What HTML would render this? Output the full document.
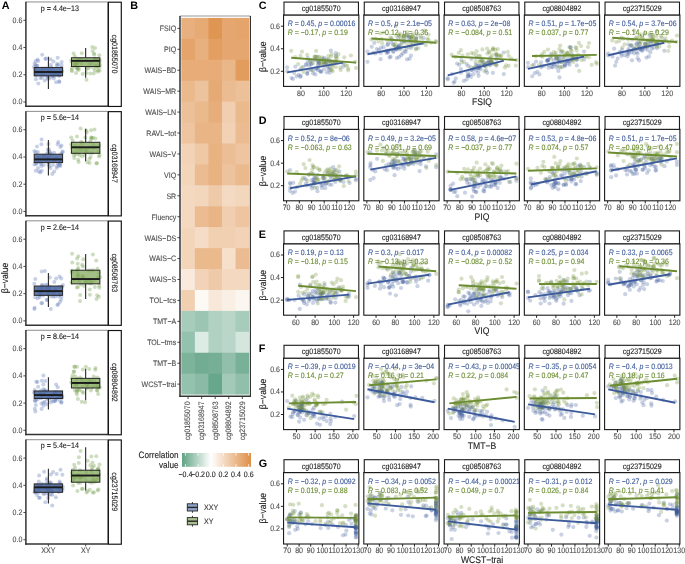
<!DOCTYPE html>
<html><head><meta charset="utf-8"><style>
html,body{margin:0;padding:0;background:#fff;}
svg{display:block;will-change:transform;filter:blur(0.3px);text-rendering:geometricPrecision;}
text{stroke-width:0.1px;}
svg{font-family:"Liberation Sans", sans-serif;}
</style></head><body>
<svg width="685" height="564" viewBox="0 0 685 564">
<rect x="0" y="0" width="685" height="564" fill="#fff"/>
<text x="1.70" y="9.13" font-size="10.8" font-weight="bold" fill="#000">A</text>
<text x="130.20" y="9.13" font-size="10.8" font-weight="bold" fill="#000">B</text>
<text x="258.80" y="9.23" font-size="10.8" font-weight="bold" fill="#000">C</text>
<text x="258.80" y="123.63" font-size="10.8" font-weight="bold" fill="#000">D</text>
<text x="258.80" y="238.03" font-size="10.8" font-weight="bold" fill="#000">E</text>
<text x="258.80" y="352.43" font-size="10.8" font-weight="bold" fill="#000">F</text>
<text x="258.80" y="466.83" font-size="10.8" font-weight="bold" fill="#000">G</text>
<line x1="25.90" y1="1.95" x2="107.70" y2="1.95" stroke="#7f7f7f" stroke-width="0.9" />
<line x1="107.70" y1="1.75" x2="107.70" y2="106.25" stroke="#7f7f7f" stroke-width="0.9" />
<line x1="23.40" y1="102.00" x2="25.90" y2="102.00" stroke="#333" stroke-width="0.9" />
<text transform="translate(22.40,104.43) scale(1,1.12)" font-size="7.05" fill="#4d4d4d" stroke="#4d4d4d" text-anchor="end" >0.0</text>
<line x1="23.40" y1="74.77" x2="25.90" y2="74.77" stroke="#333" stroke-width="0.9" />
<text transform="translate(22.40,77.20) scale(1,1.12)" font-size="7.05" fill="#4d4d4d" stroke="#4d4d4d" text-anchor="end" >0.2</text>
<line x1="23.40" y1="47.54" x2="25.90" y2="47.54" stroke="#333" stroke-width="0.9" />
<text transform="translate(22.40,49.97) scale(1,1.12)" font-size="7.05" fill="#4d4d4d" stroke="#4d4d4d" text-anchor="end" >0.4</text>
<line x1="23.40" y1="20.31" x2="25.90" y2="20.31" stroke="#333" stroke-width="0.9" />
<text transform="translate(22.40,22.74) scale(1,1.12)" font-size="7.05" fill="#4d4d4d" stroke="#4d4d4d" text-anchor="end" >0.6</text>
<g fill="#647dba" fill-opacity="0.36">
<circle cx="52.8" cy="69.8" r="2.0"/>
<circle cx="36.0" cy="75.4" r="2.0"/>
<circle cx="35.6" cy="64.9" r="2.0"/>
<circle cx="48.6" cy="70.1" r="2.0"/>
<circle cx="35.9" cy="79.2" r="2.0"/>
<circle cx="36.5" cy="73.5" r="2.0"/>
<circle cx="37.5" cy="59.5" r="2.0"/>
<circle cx="40.4" cy="77.9" r="2.0"/>
<circle cx="50.6" cy="59.3" r="2.0"/>
<circle cx="45.4" cy="58.9" r="2.0"/>
<circle cx="58.8" cy="73.9" r="2.0"/>
<circle cx="42.3" cy="71.3" r="2.0"/>
<circle cx="42.8" cy="73.9" r="2.0"/>
<circle cx="57.6" cy="74.5" r="2.0"/>
<circle cx="52.4" cy="75.7" r="2.0"/>
<circle cx="44.7" cy="80.4" r="2.0"/>
<circle cx="35.6" cy="69.1" r="2.0"/>
<circle cx="39.9" cy="70.9" r="2.0"/>
<circle cx="43.0" cy="68.4" r="2.0"/>
<circle cx="50.9" cy="64.7" r="2.0"/>
<circle cx="56.9" cy="65.7" r="2.0"/>
<circle cx="54.2" cy="73.4" r="2.0"/>
<circle cx="49.1" cy="72.0" r="2.0"/>
<circle cx="59.3" cy="81.2" r="2.0"/>
<circle cx="62.3" cy="70.9" r="2.0"/>
<circle cx="37.3" cy="65.7" r="2.0"/>
<circle cx="38.3" cy="61.0" r="2.0"/>
<circle cx="48.1" cy="77.7" r="2.0"/>
<circle cx="56.1" cy="82.2" r="2.0"/>
<circle cx="50.5" cy="74.3" r="2.0"/>
<circle cx="54.1" cy="76.1" r="2.0"/>
<circle cx="51.1" cy="67.2" r="2.0"/>
<circle cx="58.3" cy="64.6" r="2.0"/>
<circle cx="61.3" cy="67.8" r="2.0"/>
<circle cx="35.7" cy="61.0" r="2.0"/>
<circle cx="54.2" cy="73.4" r="2.0"/>
<circle cx="57.7" cy="57.8" r="2.0"/>
<circle cx="42.2" cy="54.8" r="2.0"/>
<circle cx="34.6" cy="63.5" r="2.0"/>
<circle cx="47.3" cy="78.8" r="2.0"/>
<circle cx="35.6" cy="73.4" r="2.0"/>
<circle cx="56.2" cy="74.8" r="2.0"/>
<circle cx="45.2" cy="75.4" r="2.0"/>
<circle cx="59.2" cy="75.7" r="2.0"/>
<circle cx="49.8" cy="78.6" r="2.0"/>
<circle cx="59.5" cy="75.5" r="2.0"/>
<circle cx="42.0" cy="77.8" r="2.0"/>
<circle cx="45.9" cy="58.4" r="2.0"/>
<circle cx="61.7" cy="62.1" r="2.0"/>
<circle cx="38.3" cy="83.4" r="2.0"/>
<circle cx="40.7" cy="74.0" r="2.0"/>
<circle cx="48.0" cy="76.4" r="2.0"/>
<circle cx="34.0" cy="66.8" r="2.0"/>
<circle cx="46.0" cy="68.6" r="2.0"/>
<circle cx="61.5" cy="65.2" r="2.0"/>
<circle cx="53.9" cy="78.6" r="2.0"/>
<circle cx="53.5" cy="61.6" r="2.0"/>
<circle cx="35.5" cy="70.7" r="2.0"/>
<circle cx="59.3" cy="81.9" r="2.0"/>
<circle cx="57.0" cy="64.1" r="2.0"/>
<circle cx="36.9" cy="65.9" r="2.0"/>
<circle cx="52.3" cy="76.3" r="2.0"/>
</g>
<g fill="#78a050" fill-opacity="0.36">
<circle cx="77.2" cy="64.8" r="2.0"/>
<circle cx="75.9" cy="63.2" r="2.0"/>
<circle cx="71.2" cy="60.8" r="2.0"/>
<circle cx="75.5" cy="64.3" r="2.0"/>
<circle cx="71.9" cy="68.0" r="2.0"/>
<circle cx="96.5" cy="66.5" r="2.0"/>
<circle cx="78.5" cy="58.9" r="2.0"/>
<circle cx="81.2" cy="59.3" r="2.0"/>
<circle cx="95.8" cy="59.6" r="2.0"/>
<circle cx="99.9" cy="65.1" r="2.0"/>
<circle cx="73.6" cy="53.5" r="2.0"/>
<circle cx="74.1" cy="64.0" r="2.0"/>
<circle cx="95.2" cy="58.9" r="2.0"/>
<circle cx="75.8" cy="67.2" r="2.0"/>
<circle cx="86.5" cy="79.8" r="2.0"/>
<circle cx="75.4" cy="64.9" r="2.0"/>
<circle cx="86.5" cy="60.4" r="2.0"/>
<circle cx="99.5" cy="61.7" r="2.0"/>
<circle cx="78.7" cy="69.9" r="2.0"/>
<circle cx="81.8" cy="53.2" r="2.0"/>
<circle cx="86.6" cy="68.7" r="2.0"/>
<circle cx="93.7" cy="73.6" r="2.0"/>
<circle cx="94.7" cy="59.5" r="2.0"/>
<circle cx="99.7" cy="66.9" r="2.0"/>
<circle cx="94.9" cy="70.5" r="2.0"/>
<circle cx="92.6" cy="51.1" r="2.0"/>
<circle cx="81.5" cy="63.5" r="2.0"/>
<circle cx="72.0" cy="71.3" r="2.0"/>
<circle cx="78.7" cy="68.2" r="2.0"/>
<circle cx="91.2" cy="63.2" r="2.0"/>
<circle cx="98.3" cy="70.2" r="2.0"/>
<circle cx="99.8" cy="59.9" r="2.0"/>
<circle cx="77.5" cy="69.1" r="2.0"/>
<circle cx="77.7" cy="60.1" r="2.0"/>
<circle cx="89.2" cy="63.9" r="2.0"/>
<circle cx="97.3" cy="67.0" r="2.0"/>
<circle cx="90.1" cy="66.9" r="2.0"/>
<circle cx="94.3" cy="54.8" r="2.0"/>
<circle cx="97.5" cy="71.8" r="2.0"/>
<circle cx="93.8" cy="67.9" r="2.0"/>
<circle cx="76.3" cy="62.2" r="2.0"/>
<circle cx="94.0" cy="53.4" r="2.0"/>
<circle cx="99.3" cy="55.3" r="2.0"/>
<circle cx="82.6" cy="74.1" r="2.0"/>
<circle cx="92.2" cy="47.1" r="2.0"/>
<circle cx="76.1" cy="72.9" r="2.0"/>
<circle cx="97.4" cy="65.2" r="2.0"/>
<circle cx="94.5" cy="65.3" r="2.0"/>
<circle cx="99.6" cy="70.8" r="2.0"/>
<circle cx="90.2" cy="73.5" r="2.0"/>
<circle cx="74.9" cy="56.5" r="2.0"/>
<circle cx="71.6" cy="69.9" r="2.0"/>
<circle cx="86.4" cy="73.0" r="2.0"/>
<circle cx="98.2" cy="60.1" r="2.0"/>
<circle cx="95.1" cy="48.0" r="2.0"/>
<circle cx="77.3" cy="68.4" r="2.0"/>
<circle cx="78.1" cy="62.1" r="2.0"/>
<circle cx="88.2" cy="68.5" r="2.0"/>
</g>
<line x1="48.40" y1="56.75" x2="48.40" y2="67.45" stroke="#262626" stroke-width="1.1" />
<line x1="48.40" y1="75.85" x2="48.40" y2="88.95" stroke="#262626" stroke-width="1.1" />
<rect x="34.20" y="67.45" width="28.40" height="8.40" fill="#46649e" stroke="#262626" stroke-width="1.0" fill-opacity="0.85"/>
<line x1="34.20" y1="72.00" x2="62.60" y2="72.00" stroke="#1a1a1a" stroke-width="1.9" />
<line x1="85.65" y1="47.95" x2="85.65" y2="57.75" stroke="#262626" stroke-width="1.1" />
<line x1="85.65" y1="66.55" x2="85.65" y2="77.85" stroke="#262626" stroke-width="1.1" />
<rect x="71.45" y="57.75" width="28.40" height="8.80" fill="#83a85b" stroke="#262626" stroke-width="1.0" fill-opacity="0.74"/>
<line x1="71.45" y1="60.85" x2="99.85" y2="60.85" stroke="#1a1a1a" stroke-width="1.9" />
<text transform="translate(59.90,10.62) scale(1,1.12)" font-size="7.15" fill="#1a1a1a" stroke="#1a1a1a" text-anchor="middle" >p = 4.4e−13</text>
<line x1="25.90" y1="1.75" x2="25.90" y2="106.95" stroke="#333" stroke-width="1.5" />
<line x1="25.20" y1="106.25" x2="108.10" y2="106.25" stroke="#333" stroke-width="1.5" />
<rect x="108.40" y="2.20" width="12.90" height="104.25" fill="#fff" stroke="#111" stroke-width="1.15" />
<text x="0" y="0" font-size="7.05" fill="#1a1a1a" stroke="#1a1a1a" text-anchor="middle" transform="translate(112.02,54.00) rotate(90) scale(1,1.12)">cg01855070</text>
<line x1="25.90" y1="111.39" x2="107.70" y2="111.39" stroke="#7f7f7f" stroke-width="0.9" />
<line x1="107.70" y1="111.19" x2="107.70" y2="215.69" stroke="#7f7f7f" stroke-width="0.9" />
<line x1="23.40" y1="211.44" x2="25.90" y2="211.44" stroke="#333" stroke-width="0.9" />
<text transform="translate(22.40,213.87) scale(1,1.12)" font-size="7.05" fill="#4d4d4d" stroke="#4d4d4d" text-anchor="end" >0.0</text>
<line x1="23.40" y1="184.21" x2="25.90" y2="184.21" stroke="#333" stroke-width="0.9" />
<text transform="translate(22.40,186.64) scale(1,1.12)" font-size="7.05" fill="#4d4d4d" stroke="#4d4d4d" text-anchor="end" >0.2</text>
<line x1="23.40" y1="156.98" x2="25.90" y2="156.98" stroke="#333" stroke-width="0.9" />
<text transform="translate(22.40,159.41) scale(1,1.12)" font-size="7.05" fill="#4d4d4d" stroke="#4d4d4d" text-anchor="end" >0.4</text>
<line x1="23.40" y1="129.75" x2="25.90" y2="129.75" stroke="#333" stroke-width="0.9" />
<text transform="translate(22.40,132.18) scale(1,1.12)" font-size="7.05" fill="#4d4d4d" stroke="#4d4d4d" text-anchor="end" >0.6</text>
<g fill="#647dba" fill-opacity="0.36">
<circle cx="37.7" cy="157.9" r="2.0"/>
<circle cx="60.3" cy="166.0" r="2.0"/>
<circle cx="50.8" cy="153.5" r="2.0"/>
<circle cx="60.1" cy="164.8" r="2.0"/>
<circle cx="48.4" cy="144.1" r="2.0"/>
<circle cx="49.3" cy="166.2" r="2.0"/>
<circle cx="46.7" cy="157.0" r="2.0"/>
<circle cx="39.2" cy="158.2" r="2.0"/>
<circle cx="38.9" cy="171.5" r="2.0"/>
<circle cx="47.6" cy="158.7" r="2.0"/>
<circle cx="43.4" cy="156.9" r="2.0"/>
<circle cx="48.9" cy="149.2" r="2.0"/>
<circle cx="37.0" cy="146.4" r="2.0"/>
<circle cx="50.1" cy="154.0" r="2.0"/>
<circle cx="56.3" cy="158.4" r="2.0"/>
<circle cx="48.6" cy="164.3" r="2.0"/>
<circle cx="60.4" cy="147.0" r="2.0"/>
<circle cx="46.8" cy="153.7" r="2.0"/>
<circle cx="48.8" cy="151.8" r="2.0"/>
<circle cx="54.0" cy="152.8" r="2.0"/>
<circle cx="47.8" cy="149.8" r="2.0"/>
<circle cx="61.2" cy="161.0" r="2.0"/>
<circle cx="61.2" cy="153.7" r="2.0"/>
<circle cx="41.4" cy="144.2" r="2.0"/>
<circle cx="58.3" cy="142.1" r="2.0"/>
<circle cx="37.9" cy="152.0" r="2.0"/>
<circle cx="36.0" cy="164.1" r="2.0"/>
<circle cx="40.9" cy="163.9" r="2.0"/>
<circle cx="56.6" cy="168.1" r="2.0"/>
<circle cx="59.9" cy="163.2" r="2.0"/>
<circle cx="53.0" cy="164.9" r="2.0"/>
<circle cx="38.0" cy="168.0" r="2.0"/>
<circle cx="40.3" cy="172.6" r="2.0"/>
<circle cx="61.5" cy="145.5" r="2.0"/>
<circle cx="62.6" cy="151.6" r="2.0"/>
<circle cx="58.0" cy="163.4" r="2.0"/>
<circle cx="48.9" cy="162.5" r="2.0"/>
<circle cx="43.7" cy="165.0" r="2.0"/>
<circle cx="54.8" cy="160.5" r="2.0"/>
<circle cx="34.5" cy="164.4" r="2.0"/>
<circle cx="34.4" cy="151.0" r="2.0"/>
<circle cx="43.5" cy="155.8" r="2.0"/>
<circle cx="35.8" cy="152.2" r="2.0"/>
<circle cx="62.5" cy="152.2" r="2.0"/>
<circle cx="36.9" cy="163.0" r="2.0"/>
<circle cx="41.6" cy="139.5" r="2.0"/>
<circle cx="41.7" cy="170.7" r="2.0"/>
<circle cx="37.7" cy="161.5" r="2.0"/>
<circle cx="57.7" cy="144.2" r="2.0"/>
<circle cx="41.4" cy="165.9" r="2.0"/>
<circle cx="50.4" cy="168.1" r="2.0"/>
<circle cx="54.2" cy="171.6" r="2.0"/>
<circle cx="53.9" cy="160.5" r="2.0"/>
<circle cx="46.2" cy="159.7" r="2.0"/>
<circle cx="52.3" cy="173.9" r="2.0"/>
<circle cx="57.1" cy="166.0" r="2.0"/>
<circle cx="35.8" cy="170.8" r="2.0"/>
<circle cx="58.9" cy="165.6" r="2.0"/>
<circle cx="49.9" cy="152.0" r="2.0"/>
<circle cx="60.8" cy="160.3" r="2.0"/>
<circle cx="49.2" cy="158.0" r="2.0"/>
<circle cx="40.8" cy="162.2" r="2.0"/>
</g>
<g fill="#78a050" fill-opacity="0.36">
<circle cx="72.6" cy="152.2" r="2.0"/>
<circle cx="77.0" cy="151.4" r="2.0"/>
<circle cx="93.2" cy="144.7" r="2.0"/>
<circle cx="79.6" cy="155.3" r="2.0"/>
<circle cx="81.2" cy="141.8" r="2.0"/>
<circle cx="71.7" cy="147.8" r="2.0"/>
<circle cx="92.4" cy="147.8" r="2.0"/>
<circle cx="87.1" cy="149.5" r="2.0"/>
<circle cx="98.3" cy="151.8" r="2.0"/>
<circle cx="74.2" cy="157.9" r="2.0"/>
<circle cx="85.5" cy="152.1" r="2.0"/>
<circle cx="95.4" cy="138.6" r="2.0"/>
<circle cx="91.1" cy="138.9" r="2.0"/>
<circle cx="99.6" cy="154.9" r="2.0"/>
<circle cx="91.6" cy="137.8" r="2.0"/>
<circle cx="89.6" cy="162.9" r="2.0"/>
<circle cx="72.7" cy="140.5" r="2.0"/>
<circle cx="74.9" cy="152.8" r="2.0"/>
<circle cx="78.6" cy="162.0" r="2.0"/>
<circle cx="75.9" cy="154.5" r="2.0"/>
<circle cx="96.4" cy="163.3" r="2.0"/>
<circle cx="90.6" cy="157.1" r="2.0"/>
<circle cx="79.6" cy="146.4" r="2.0"/>
<circle cx="84.5" cy="154.8" r="2.0"/>
<circle cx="78.8" cy="153.5" r="2.0"/>
<circle cx="99.0" cy="156.5" r="2.0"/>
<circle cx="78.2" cy="159.7" r="2.0"/>
<circle cx="99.2" cy="145.7" r="2.0"/>
<circle cx="71.2" cy="144.5" r="2.0"/>
<circle cx="82.2" cy="156.2" r="2.0"/>
<circle cx="77.0" cy="136.6" r="2.0"/>
<circle cx="85.8" cy="149.6" r="2.0"/>
<circle cx="73.8" cy="155.3" r="2.0"/>
<circle cx="82.7" cy="148.0" r="2.0"/>
<circle cx="80.0" cy="149.8" r="2.0"/>
<circle cx="77.9" cy="148.3" r="2.0"/>
<circle cx="92.9" cy="137.7" r="2.0"/>
<circle cx="90.2" cy="141.8" r="2.0"/>
<circle cx="82.4" cy="143.6" r="2.0"/>
<circle cx="80.6" cy="128.6" r="2.0"/>
<circle cx="92.2" cy="153.2" r="2.0"/>
<circle cx="89.8" cy="147.3" r="2.0"/>
<circle cx="97.0" cy="163.3" r="2.0"/>
<circle cx="89.3" cy="152.7" r="2.0"/>
<circle cx="75.2" cy="146.0" r="2.0"/>
<circle cx="86.3" cy="130.4" r="2.0"/>
<circle cx="94.5" cy="129.6" r="2.0"/>
<circle cx="95.1" cy="147.3" r="2.0"/>
<circle cx="91.0" cy="130.3" r="2.0"/>
<circle cx="91.3" cy="137.6" r="2.0"/>
<circle cx="75.0" cy="148.1" r="2.0"/>
<circle cx="81.6" cy="150.2" r="2.0"/>
<circle cx="87.3" cy="162.2" r="2.0"/>
<circle cx="89.4" cy="158.9" r="2.0"/>
<circle cx="85.3" cy="137.6" r="2.0"/>
<circle cx="71.2" cy="137.5" r="2.0"/>
<circle cx="85.7" cy="152.5" r="2.0"/>
<circle cx="86.7" cy="132.6" r="2.0"/>
</g>
<line x1="48.40" y1="139.89" x2="48.40" y2="154.19" stroke="#262626" stroke-width="1.1" />
<line x1="48.40" y1="162.59" x2="48.40" y2="175.59" stroke="#262626" stroke-width="1.1" />
<rect x="34.20" y="154.19" width="28.40" height="8.40" fill="#46649e" stroke="#262626" stroke-width="1.0" fill-opacity="0.85"/>
<line x1="34.20" y1="159.39" x2="62.60" y2="159.39" stroke="#1a1a1a" stroke-width="1.9" />
<line x1="85.65" y1="128.69" x2="85.65" y2="142.29" stroke="#262626" stroke-width="1.1" />
<line x1="85.65" y1="153.29" x2="85.65" y2="161.29" stroke="#262626" stroke-width="1.1" />
<rect x="71.45" y="142.29" width="28.40" height="11.00" fill="#83a85b" stroke="#262626" stroke-width="1.0" fill-opacity="0.74"/>
<line x1="71.45" y1="147.29" x2="99.85" y2="147.29" stroke="#1a1a1a" stroke-width="1.9" />
<text transform="translate(59.90,120.06) scale(1,1.12)" font-size="7.15" fill="#1a1a1a" stroke="#1a1a1a" text-anchor="middle" >p = 5.6e−14</text>
<line x1="25.90" y1="111.19" x2="25.90" y2="216.39" stroke="#333" stroke-width="1.5" />
<line x1="25.20" y1="215.69" x2="108.10" y2="215.69" stroke="#333" stroke-width="1.5" />
<rect x="108.40" y="111.64" width="12.90" height="104.25" fill="#fff" stroke="#111" stroke-width="1.15" />
<text x="0" y="0" font-size="7.05" fill="#1a1a1a" stroke="#1a1a1a" text-anchor="middle" transform="translate(112.02,163.44) rotate(90) scale(1,1.12)">cg03168947</text>
<line x1="25.90" y1="220.83" x2="107.70" y2="220.83" stroke="#7f7f7f" stroke-width="0.9" />
<line x1="107.70" y1="220.63" x2="107.70" y2="325.13" stroke="#7f7f7f" stroke-width="0.9" />
<line x1="23.40" y1="320.88" x2="25.90" y2="320.88" stroke="#333" stroke-width="0.9" />
<text transform="translate(22.40,323.31) scale(1,1.12)" font-size="7.05" fill="#4d4d4d" stroke="#4d4d4d" text-anchor="end" >0.0</text>
<line x1="23.40" y1="293.65" x2="25.90" y2="293.65" stroke="#333" stroke-width="0.9" />
<text transform="translate(22.40,296.08) scale(1,1.12)" font-size="7.05" fill="#4d4d4d" stroke="#4d4d4d" text-anchor="end" >0.2</text>
<line x1="23.40" y1="266.42" x2="25.90" y2="266.42" stroke="#333" stroke-width="0.9" />
<text transform="translate(22.40,268.85) scale(1,1.12)" font-size="7.05" fill="#4d4d4d" stroke="#4d4d4d" text-anchor="end" >0.4</text>
<line x1="23.40" y1="239.19" x2="25.90" y2="239.19" stroke="#333" stroke-width="0.9" />
<text transform="translate(22.40,241.62) scale(1,1.12)" font-size="7.05" fill="#4d4d4d" stroke="#4d4d4d" text-anchor="end" >0.6</text>
<g fill="#647dba" fill-opacity="0.36">
<circle cx="55.3" cy="289.1" r="2.0"/>
<circle cx="41.2" cy="288.2" r="2.0"/>
<circle cx="55.1" cy="296.4" r="2.0"/>
<circle cx="39.9" cy="293.5" r="2.0"/>
<circle cx="48.2" cy="289.3" r="2.0"/>
<circle cx="45.0" cy="271.0" r="2.0"/>
<circle cx="56.1" cy="278.5" r="2.0"/>
<circle cx="51.8" cy="292.3" r="2.0"/>
<circle cx="38.2" cy="288.7" r="2.0"/>
<circle cx="41.3" cy="288.1" r="2.0"/>
<circle cx="50.4" cy="290.4" r="2.0"/>
<circle cx="34.3" cy="283.8" r="2.0"/>
<circle cx="53.4" cy="296.6" r="2.0"/>
<circle cx="54.0" cy="293.1" r="2.0"/>
<circle cx="48.9" cy="287.7" r="2.0"/>
<circle cx="47.4" cy="284.7" r="2.0"/>
<circle cx="59.8" cy="286.7" r="2.0"/>
<circle cx="39.7" cy="291.5" r="2.0"/>
<circle cx="34.4" cy="308.9" r="2.0"/>
<circle cx="47.2" cy="288.1" r="2.0"/>
<circle cx="46.9" cy="299.7" r="2.0"/>
<circle cx="41.7" cy="271.5" r="2.0"/>
<circle cx="40.0" cy="295.6" r="2.0"/>
<circle cx="50.8" cy="308.9" r="2.0"/>
<circle cx="61.5" cy="296.9" r="2.0"/>
<circle cx="37.7" cy="298.3" r="2.0"/>
<circle cx="59.6" cy="294.8" r="2.0"/>
<circle cx="54.3" cy="282.0" r="2.0"/>
<circle cx="48.0" cy="292.7" r="2.0"/>
<circle cx="34.6" cy="307.8" r="2.0"/>
<circle cx="47.0" cy="300.1" r="2.0"/>
<circle cx="42.7" cy="290.9" r="2.0"/>
<circle cx="43.1" cy="295.4" r="2.0"/>
<circle cx="58.3" cy="296.4" r="2.0"/>
<circle cx="58.2" cy="304.2" r="2.0"/>
<circle cx="37.4" cy="290.8" r="2.0"/>
<circle cx="60.0" cy="302.1" r="2.0"/>
<circle cx="42.3" cy="285.0" r="2.0"/>
<circle cx="62.9" cy="285.1" r="2.0"/>
<circle cx="51.0" cy="296.5" r="2.0"/>
<circle cx="41.9" cy="285.2" r="2.0"/>
<circle cx="35.3" cy="297.2" r="2.0"/>
<circle cx="42.2" cy="303.0" r="2.0"/>
<circle cx="61.0" cy="299.8" r="2.0"/>
<circle cx="48.7" cy="290.7" r="2.0"/>
<circle cx="39.4" cy="297.0" r="2.0"/>
<circle cx="59.5" cy="276.5" r="2.0"/>
<circle cx="57.4" cy="305.1" r="2.0"/>
<circle cx="61.2" cy="278.5" r="2.0"/>
<circle cx="49.8" cy="277.6" r="2.0"/>
<circle cx="55.1" cy="290.2" r="2.0"/>
<circle cx="47.0" cy="288.2" r="2.0"/>
<circle cx="42.2" cy="290.9" r="2.0"/>
<circle cx="35.3" cy="279.1" r="2.0"/>
<circle cx="47.6" cy="294.5" r="2.0"/>
<circle cx="43.9" cy="288.8" r="2.0"/>
<circle cx="62.2" cy="286.8" r="2.0"/>
<circle cx="41.4" cy="303.3" r="2.0"/>
<circle cx="50.1" cy="286.9" r="2.0"/>
<circle cx="45.3" cy="285.0" r="2.0"/>
<circle cx="39.9" cy="293.1" r="2.0"/>
<circle cx="60.2" cy="294.8" r="2.0"/>
</g>
<g fill="#78a050" fill-opacity="0.36">
<circle cx="97.4" cy="268.7" r="2.0"/>
<circle cx="100.0" cy="277.2" r="2.0"/>
<circle cx="76.7" cy="270.9" r="2.0"/>
<circle cx="73.8" cy="279.0" r="2.0"/>
<circle cx="78.1" cy="274.2" r="2.0"/>
<circle cx="78.6" cy="281.4" r="2.0"/>
<circle cx="92.9" cy="254.6" r="2.0"/>
<circle cx="83.1" cy="266.6" r="2.0"/>
<circle cx="82.1" cy="264.7" r="2.0"/>
<circle cx="81.0" cy="284.5" r="2.0"/>
<circle cx="99.2" cy="285.8" r="2.0"/>
<circle cx="74.8" cy="280.7" r="2.0"/>
<circle cx="96.2" cy="260.4" r="2.0"/>
<circle cx="77.4" cy="276.7" r="2.0"/>
<circle cx="82.7" cy="275.9" r="2.0"/>
<circle cx="84.1" cy="285.9" r="2.0"/>
<circle cx="96.5" cy="299.1" r="2.0"/>
<circle cx="71.8" cy="270.5" r="2.0"/>
<circle cx="97.1" cy="295.2" r="2.0"/>
<circle cx="84.9" cy="280.8" r="2.0"/>
<circle cx="82.5" cy="276.8" r="2.0"/>
<circle cx="98.0" cy="276.9" r="2.0"/>
<circle cx="99.3" cy="287.7" r="2.0"/>
<circle cx="78.4" cy="256.3" r="2.0"/>
<circle cx="86.3" cy="282.3" r="2.0"/>
<circle cx="90.9" cy="281.4" r="2.0"/>
<circle cx="89.9" cy="294.7" r="2.0"/>
<circle cx="93.3" cy="270.2" r="2.0"/>
<circle cx="72.3" cy="262.6" r="2.0"/>
<circle cx="93.8" cy="281.0" r="2.0"/>
<circle cx="89.9" cy="279.9" r="2.0"/>
<circle cx="80.0" cy="301.0" r="2.0"/>
<circle cx="89.6" cy="283.3" r="2.0"/>
<circle cx="91.4" cy="283.5" r="2.0"/>
<circle cx="86.4" cy="280.5" r="2.0"/>
<circle cx="88.1" cy="280.0" r="2.0"/>
<circle cx="88.6" cy="270.6" r="2.0"/>
<circle cx="71.5" cy="282.5" r="2.0"/>
<circle cx="99.0" cy="272.8" r="2.0"/>
<circle cx="89.8" cy="289.5" r="2.0"/>
<circle cx="78.0" cy="287.0" r="2.0"/>
<circle cx="78.3" cy="268.1" r="2.0"/>
<circle cx="80.1" cy="294.9" r="2.0"/>
<circle cx="71.8" cy="272.5" r="2.0"/>
<circle cx="83.3" cy="259.3" r="2.0"/>
<circle cx="78.6" cy="277.2" r="2.0"/>
<circle cx="77.7" cy="263.7" r="2.0"/>
<circle cx="72.1" cy="253.7" r="2.0"/>
<circle cx="90.9" cy="270.5" r="2.0"/>
<circle cx="76.9" cy="287.5" r="2.0"/>
<circle cx="85.8" cy="282.7" r="2.0"/>
<circle cx="77.1" cy="258.5" r="2.0"/>
<circle cx="94.9" cy="287.1" r="2.0"/>
<circle cx="77.8" cy="275.1" r="2.0"/>
<circle cx="79.7" cy="280.6" r="2.0"/>
<circle cx="98.8" cy="296.7" r="2.0"/>
<circle cx="77.6" cy="269.4" r="2.0"/>
<circle cx="83.2" cy="277.2" r="2.0"/>
</g>
<line x1="48.40" y1="273.03" x2="48.40" y2="286.03" stroke="#262626" stroke-width="1.1" />
<line x1="48.40" y1="295.33" x2="48.40" y2="306.93" stroke="#262626" stroke-width="1.1" />
<rect x="34.20" y="286.03" width="28.40" height="9.30" fill="#46649e" stroke="#262626" stroke-width="1.0" fill-opacity="0.85"/>
<line x1="34.20" y1="291.13" x2="62.60" y2="291.13" stroke="#1a1a1a" stroke-width="1.9" />
<line x1="85.65" y1="254.03" x2="85.65" y2="270.23" stroke="#262626" stroke-width="1.1" />
<line x1="85.65" y1="283.83" x2="85.65" y2="299.03" stroke="#262626" stroke-width="1.1" />
<rect x="71.45" y="270.23" width="28.40" height="13.60" fill="#83a85b" stroke="#262626" stroke-width="1.0" fill-opacity="0.74"/>
<line x1="71.45" y1="279.03" x2="99.85" y2="279.03" stroke="#1a1a1a" stroke-width="1.9" />
<text transform="translate(59.90,229.50) scale(1,1.12)" font-size="7.15" fill="#1a1a1a" stroke="#1a1a1a" text-anchor="middle" >p = 2.6e−14</text>
<line x1="25.90" y1="220.63" x2="25.90" y2="325.83" stroke="#333" stroke-width="1.5" />
<line x1="25.20" y1="325.13" x2="108.10" y2="325.13" stroke="#333" stroke-width="1.5" />
<rect x="108.40" y="221.08" width="12.90" height="104.25" fill="#fff" stroke="#111" stroke-width="1.15" />
<text x="0" y="0" font-size="7.05" fill="#1a1a1a" stroke="#1a1a1a" text-anchor="middle" transform="translate(112.02,272.88) rotate(90) scale(1,1.12)">cg08508763</text>
<line x1="25.90" y1="330.27" x2="107.70" y2="330.27" stroke="#7f7f7f" stroke-width="0.9" />
<line x1="107.70" y1="330.07" x2="107.70" y2="434.57" stroke="#7f7f7f" stroke-width="0.9" />
<line x1="23.40" y1="430.32" x2="25.90" y2="430.32" stroke="#333" stroke-width="0.9" />
<text transform="translate(22.40,432.75) scale(1,1.12)" font-size="7.05" fill="#4d4d4d" stroke="#4d4d4d" text-anchor="end" >0.0</text>
<line x1="23.40" y1="403.09" x2="25.90" y2="403.09" stroke="#333" stroke-width="0.9" />
<text transform="translate(22.40,405.52) scale(1,1.12)" font-size="7.05" fill="#4d4d4d" stroke="#4d4d4d" text-anchor="end" >0.2</text>
<line x1="23.40" y1="375.86" x2="25.90" y2="375.86" stroke="#333" stroke-width="0.9" />
<text transform="translate(22.40,378.29) scale(1,1.12)" font-size="7.05" fill="#4d4d4d" stroke="#4d4d4d" text-anchor="end" >0.4</text>
<line x1="23.40" y1="348.63" x2="25.90" y2="348.63" stroke="#333" stroke-width="0.9" />
<text transform="translate(22.40,351.06) scale(1,1.12)" font-size="7.05" fill="#4d4d4d" stroke="#4d4d4d" text-anchor="end" >0.6</text>
<g fill="#647dba" fill-opacity="0.36">
<circle cx="38.1" cy="386.7" r="2.0"/>
<circle cx="45.3" cy="381.0" r="2.0"/>
<circle cx="38.0" cy="398.8" r="2.0"/>
<circle cx="35.4" cy="411.6" r="2.0"/>
<circle cx="59.9" cy="400.8" r="2.0"/>
<circle cx="59.5" cy="397.1" r="2.0"/>
<circle cx="60.9" cy="392.3" r="2.0"/>
<circle cx="43.4" cy="375.4" r="2.0"/>
<circle cx="55.5" cy="400.7" r="2.0"/>
<circle cx="34.8" cy="408.8" r="2.0"/>
<circle cx="44.7" cy="391.5" r="2.0"/>
<circle cx="43.5" cy="389.3" r="2.0"/>
<circle cx="42.0" cy="395.0" r="2.0"/>
<circle cx="44.1" cy="395.2" r="2.0"/>
<circle cx="61.9" cy="397.9" r="2.0"/>
<circle cx="39.9" cy="393.8" r="2.0"/>
<circle cx="57.7" cy="387.2" r="2.0"/>
<circle cx="46.4" cy="404.2" r="2.0"/>
<circle cx="44.7" cy="401.8" r="2.0"/>
<circle cx="60.6" cy="397.0" r="2.0"/>
<circle cx="59.9" cy="396.9" r="2.0"/>
<circle cx="34.8" cy="400.5" r="2.0"/>
<circle cx="56.1" cy="384.6" r="2.0"/>
<circle cx="35.1" cy="401.1" r="2.0"/>
<circle cx="60.6" cy="397.0" r="2.0"/>
<circle cx="41.4" cy="395.2" r="2.0"/>
<circle cx="43.7" cy="394.5" r="2.0"/>
<circle cx="41.8" cy="380.8" r="2.0"/>
<circle cx="41.5" cy="403.4" r="2.0"/>
<circle cx="54.7" cy="392.3" r="2.0"/>
<circle cx="34.0" cy="392.6" r="2.0"/>
<circle cx="55.8" cy="399.5" r="2.0"/>
<circle cx="61.3" cy="402.7" r="2.0"/>
<circle cx="34.6" cy="390.1" r="2.0"/>
<circle cx="61.6" cy="395.5" r="2.0"/>
<circle cx="61.6" cy="402.1" r="2.0"/>
<circle cx="46.4" cy="391.0" r="2.0"/>
<circle cx="48.2" cy="398.0" r="2.0"/>
<circle cx="57.2" cy="398.4" r="2.0"/>
<circle cx="55.3" cy="392.9" r="2.0"/>
<circle cx="51.5" cy="399.7" r="2.0"/>
<circle cx="43.4" cy="384.6" r="2.0"/>
<circle cx="56.6" cy="392.1" r="2.0"/>
<circle cx="36.2" cy="400.3" r="2.0"/>
<circle cx="41.1" cy="398.3" r="2.0"/>
<circle cx="35.8" cy="405.0" r="2.0"/>
<circle cx="43.3" cy="402.8" r="2.0"/>
<circle cx="62.3" cy="396.5" r="2.0"/>
<circle cx="41.6" cy="409.1" r="2.0"/>
<circle cx="36.3" cy="381.8" r="2.0"/>
<circle cx="54.5" cy="401.0" r="2.0"/>
<circle cx="46.9" cy="399.1" r="2.0"/>
<circle cx="51.9" cy="395.4" r="2.0"/>
<circle cx="53.4" cy="401.5" r="2.0"/>
<circle cx="53.2" cy="394.6" r="2.0"/>
<circle cx="37.4" cy="382.1" r="2.0"/>
<circle cx="50.3" cy="397.7" r="2.0"/>
<circle cx="44.7" cy="390.1" r="2.0"/>
<circle cx="41.1" cy="394.4" r="2.0"/>
<circle cx="41.0" cy="390.4" r="2.0"/>
<circle cx="50.7" cy="402.4" r="2.0"/>
<circle cx="43.4" cy="405.8" r="2.0"/>
</g>
<g fill="#78a050" fill-opacity="0.36">
<circle cx="85.9" cy="366.7" r="2.0"/>
<circle cx="77.9" cy="399.0" r="2.0"/>
<circle cx="99.9" cy="387.5" r="2.0"/>
<circle cx="74.1" cy="371.8" r="2.0"/>
<circle cx="95.5" cy="367.9" r="2.0"/>
<circle cx="97.7" cy="385.6" r="2.0"/>
<circle cx="74.6" cy="389.9" r="2.0"/>
<circle cx="76.6" cy="384.9" r="2.0"/>
<circle cx="98.1" cy="394.1" r="2.0"/>
<circle cx="81.9" cy="381.3" r="2.0"/>
<circle cx="78.7" cy="389.2" r="2.0"/>
<circle cx="93.7" cy="376.4" r="2.0"/>
<circle cx="88.4" cy="386.9" r="2.0"/>
<circle cx="89.1" cy="381.8" r="2.0"/>
<circle cx="75.2" cy="384.8" r="2.0"/>
<circle cx="77.1" cy="391.0" r="2.0"/>
<circle cx="90.0" cy="382.8" r="2.0"/>
<circle cx="77.0" cy="394.5" r="2.0"/>
<circle cx="90.8" cy="390.6" r="2.0"/>
<circle cx="76.5" cy="383.7" r="2.0"/>
<circle cx="94.2" cy="381.0" r="2.0"/>
<circle cx="87.0" cy="388.4" r="2.0"/>
<circle cx="82.6" cy="386.7" r="2.0"/>
<circle cx="87.1" cy="384.7" r="2.0"/>
<circle cx="75.9" cy="380.8" r="2.0"/>
<circle cx="91.3" cy="380.4" r="2.0"/>
<circle cx="80.1" cy="377.4" r="2.0"/>
<circle cx="98.8" cy="386.8" r="2.0"/>
<circle cx="81.5" cy="379.0" r="2.0"/>
<circle cx="83.2" cy="393.1" r="2.0"/>
<circle cx="81.7" cy="401.7" r="2.0"/>
<circle cx="76.9" cy="366.7" r="2.0"/>
<circle cx="71.3" cy="382.4" r="2.0"/>
<circle cx="97.3" cy="377.6" r="2.0"/>
<circle cx="82.9" cy="369.4" r="2.0"/>
<circle cx="96.8" cy="390.3" r="2.0"/>
<circle cx="71.6" cy="378.3" r="2.0"/>
<circle cx="87.1" cy="384.4" r="2.0"/>
<circle cx="73.7" cy="371.6" r="2.0"/>
<circle cx="89.2" cy="369.0" r="2.0"/>
<circle cx="75.4" cy="376.4" r="2.0"/>
<circle cx="79.4" cy="390.3" r="2.0"/>
<circle cx="74.3" cy="366.7" r="2.0"/>
<circle cx="85.4" cy="380.6" r="2.0"/>
<circle cx="76.9" cy="390.5" r="2.0"/>
<circle cx="74.8" cy="366.7" r="2.0"/>
<circle cx="85.1" cy="402.3" r="2.0"/>
<circle cx="72.7" cy="375.2" r="2.0"/>
<circle cx="97.4" cy="390.6" r="2.0"/>
<circle cx="89.1" cy="379.5" r="2.0"/>
<circle cx="93.9" cy="385.4" r="2.0"/>
<circle cx="77.6" cy="378.8" r="2.0"/>
<circle cx="95.2" cy="369.8" r="2.0"/>
<circle cx="76.5" cy="392.3" r="2.0"/>
<circle cx="86.2" cy="384.8" r="2.0"/>
<circle cx="82.3" cy="391.4" r="2.0"/>
<circle cx="92.2" cy="387.7" r="2.0"/>
<circle cx="97.2" cy="387.6" r="2.0"/>
</g>
<line x1="48.40" y1="377.37" x2="48.40" y2="390.97" stroke="#262626" stroke-width="1.1" />
<line x1="48.40" y1="398.47" x2="48.40" y2="409.57" stroke="#262626" stroke-width="1.1" />
<rect x="34.20" y="390.97" width="28.40" height="7.50" fill="#46649e" stroke="#262626" stroke-width="1.0" fill-opacity="0.85"/>
<line x1="34.20" y1="395.07" x2="62.60" y2="395.07" stroke="#1a1a1a" stroke-width="1.9" />
<line x1="85.65" y1="368.67" x2="85.65" y2="378.37" stroke="#262626" stroke-width="1.1" />
<line x1="85.65" y1="387.97" x2="85.65" y2="400.27" stroke="#262626" stroke-width="1.1" />
<rect x="71.45" y="378.37" width="28.40" height="9.60" fill="#83a85b" stroke="#262626" stroke-width="1.0" fill-opacity="0.74"/>
<line x1="71.45" y1="382.97" x2="99.85" y2="382.97" stroke="#1a1a1a" stroke-width="1.9" />
<text transform="translate(59.90,338.94) scale(1,1.12)" font-size="7.15" fill="#1a1a1a" stroke="#1a1a1a" text-anchor="middle" >p = 8.6e−14</text>
<line x1="25.90" y1="330.07" x2="25.90" y2="435.27" stroke="#333" stroke-width="1.5" />
<line x1="25.20" y1="434.57" x2="108.10" y2="434.57" stroke="#333" stroke-width="1.5" />
<rect x="108.40" y="330.52" width="12.90" height="104.25" fill="#fff" stroke="#111" stroke-width="1.15" />
<text x="0" y="0" font-size="7.05" fill="#1a1a1a" stroke="#1a1a1a" text-anchor="middle" transform="translate(112.02,382.32) rotate(90) scale(1,1.12)">cg08804892</text>
<line x1="25.90" y1="439.71" x2="107.70" y2="439.71" stroke="#7f7f7f" stroke-width="0.9" />
<line x1="107.70" y1="439.51" x2="107.70" y2="544.01" stroke="#7f7f7f" stroke-width="0.9" />
<line x1="23.40" y1="539.76" x2="25.90" y2="539.76" stroke="#333" stroke-width="0.9" />
<text transform="translate(22.40,542.19) scale(1,1.12)" font-size="7.05" fill="#4d4d4d" stroke="#4d4d4d" text-anchor="end" >0.0</text>
<line x1="23.40" y1="512.53" x2="25.90" y2="512.53" stroke="#333" stroke-width="0.9" />
<text transform="translate(22.40,514.96) scale(1,1.12)" font-size="7.05" fill="#4d4d4d" stroke="#4d4d4d" text-anchor="end" >0.2</text>
<line x1="23.40" y1="485.30" x2="25.90" y2="485.30" stroke="#333" stroke-width="0.9" />
<text transform="translate(22.40,487.73) scale(1,1.12)" font-size="7.05" fill="#4d4d4d" stroke="#4d4d4d" text-anchor="end" >0.4</text>
<line x1="23.40" y1="458.07" x2="25.90" y2="458.07" stroke="#333" stroke-width="0.9" />
<text transform="translate(22.40,460.50) scale(1,1.12)" font-size="7.05" fill="#4d4d4d" stroke="#4d4d4d" text-anchor="end" >0.6</text>
<g fill="#647dba" fill-opacity="0.36">
<circle cx="55.9" cy="497.2" r="2.0"/>
<circle cx="35.0" cy="490.5" r="2.0"/>
<circle cx="51.3" cy="490.0" r="2.0"/>
<circle cx="49.9" cy="485.0" r="2.0"/>
<circle cx="46.1" cy="483.8" r="2.0"/>
<circle cx="50.8" cy="483.6" r="2.0"/>
<circle cx="46.9" cy="478.5" r="2.0"/>
<circle cx="46.6" cy="492.9" r="2.0"/>
<circle cx="48.1" cy="498.1" r="2.0"/>
<circle cx="40.7" cy="489.6" r="2.0"/>
<circle cx="47.2" cy="489.2" r="2.0"/>
<circle cx="39.1" cy="475.4" r="2.0"/>
<circle cx="37.6" cy="484.7" r="2.0"/>
<circle cx="46.4" cy="488.7" r="2.0"/>
<circle cx="48.7" cy="494.7" r="2.0"/>
<circle cx="35.1" cy="492.4" r="2.0"/>
<circle cx="55.2" cy="486.1" r="2.0"/>
<circle cx="56.5" cy="485.8" r="2.0"/>
<circle cx="48.5" cy="485.7" r="2.0"/>
<circle cx="44.9" cy="487.9" r="2.0"/>
<circle cx="58.8" cy="491.9" r="2.0"/>
<circle cx="62.8" cy="486.9" r="2.0"/>
<circle cx="39.5" cy="486.6" r="2.0"/>
<circle cx="62.4" cy="474.8" r="2.0"/>
<circle cx="60.5" cy="469.8" r="2.0"/>
<circle cx="38.7" cy="489.0" r="2.0"/>
<circle cx="35.8" cy="492.1" r="2.0"/>
<circle cx="44.1" cy="471.7" r="2.0"/>
<circle cx="59.9" cy="488.3" r="2.0"/>
<circle cx="41.9" cy="483.8" r="2.0"/>
<circle cx="48.5" cy="489.7" r="2.0"/>
<circle cx="60.6" cy="484.4" r="2.0"/>
<circle cx="48.6" cy="489.6" r="2.0"/>
<circle cx="43.2" cy="493.6" r="2.0"/>
<circle cx="38.6" cy="492.6" r="2.0"/>
<circle cx="61.1" cy="489.2" r="2.0"/>
<circle cx="38.8" cy="481.5" r="2.0"/>
<circle cx="56.7" cy="474.1" r="2.0"/>
<circle cx="52.4" cy="494.8" r="2.0"/>
<circle cx="44.3" cy="494.1" r="2.0"/>
<circle cx="50.7" cy="494.6" r="2.0"/>
<circle cx="59.5" cy="481.5" r="2.0"/>
<circle cx="52.2" cy="505.6" r="2.0"/>
<circle cx="45.3" cy="502.2" r="2.0"/>
<circle cx="62.6" cy="489.8" r="2.0"/>
<circle cx="50.6" cy="482.6" r="2.0"/>
<circle cx="46.7" cy="480.2" r="2.0"/>
<circle cx="39.0" cy="497.7" r="2.0"/>
<circle cx="57.7" cy="488.0" r="2.0"/>
<circle cx="41.3" cy="485.8" r="2.0"/>
<circle cx="50.9" cy="474.6" r="2.0"/>
<circle cx="53.1" cy="472.0" r="2.0"/>
<circle cx="34.9" cy="487.9" r="2.0"/>
<circle cx="38.2" cy="488.5" r="2.0"/>
<circle cx="48.8" cy="482.3" r="2.0"/>
<circle cx="59.9" cy="482.9" r="2.0"/>
<circle cx="52.8" cy="491.7" r="2.0"/>
<circle cx="34.5" cy="492.0" r="2.0"/>
<circle cx="37.0" cy="494.9" r="2.0"/>
<circle cx="44.3" cy="488.2" r="2.0"/>
<circle cx="51.0" cy="489.7" r="2.0"/>
<circle cx="39.8" cy="497.7" r="2.0"/>
</g>
<g fill="#78a050" fill-opacity="0.36">
<circle cx="75.1" cy="467.8" r="2.0"/>
<circle cx="98.3" cy="467.9" r="2.0"/>
<circle cx="73.9" cy="476.4" r="2.0"/>
<circle cx="89.7" cy="482.1" r="2.0"/>
<circle cx="82.8" cy="488.8" r="2.0"/>
<circle cx="78.8" cy="463.0" r="2.0"/>
<circle cx="87.5" cy="491.2" r="2.0"/>
<circle cx="81.3" cy="477.3" r="2.0"/>
<circle cx="98.3" cy="469.3" r="2.0"/>
<circle cx="92.4" cy="467.3" r="2.0"/>
<circle cx="72.4" cy="476.4" r="2.0"/>
<circle cx="86.6" cy="492.6" r="2.0"/>
<circle cx="72.8" cy="469.8" r="2.0"/>
<circle cx="93.7" cy="480.5" r="2.0"/>
<circle cx="98.4" cy="489.4" r="2.0"/>
<circle cx="75.3" cy="477.2" r="2.0"/>
<circle cx="85.9" cy="480.7" r="2.0"/>
<circle cx="89.8" cy="489.8" r="2.0"/>
<circle cx="80.1" cy="478.7" r="2.0"/>
<circle cx="79.9" cy="470.3" r="2.0"/>
<circle cx="93.9" cy="492.6" r="2.0"/>
<circle cx="91.9" cy="482.8" r="2.0"/>
<circle cx="92.8" cy="492.6" r="2.0"/>
<circle cx="84.6" cy="477.0" r="2.0"/>
<circle cx="77.7" cy="475.6" r="2.0"/>
<circle cx="74.2" cy="464.8" r="2.0"/>
<circle cx="80.9" cy="476.5" r="2.0"/>
<circle cx="92.9" cy="479.1" r="2.0"/>
<circle cx="91.8" cy="469.4" r="2.0"/>
<circle cx="78.9" cy="457.2" r="2.0"/>
<circle cx="94.0" cy="465.7" r="2.0"/>
<circle cx="86.3" cy="472.5" r="2.0"/>
<circle cx="99.1" cy="474.8" r="2.0"/>
<circle cx="77.4" cy="491.1" r="2.0"/>
<circle cx="78.7" cy="477.5" r="2.0"/>
<circle cx="78.0" cy="475.0" r="2.0"/>
<circle cx="92.8" cy="475.2" r="2.0"/>
<circle cx="80.6" cy="451.1" r="2.0"/>
<circle cx="78.1" cy="483.0" r="2.0"/>
<circle cx="97.5" cy="469.8" r="2.0"/>
<circle cx="90.4" cy="465.3" r="2.0"/>
<circle cx="99.5" cy="464.5" r="2.0"/>
<circle cx="91.4" cy="456.6" r="2.0"/>
<circle cx="96.0" cy="480.0" r="2.0"/>
<circle cx="87.7" cy="460.7" r="2.0"/>
<circle cx="80.1" cy="482.7" r="2.0"/>
<circle cx="73.4" cy="479.7" r="2.0"/>
<circle cx="97.6" cy="490.4" r="2.0"/>
<circle cx="74.2" cy="477.7" r="2.0"/>
<circle cx="98.1" cy="478.1" r="2.0"/>
<circle cx="72.0" cy="473.0" r="2.0"/>
<circle cx="72.4" cy="481.0" r="2.0"/>
<circle cx="91.4" cy="471.0" r="2.0"/>
<circle cx="92.5" cy="462.4" r="2.0"/>
<circle cx="81.7" cy="489.0" r="2.0"/>
<circle cx="94.9" cy="481.8" r="2.0"/>
<circle cx="73.1" cy="485.5" r="2.0"/>
<circle cx="96.3" cy="456.3" r="2.0"/>
</g>
<line x1="48.40" y1="468.71" x2="48.40" y2="483.91" stroke="#262626" stroke-width="1.1" />
<line x1="48.40" y1="492.31" x2="48.40" y2="503.61" stroke="#262626" stroke-width="1.1" />
<rect x="34.20" y="483.91" width="28.40" height="8.40" fill="#46649e" stroke="#262626" stroke-width="1.0" fill-opacity="0.85"/>
<line x1="34.20" y1="487.31" x2="62.60" y2="487.31" stroke="#1a1a1a" stroke-width="1.9" />
<line x1="85.65" y1="447.31" x2="85.65" y2="470.21" stroke="#262626" stroke-width="1.1" />
<line x1="85.65" y1="482.21" x2="85.65" y2="490.61" stroke="#262626" stroke-width="1.1" />
<rect x="71.45" y="470.21" width="28.40" height="12.00" fill="#83a85b" stroke="#262626" stroke-width="1.0" fill-opacity="0.74"/>
<line x1="71.45" y1="475.51" x2="99.85" y2="475.51" stroke="#1a1a1a" stroke-width="1.9" />
<text transform="translate(59.90,448.38) scale(1,1.12)" font-size="7.15" fill="#1a1a1a" stroke="#1a1a1a" text-anchor="middle" >p = 5.4e−14</text>
<line x1="25.90" y1="439.51" x2="25.90" y2="544.71" stroke="#333" stroke-width="1.5" />
<line x1="25.20" y1="544.01" x2="108.10" y2="544.01" stroke="#333" stroke-width="1.5" />
<rect x="108.40" y="439.96" width="12.90" height="104.25" fill="#fff" stroke="#111" stroke-width="1.15" />
<text x="0" y="0" font-size="7.05" fill="#1a1a1a" stroke="#1a1a1a" text-anchor="middle" transform="translate(112.02,491.76) rotate(90) scale(1,1.12)">cg23715029</text>
<text x="0" y="0" font-size="8.6" fill="#1a1a1a" stroke="#1a1a1a" text-anchor="middle" transform="translate(7.80,278.05) rotate(-90) scale(1,1.12)">β−value</text>
<line x1="48.40" y1="544.25" x2="48.40" y2="546.40" stroke="#333" stroke-width="0.9" />
<text transform="translate(48.40,553.43) scale(1,1.12)" font-size="7.05" fill="#4d4d4d" stroke="#4d4d4d" text-anchor="middle" >XXY</text>
<line x1="85.65" y1="544.25" x2="85.65" y2="546.40" stroke="#333" stroke-width="0.9" />
<text transform="translate(85.65,553.43) scale(1,1.12)" font-size="7.05" fill="#4d4d4d" stroke="#4d4d4d" text-anchor="middle" >XY</text>
<rect x="181.30" y="17.90" width="14.16" height="21.53" fill="#e8b07e" stroke="none" stroke-width="0" />
<rect x="194.86" y="17.90" width="14.16" height="21.53" fill="#e6ab75" stroke="none" stroke-width="0" />
<rect x="208.42" y="17.90" width="14.16" height="21.53" fill="#e09653" stroke="none" stroke-width="0" />
<rect x="221.98" y="17.90" width="14.16" height="21.53" fill="#e5a76f" stroke="none" stroke-width="0" />
<rect x="235.54" y="17.90" width="13.56" height="21.53" fill="#e4a46a" stroke="none" stroke-width="0" />
<line x1="177.40" y1="28.36" x2="180.00" y2="28.36" stroke="#333" stroke-width="0.9" />
<text transform="translate(176.20,31.24) scale(1,1.12)" font-size="7.05" fill="#4d4d4d" stroke="#4d4d4d" text-anchor="end" >FSIQ</text>
<rect x="181.30" y="38.83" width="14.16" height="21.53" fill="#e4a46a" stroke="none" stroke-width="0" />
<rect x="194.86" y="38.83" width="14.16" height="21.53" fill="#e8b07e" stroke="none" stroke-width="0" />
<rect x="208.42" y="38.83" width="14.16" height="21.53" fill="#e39e61" stroke="none" stroke-width="0" />
<rect x="221.98" y="38.83" width="14.16" height="21.53" fill="#e5a76f" stroke="none" stroke-width="0" />
<rect x="235.54" y="38.83" width="13.56" height="21.53" fill="#e5a76f" stroke="none" stroke-width="0" />
<line x1="177.40" y1="49.29" x2="180.00" y2="49.29" stroke="#333" stroke-width="0.9" />
<text transform="translate(176.20,52.17) scale(1,1.12)" font-size="7.05" fill="#4d4d4d" stroke="#4d4d4d" text-anchor="end" >PIQ</text>
<rect x="181.30" y="59.76" width="14.16" height="21.53" fill="#e7ac78" stroke="none" stroke-width="0" />
<rect x="194.86" y="59.76" width="14.16" height="21.53" fill="#e7ac78" stroke="none" stroke-width="0" />
<rect x="208.42" y="59.76" width="14.16" height="21.53" fill="#e7ac78" stroke="none" stroke-width="0" />
<rect x="221.98" y="59.76" width="14.16" height="21.53" fill="#eab789" stroke="none" stroke-width="0" />
<rect x="235.54" y="59.76" width="13.56" height="21.53" fill="#e29d5e" stroke="none" stroke-width="0" />
<line x1="177.40" y1="70.22" x2="180.00" y2="70.22" stroke="#333" stroke-width="0.9" />
<text transform="translate(176.20,73.10) scale(1,1.12)" font-size="7.05" fill="#4d4d4d" stroke="#4d4d4d" text-anchor="end" >WAIS−BD</text>
<rect x="181.30" y="80.68" width="14.16" height="21.53" fill="#eab98c" stroke="none" stroke-width="0" />
<rect x="194.86" y="80.68" width="14.16" height="21.53" fill="#edc39d" stroke="none" stroke-width="0" />
<rect x="208.42" y="80.68" width="14.16" height="21.53" fill="#e6ab75" stroke="none" stroke-width="0" />
<rect x="221.98" y="80.68" width="14.16" height="21.53" fill="#ebbc92" stroke="none" stroke-width="0" />
<rect x="235.54" y="80.68" width="13.56" height="21.53" fill="#ecc098" stroke="none" stroke-width="0" />
<line x1="177.40" y1="91.15" x2="180.00" y2="91.15" stroke="#333" stroke-width="0.9" />
<text transform="translate(176.20,94.02) scale(1,1.12)" font-size="7.05" fill="#4d4d4d" stroke="#4d4d4d" text-anchor="end" >WAIS−MR</text>
<rect x="181.30" y="101.61" width="14.16" height="21.53" fill="#ecc098" stroke="none" stroke-width="0" />
<rect x="194.86" y="101.61" width="14.16" height="21.53" fill="#eab98c" stroke="none" stroke-width="0" />
<rect x="208.42" y="101.61" width="14.16" height="21.53" fill="#e7ae7b" stroke="none" stroke-width="0" />
<rect x="221.98" y="101.61" width="14.16" height="21.53" fill="#f0ceaf" stroke="none" stroke-width="0" />
<rect x="235.54" y="101.61" width="13.56" height="21.53" fill="#eab98c" stroke="none" stroke-width="0" />
<line x1="177.40" y1="112.08" x2="180.00" y2="112.08" stroke="#333" stroke-width="0.9" />
<text transform="translate(176.20,114.95) scale(1,1.12)" font-size="7.05" fill="#4d4d4d" stroke="#4d4d4d" text-anchor="end" >WAIS−LN</text>
<rect x="181.30" y="122.54" width="14.16" height="21.53" fill="#eec5a0" stroke="none" stroke-width="0" />
<rect x="194.86" y="122.54" width="14.16" height="21.53" fill="#e9b586" stroke="none" stroke-width="0" />
<rect x="208.42" y="122.54" width="14.16" height="21.53" fill="#e9b586" stroke="none" stroke-width="0" />
<rect x="221.98" y="122.54" width="14.16" height="21.53" fill="#f2d1b4" stroke="none" stroke-width="0" />
<rect x="235.54" y="122.54" width="13.56" height="21.53" fill="#ebbc92" stroke="none" stroke-width="0" />
<line x1="177.40" y1="133.00" x2="180.00" y2="133.00" stroke="#333" stroke-width="0.9" />
<text transform="translate(176.20,135.88) scale(1,1.12)" font-size="7.05" fill="#4d4d4d" stroke="#4d4d4d" text-anchor="end" >RAVL−tot</text>
<rect x="181.30" y="143.47" width="14.16" height="21.53" fill="#f2d3b7" stroke="none" stroke-width="0" />
<rect x="194.86" y="143.47" width="14.16" height="21.53" fill="#efc8a6" stroke="none" stroke-width="0" />
<rect x="208.42" y="143.47" width="14.16" height="21.53" fill="#e8b281" stroke="none" stroke-width="0" />
<rect x="221.98" y="143.47" width="14.16" height="21.53" fill="#ecbe95" stroke="none" stroke-width="0" />
<rect x="235.54" y="143.47" width="13.56" height="21.53" fill="#eec5a0" stroke="none" stroke-width="0" />
<line x1="177.40" y1="153.93" x2="180.00" y2="153.93" stroke="#333" stroke-width="0.9" />
<text transform="translate(176.20,156.81) scale(1,1.12)" font-size="7.05" fill="#4d4d4d" stroke="#4d4d4d" text-anchor="end" >WAIS−V</text>
<rect x="181.30" y="164.39" width="14.16" height="21.53" fill="#f3d5ba" stroke="none" stroke-width="0" />
<rect x="194.86" y="164.39" width="14.16" height="21.53" fill="#ebbc92" stroke="none" stroke-width="0" />
<rect x="208.42" y="164.39" width="14.16" height="21.53" fill="#e8b281" stroke="none" stroke-width="0" />
<rect x="221.98" y="164.39" width="14.16" height="21.53" fill="#edc39d" stroke="none" stroke-width="0" />
<rect x="235.54" y="164.39" width="13.56" height="21.53" fill="#eab98c" stroke="none" stroke-width="0" />
<line x1="177.40" y1="174.86" x2="180.00" y2="174.86" stroke="#333" stroke-width="0.9" />
<text transform="translate(176.20,177.74) scale(1,1.12)" font-size="7.05" fill="#4d4d4d" stroke="#4d4d4d" text-anchor="end" >VIQ</text>
<rect x="181.30" y="185.32" width="14.16" height="21.53" fill="#f4d8c0" stroke="none" stroke-width="0" />
<rect x="194.86" y="185.32" width="14.16" height="21.53" fill="#f3d7bd" stroke="none" stroke-width="0" />
<rect x="208.42" y="185.32" width="14.16" height="21.53" fill="#efcaa9" stroke="none" stroke-width="0" />
<rect x="221.98" y="185.32" width="14.16" height="21.53" fill="#f4dac3" stroke="none" stroke-width="0" />
<rect x="235.54" y="185.32" width="13.56" height="21.53" fill="#f3d7bd" stroke="none" stroke-width="0" />
<line x1="177.40" y1="195.79" x2="180.00" y2="195.79" stroke="#333" stroke-width="0.9" />
<text transform="translate(176.20,198.66) scale(1,1.12)" font-size="7.05" fill="#4d4d4d" stroke="#4d4d4d" text-anchor="end" >SR</text>
<rect x="181.30" y="206.25" width="14.16" height="21.53" fill="#f4d8c0" stroke="none" stroke-width="0" />
<rect x="194.86" y="206.25" width="14.16" height="21.53" fill="#ebbc92" stroke="none" stroke-width="0" />
<rect x="208.42" y="206.25" width="14.16" height="21.53" fill="#e9b586" stroke="none" stroke-width="0" />
<rect x="221.98" y="206.25" width="14.16" height="21.53" fill="#f0ceaf" stroke="none" stroke-width="0" />
<rect x="235.54" y="206.25" width="13.56" height="21.53" fill="#eec5a0" stroke="none" stroke-width="0" />
<line x1="177.40" y1="216.71" x2="180.00" y2="216.71" stroke="#333" stroke-width="0.9" />
<text transform="translate(176.20,219.59) scale(1,1.12)" font-size="7.05" fill="#4d4d4d" stroke="#4d4d4d" text-anchor="end" >Fluency</text>
<rect x="181.30" y="227.18" width="14.16" height="21.53" fill="#f3d5ba" stroke="none" stroke-width="0" />
<rect x="194.86" y="227.18" width="14.16" height="21.53" fill="#f5dcc6" stroke="none" stroke-width="0" />
<rect x="208.42" y="227.18" width="14.16" height="21.53" fill="#f1d0b1" stroke="none" stroke-width="0" />
<rect x="221.98" y="227.18" width="14.16" height="21.53" fill="#f1d0b1" stroke="none" stroke-width="0" />
<rect x="235.54" y="227.18" width="13.56" height="21.53" fill="#f2d3b7" stroke="none" stroke-width="0" />
<line x1="177.40" y1="237.64" x2="180.00" y2="237.64" stroke="#333" stroke-width="0.9" />
<text transform="translate(176.20,240.52) scale(1,1.12)" font-size="7.05" fill="#4d4d4d" stroke="#4d4d4d" text-anchor="end" >WAIS−DS</text>
<rect x="181.30" y="248.11" width="14.16" height="21.53" fill="#f3d5ba" stroke="none" stroke-width="0" />
<rect x="194.86" y="248.11" width="14.16" height="21.53" fill="#eab98c" stroke="none" stroke-width="0" />
<rect x="208.42" y="248.11" width="14.16" height="21.53" fill="#eab98c" stroke="none" stroke-width="0" />
<rect x="221.98" y="248.11" width="14.16" height="21.53" fill="#f6dfcb" stroke="none" stroke-width="0" />
<rect x="235.54" y="248.11" width="13.56" height="21.53" fill="#ebbc92" stroke="none" stroke-width="0" />
<line x1="177.40" y1="258.57" x2="180.00" y2="258.57" stroke="#333" stroke-width="0.9" />
<text transform="translate(176.20,261.45) scale(1,1.12)" font-size="7.05" fill="#4d4d4d" stroke="#4d4d4d" text-anchor="end" >WAIS−C</text>
<rect x="181.30" y="269.03" width="14.16" height="21.53" fill="#f9eadd" stroke="none" stroke-width="0" />
<rect x="194.86" y="269.03" width="14.16" height="21.53" fill="#f2d3b7" stroke="none" stroke-width="0" />
<rect x="208.42" y="269.03" width="14.16" height="21.53" fill="#efcaa9" stroke="none" stroke-width="0" />
<rect x="221.98" y="269.03" width="14.16" height="21.53" fill="#f4d8c0" stroke="none" stroke-width="0" />
<rect x="235.54" y="269.03" width="13.56" height="21.53" fill="#f4d8c0" stroke="none" stroke-width="0" />
<line x1="177.40" y1="279.50" x2="180.00" y2="279.50" stroke="#333" stroke-width="0.9" />
<text transform="translate(176.20,282.37) scale(1,1.12)" font-size="7.05" fill="#4d4d4d" stroke="#4d4d4d" text-anchor="end" >WAIS−S</text>
<rect x="181.30" y="289.96" width="14.16" height="21.53" fill="#f1d0b1" stroke="none" stroke-width="0" />
<rect x="194.86" y="289.96" width="14.16" height="21.53" fill="#fdfaf6" stroke="none" stroke-width="0" />
<rect x="208.42" y="289.96" width="14.16" height="21.53" fill="#f8e8da" stroke="none" stroke-width="0" />
<rect x="221.98" y="289.96" width="14.16" height="21.53" fill="#faefe5" stroke="none" stroke-width="0" />
<rect x="235.54" y="289.96" width="13.56" height="21.53" fill="#fcf6f1" stroke="none" stroke-width="0" />
<line x1="177.40" y1="300.43" x2="180.00" y2="300.43" stroke="#333" stroke-width="0.9" />
<text transform="translate(176.20,303.30) scale(1,1.12)" font-size="7.05" fill="#4d4d4d" stroke="#4d4d4d" text-anchor="end" >TOL−tcs</text>
<rect x="181.30" y="310.89" width="14.16" height="21.53" fill="#a7ccbb" stroke="none" stroke-width="0" />
<rect x="194.86" y="310.89" width="14.16" height="21.53" fill="#9cc6b3" stroke="none" stroke-width="0" />
<rect x="208.42" y="310.89" width="14.16" height="21.53" fill="#b1d2c3" stroke="none" stroke-width="0" />
<rect x="221.98" y="310.89" width="14.16" height="21.53" fill="#b9d6c9" stroke="none" stroke-width="0" />
<rect x="235.54" y="310.89" width="13.56" height="21.53" fill="#a7ccbb" stroke="none" stroke-width="0" />
<line x1="177.40" y1="321.35" x2="180.00" y2="321.35" stroke="#333" stroke-width="0.9" />
<text transform="translate(176.20,324.23) scale(1,1.12)" font-size="7.05" fill="#4d4d4d" stroke="#4d4d4d" text-anchor="end" >TMT−A</text>
<rect x="181.30" y="331.82" width="14.16" height="21.53" fill="#95c2ae" stroke="none" stroke-width="0" />
<rect x="194.86" y="331.82" width="14.16" height="21.53" fill="#dcebe4" stroke="none" stroke-width="0" />
<rect x="208.42" y="331.82" width="14.16" height="21.53" fill="#b1d2c3" stroke="none" stroke-width="0" />
<rect x="221.98" y="331.82" width="14.16" height="21.53" fill="#b9d6c9" stroke="none" stroke-width="0" />
<rect x="235.54" y="331.82" width="13.56" height="21.53" fill="#d5e6de" stroke="none" stroke-width="0" />
<line x1="177.40" y1="342.28" x2="180.00" y2="342.28" stroke="#333" stroke-width="0.9" />
<text transform="translate(176.20,345.16) scale(1,1.12)" font-size="7.05" fill="#4d4d4d" stroke="#4d4d4d" text-anchor="end" >TOL−tms</text>
<rect x="181.30" y="352.74" width="14.16" height="21.53" fill="#7db39b" stroke="none" stroke-width="0" />
<rect x="194.86" y="352.74" width="14.16" height="21.53" fill="#72ad93" stroke="none" stroke-width="0" />
<rect x="208.42" y="352.74" width="14.16" height="21.53" fill="#76af95" stroke="none" stroke-width="0" />
<rect x="221.98" y="352.74" width="14.16" height="21.53" fill="#92bfab" stroke="none" stroke-width="0" />
<rect x="235.54" y="352.74" width="13.56" height="21.53" fill="#79b198" stroke="none" stroke-width="0" />
<line x1="177.40" y1="363.21" x2="180.00" y2="363.21" stroke="#333" stroke-width="0.9" />
<text transform="translate(176.20,366.09) scale(1,1.12)" font-size="7.05" fill="#4d4d4d" stroke="#4d4d4d" text-anchor="end" >TMT−B</text>
<rect x="181.30" y="373.67" width="14.16" height="20.93" fill="#95c2ae" stroke="none" stroke-width="0" />
<rect x="194.86" y="373.67" width="14.16" height="20.93" fill="#8bbba6" stroke="none" stroke-width="0" />
<rect x="208.42" y="373.67" width="14.16" height="20.93" fill="#67a78b" stroke="none" stroke-width="0" />
<rect x="221.98" y="373.67" width="14.16" height="20.93" fill="#a3cab9" stroke="none" stroke-width="0" />
<rect x="235.54" y="373.67" width="13.56" height="20.93" fill="#92bfab" stroke="none" stroke-width="0" />
<line x1="177.40" y1="384.14" x2="180.00" y2="384.14" stroke="#333" stroke-width="0.9" />
<text transform="translate(176.20,387.01) scale(1,1.12)" font-size="7.05" fill="#4d4d4d" stroke="#4d4d4d" text-anchor="end" >WCST−trai</text>
<line x1="180.00" y1="16.00" x2="250.40" y2="16.00" stroke="#8c8c8c" stroke-width="0.9" />
<line x1="180.00" y1="16.00" x2="180.00" y2="397.00" stroke="#333" stroke-width="1.5" />
<line x1="179.30" y1="396.30" x2="250.40" y2="396.30" stroke="#333" stroke-width="1.5" />
<line x1="250.40" y1="15.90" x2="250.40" y2="397.00" stroke="#333" stroke-width="1.2" />
<line x1="188.08" y1="397.00" x2="188.08" y2="399.00" stroke="#333" stroke-width="0.9" />
<text x="0" y="0" font-size="7.05" fill="#4d4d4d" stroke="#4d4d4d" text-anchor="end" transform="translate(190.41,401.40) rotate(-90) scale(1,1.12)">cg01855070</text>
<line x1="201.64" y1="397.00" x2="201.64" y2="399.00" stroke="#333" stroke-width="0.9" />
<text x="0" y="0" font-size="7.05" fill="#4d4d4d" stroke="#4d4d4d" text-anchor="end" transform="translate(203.97,401.40) rotate(-90) scale(1,1.12)">cg03168947</text>
<line x1="215.20" y1="397.00" x2="215.20" y2="399.00" stroke="#333" stroke-width="0.9" />
<text x="0" y="0" font-size="7.05" fill="#4d4d4d" stroke="#4d4d4d" text-anchor="end" transform="translate(217.53,401.40) rotate(-90) scale(1,1.12)">cg08508763</text>
<line x1="228.76" y1="397.00" x2="228.76" y2="399.00" stroke="#333" stroke-width="0.9" />
<text x="0" y="0" font-size="7.05" fill="#4d4d4d" stroke="#4d4d4d" text-anchor="end" transform="translate(231.09,401.40) rotate(-90) scale(1,1.12)">cg08804892</text>
<line x1="242.32" y1="397.00" x2="242.32" y2="399.00" stroke="#333" stroke-width="0.9" />
<text x="0" y="0" font-size="7.05" fill="#4d4d4d" stroke="#4d4d4d" text-anchor="end" transform="translate(244.65,401.40) rotate(-90) scale(1,1.12)">cg23715029</text>
<defs><linearGradient id="cbar" x1="0" x2="1" y1="0" y2="0">
<stop offset="0.0000" stop-color="#5fa284"/>
<stop offset="0.0250" stop-color="#69a88b"/>
<stop offset="0.0500" stop-color="#72ad93"/>
<stop offset="0.0750" stop-color="#7cb39a"/>
<stop offset="0.1000" stop-color="#85b8a2"/>
<stop offset="0.1250" stop-color="#8fbea9"/>
<stop offset="0.1500" stop-color="#99c4b0"/>
<stop offset="0.1750" stop-color="#a2c9b8"/>
<stop offset="0.2000" stop-color="#accfbf"/>
<stop offset="0.2250" stop-color="#b6d4c7"/>
<stop offset="0.2500" stop-color="#bfdace"/>
<stop offset="0.2750" stop-color="#c9dfd5"/>
<stop offset="0.3000" stop-color="#d2e5dd"/>
<stop offset="0.3250" stop-color="#dcebe4"/>
<stop offset="0.3500" stop-color="#e6f0eb"/>
<stop offset="0.3750" stop-color="#eff6f3"/>
<stop offset="0.4000" stop-color="#f9fbfa"/>
<stop offset="0.4250" stop-color="#fefdfc"/>
<stop offset="0.4500" stop-color="#fdf9f4"/>
<stop offset="0.4750" stop-color="#fcf4ed"/>
<stop offset="0.5000" stop-color="#faefe5"/>
<stop offset="0.5250" stop-color="#f9eadd"/>
<stop offset="0.5500" stop-color="#f7e5d5"/>
<stop offset="0.5750" stop-color="#f6e1cd"/>
<stop offset="0.6000" stop-color="#f5dcc5"/>
<stop offset="0.6250" stop-color="#f3d7be"/>
<stop offset="0.6500" stop-color="#f2d2b6"/>
<stop offset="0.6750" stop-color="#f0cdae"/>
<stop offset="0.7000" stop-color="#efc9a6"/>
<stop offset="0.7250" stop-color="#eec49e"/>
<stop offset="0.7500" stop-color="#ecbf96"/>
<stop offset="0.7750" stop-color="#ebba8f"/>
<stop offset="0.8000" stop-color="#e9b587"/>
<stop offset="0.8250" stop-color="#e8b17f"/>
<stop offset="0.8500" stop-color="#e6ac77"/>
<stop offset="0.8750" stop-color="#e5a76f"/>
<stop offset="0.9000" stop-color="#e4a267"/>
<stop offset="0.9250" stop-color="#e29d60"/>
<stop offset="0.9500" stop-color="#e19958"/>
<stop offset="0.9750" stop-color="#df9450"/>
<stop offset="1.0000" stop-color="#de8f48"/>
</linearGradient></defs>
<rect x="182.00" y="453.00" width="69.00" height="13.80" fill="url(#cbar)" stroke="none" stroke-width="0" />
<line x1="185.42" y1="453.00" x2="185.42" y2="455.60" stroke="#fff" stroke-width="0.8" />
<line x1="185.42" y1="464.20" x2="185.42" y2="466.80" stroke="#fff" stroke-width="0.8" />
<text transform="translate(185.42,476.63) scale(1,1.12)" font-size="7.05" fill="#1a1a1a" stroke="#1a1a1a" text-anchor="middle" >−0.4</text>
<line x1="198.06" y1="453.00" x2="198.06" y2="455.60" stroke="#fff" stroke-width="0.8" />
<line x1="198.06" y1="464.20" x2="198.06" y2="466.80" stroke="#fff" stroke-width="0.8" />
<text transform="translate(198.06,476.63) scale(1,1.12)" font-size="7.05" fill="#1a1a1a" stroke="#1a1a1a" text-anchor="middle" >−0.2</text>
<line x1="210.71" y1="453.00" x2="210.71" y2="455.60" stroke="#fff" stroke-width="0.8" />
<line x1="210.71" y1="464.20" x2="210.71" y2="466.80" stroke="#fff" stroke-width="0.8" />
<text transform="translate(210.71,476.63) scale(1,1.12)" font-size="7.05" fill="#1a1a1a" stroke="#1a1a1a" text-anchor="middle" >0.0</text>
<line x1="223.36" y1="453.00" x2="223.36" y2="455.60" stroke="#fff" stroke-width="0.8" />
<line x1="223.36" y1="464.20" x2="223.36" y2="466.80" stroke="#fff" stroke-width="0.8" />
<text transform="translate(223.36,476.63) scale(1,1.12)" font-size="7.05" fill="#1a1a1a" stroke="#1a1a1a" text-anchor="middle" >0.2</text>
<line x1="236.01" y1="453.00" x2="236.01" y2="455.60" stroke="#fff" stroke-width="0.8" />
<line x1="236.01" y1="464.20" x2="236.01" y2="466.80" stroke="#fff" stroke-width="0.8" />
<text transform="translate(236.01,476.63) scale(1,1.12)" font-size="7.05" fill="#1a1a1a" stroke="#1a1a1a" text-anchor="middle" >0.4</text>
<line x1="248.66" y1="453.00" x2="248.66" y2="455.60" stroke="#fff" stroke-width="0.8" />
<line x1="248.66" y1="464.20" x2="248.66" y2="466.80" stroke="#fff" stroke-width="0.8" />
<text transform="translate(248.66,476.63) scale(1,1.12)" font-size="7.05" fill="#1a1a1a" stroke="#1a1a1a" text-anchor="middle" >0.6</text>
<text transform="translate(178.60,458.00) scale(1,1.12)" font-size="8.2" fill="#1a1a1a" stroke="#1a1a1a" text-anchor="end" >Correlation</text>
<text transform="translate(178.60,468.00) scale(1,1.12)" font-size="8.2" fill="#1a1a1a" stroke="#1a1a1a" text-anchor="end" >value</text>
<line x1="192.45" y1="502.00" x2="192.45" y2="512.80" stroke="#262626" stroke-width="0.9" />
<rect x="187.30" y="503.80" width="10.30" height="7.20" fill="#8ea4cc" stroke="#262626" stroke-width="0.9" />
<line x1="187.30" y1="507.40" x2="197.60" y2="507.40" stroke="#262626" stroke-width="1.4" />
<text transform="translate(204.00,509.85) scale(1,1.12)" font-size="7.1" fill="#333" stroke="#333" text-anchor="start" >XXY</text>
<line x1="192.45" y1="515.80" x2="192.45" y2="526.60" stroke="#262626" stroke-width="0.9" />
<rect x="187.30" y="517.60" width="10.30" height="7.20" fill="#a9c08e" stroke="#262626" stroke-width="0.9" />
<line x1="187.30" y1="521.20" x2="197.60" y2="521.20" stroke="#262626" stroke-width="1.4" />
<text transform="translate(204.00,523.65) scale(1,1.12)" font-size="7.1" fill="#333" stroke="#333" text-anchor="start" >XY</text>
<defs>
<clipPath id="c00"><rect x="283.55" y="14.95" width="75.30" height="71.45"/></clipPath>
<clipPath id="c01"><rect x="363.81" y="14.95" width="75.30" height="71.45"/></clipPath>
<clipPath id="c02"><rect x="444.07" y="14.95" width="75.30" height="71.45"/></clipPath>
<clipPath id="c03"><rect x="524.33" y="14.95" width="75.30" height="71.45"/></clipPath>
<clipPath id="c04"><rect x="604.59" y="14.95" width="75.30" height="71.45"/></clipPath>
<clipPath id="c10"><rect x="283.55" y="129.35" width="75.30" height="71.45"/></clipPath>
<clipPath id="c11"><rect x="363.81" y="129.35" width="75.30" height="71.45"/></clipPath>
<clipPath id="c12"><rect x="444.07" y="129.35" width="75.30" height="71.45"/></clipPath>
<clipPath id="c13"><rect x="524.33" y="129.35" width="75.30" height="71.45"/></clipPath>
<clipPath id="c14"><rect x="604.59" y="129.35" width="75.30" height="71.45"/></clipPath>
<clipPath id="c20"><rect x="283.55" y="243.75" width="75.30" height="71.45"/></clipPath>
<clipPath id="c21"><rect x="363.81" y="243.75" width="75.30" height="71.45"/></clipPath>
<clipPath id="c22"><rect x="444.07" y="243.75" width="75.30" height="71.45"/></clipPath>
<clipPath id="c23"><rect x="524.33" y="243.75" width="75.30" height="71.45"/></clipPath>
<clipPath id="c24"><rect x="604.59" y="243.75" width="75.30" height="71.45"/></clipPath>
<clipPath id="c30"><rect x="283.55" y="358.15" width="75.30" height="71.45"/></clipPath>
<clipPath id="c31"><rect x="363.81" y="358.15" width="75.30" height="71.45"/></clipPath>
<clipPath id="c32"><rect x="444.07" y="358.15" width="75.30" height="71.45"/></clipPath>
<clipPath id="c33"><rect x="524.33" y="358.15" width="75.30" height="71.45"/></clipPath>
<clipPath id="c34"><rect x="604.59" y="358.15" width="75.30" height="71.45"/></clipPath>
<clipPath id="c40"><rect x="283.55" y="472.55" width="75.30" height="71.45"/></clipPath>
<clipPath id="c41"><rect x="363.81" y="472.55" width="75.30" height="71.45"/></clipPath>
<clipPath id="c42"><rect x="444.07" y="472.55" width="75.30" height="71.45"/></clipPath>
<clipPath id="c43"><rect x="524.33" y="472.55" width="75.30" height="71.45"/></clipPath>
<clipPath id="c44"><rect x="604.59" y="472.55" width="75.30" height="71.45"/></clipPath>
</defs>
<g clip-path="url(#c00)">
<g fill="#3d5b9b" fill-opacity="0.28">
<circle cx="287.2" cy="71.4" r="2.1"/>
<circle cx="343.3" cy="63.5" r="2.1"/>
<circle cx="322.3" cy="58.9" r="2.1"/>
<circle cx="320.9" cy="72.0" r="2.1"/>
<circle cx="317.9" cy="64.9" r="2.1"/>
<circle cx="317.5" cy="61.4" r="2.1"/>
<circle cx="329.3" cy="61.1" r="2.1"/>
<circle cx="295.3" cy="66.7" r="2.1"/>
<circle cx="298.7" cy="74.8" r="2.1"/>
<circle cx="296.6" cy="76.3" r="2.1"/>
<circle cx="307.8" cy="61.7" r="2.1"/>
<circle cx="307.2" cy="73.7" r="2.1"/>
<circle cx="320.2" cy="71.3" r="2.1"/>
<circle cx="318.8" cy="63.9" r="2.1"/>
<circle cx="315.7" cy="59.7" r="2.1"/>
<circle cx="306.2" cy="65.2" r="2.1"/>
<circle cx="309.3" cy="65.2" r="2.1"/>
<circle cx="328.0" cy="67.1" r="2.1"/>
<circle cx="325.4" cy="63.9" r="2.1"/>
<circle cx="316.6" cy="56.7" r="2.1"/>
<circle cx="310.9" cy="69.5" r="2.1"/>
<circle cx="336.0" cy="55.9" r="2.1"/>
<circle cx="307.3" cy="73.6" r="2.1"/>
<circle cx="323.9" cy="59.7" r="2.1"/>
<circle cx="330.7" cy="61.2" r="2.1"/>
<circle cx="311.7" cy="63.7" r="2.1"/>
<circle cx="326.3" cy="62.8" r="2.1"/>
<circle cx="300.3" cy="76.9" r="2.1"/>
<circle cx="328.8" cy="69.6" r="2.1"/>
<circle cx="317.9" cy="70.2" r="2.1"/>
<circle cx="294.1" cy="72.9" r="2.1"/>
<circle cx="324.2" cy="57.9" r="2.1"/>
<circle cx="303.3" cy="66.9" r="2.1"/>
<circle cx="332.4" cy="61.6" r="2.1"/>
<circle cx="306.2" cy="64.0" r="2.1"/>
<circle cx="313.0" cy="70.5" r="2.1"/>
<circle cx="319.0" cy="63.0" r="2.1"/>
<circle cx="310.8" cy="64.6" r="2.1"/>
<circle cx="318.7" cy="61.5" r="2.1"/>
<circle cx="307.9" cy="58.1" r="2.1"/>
<circle cx="324.2" cy="69.0" r="2.1"/>
<circle cx="315.3" cy="74.4" r="2.1"/>
<circle cx="318.1" cy="67.9" r="2.1"/>
<circle cx="287.2" cy="67.3" r="2.1"/>
<circle cx="330.8" cy="50.7" r="2.1"/>
<circle cx="315.7" cy="68.3" r="2.1"/>
<circle cx="291.4" cy="78.0" r="2.1"/>
<circle cx="316.5" cy="68.8" r="2.1"/>
<circle cx="321.5" cy="71.2" r="2.1"/>
<circle cx="329.6" cy="72.7" r="2.1"/>
<circle cx="300.8" cy="75.9" r="2.1"/>
<circle cx="335.9" cy="61.6" r="2.1"/>
<circle cx="313.1" cy="73.3" r="2.1"/>
<circle cx="343.3" cy="66.6" r="2.1"/>
<circle cx="313.3" cy="59.8" r="2.1"/>
<circle cx="324.3" cy="63.8" r="2.1"/>
<circle cx="310.4" cy="61.0" r="2.1"/>
<circle cx="300.3" cy="69.5" r="2.1"/>
<circle cx="329.9" cy="67.9" r="2.1"/>
<circle cx="327.4" cy="59.8" r="2.1"/>
<circle cx="335.8" cy="53.2" r="2.1"/>
<circle cx="326.7" cy="72.3" r="2.1"/>
<circle cx="307.6" cy="70.8" r="2.1"/>
<circle cx="293.0" cy="79.0" r="2.1"/>
</g>
<g fill="#6b8c30" fill-opacity="0.28">
<circle cx="291.2" cy="50.8" r="2.1"/>
<circle cx="356.0" cy="68.1" r="2.1"/>
<circle cx="311.0" cy="70.0" r="2.1"/>
<circle cx="332.6" cy="71.3" r="2.1"/>
<circle cx="328.7" cy="59.4" r="2.1"/>
<circle cx="319.4" cy="61.2" r="2.1"/>
<circle cx="326.3" cy="59.6" r="2.1"/>
<circle cx="321.4" cy="65.2" r="2.1"/>
<circle cx="326.9" cy="65.8" r="2.1"/>
<circle cx="335.2" cy="61.5" r="2.1"/>
<circle cx="338.4" cy="54.2" r="2.1"/>
<circle cx="313.0" cy="63.2" r="2.1"/>
<circle cx="300.4" cy="55.9" r="2.1"/>
<circle cx="345.6" cy="65.1" r="2.1"/>
<circle cx="325.4" cy="61.7" r="2.1"/>
<circle cx="340.7" cy="69.9" r="2.1"/>
<circle cx="298.2" cy="64.1" r="2.1"/>
<circle cx="318.5" cy="57.4" r="2.1"/>
<circle cx="324.0" cy="62.0" r="2.1"/>
<circle cx="301.4" cy="67.6" r="2.1"/>
<circle cx="315.6" cy="56.8" r="2.1"/>
<circle cx="334.8" cy="63.2" r="2.1"/>
<circle cx="340.2" cy="67.6" r="2.1"/>
<circle cx="348.2" cy="68.5" r="2.1"/>
<circle cx="310.3" cy="61.8" r="2.1"/>
<circle cx="302.0" cy="51.7" r="2.1"/>
<circle cx="331.6" cy="54.2" r="2.1"/>
<circle cx="338.1" cy="62.5" r="2.1"/>
<circle cx="326.6" cy="62.4" r="2.1"/>
<circle cx="303.5" cy="71.9" r="2.1"/>
<circle cx="335.7" cy="56.6" r="2.1"/>
<circle cx="335.8" cy="67.0" r="2.1"/>
<circle cx="332.1" cy="64.8" r="2.1"/>
<circle cx="316.1" cy="50.9" r="2.1"/>
<circle cx="328.3" cy="56.2" r="2.1"/>
<circle cx="335.8" cy="61.9" r="2.1"/>
<circle cx="315.0" cy="56.9" r="2.1"/>
<circle cx="295.2" cy="57.2" r="2.1"/>
<circle cx="328.7" cy="63.0" r="2.1"/>
<circle cx="331.0" cy="56.5" r="2.1"/>
<circle cx="323.8" cy="62.6" r="2.1"/>
<circle cx="337.3" cy="57.9" r="2.1"/>
<circle cx="314.5" cy="56.6" r="2.1"/>
<circle cx="322.3" cy="62.8" r="2.1"/>
<circle cx="318.9" cy="56.8" r="2.1"/>
<circle cx="332.4" cy="62.3" r="2.1"/>
<circle cx="348.2" cy="70.3" r="2.1"/>
<circle cx="319.7" cy="60.0" r="2.1"/>
<circle cx="355.3" cy="61.8" r="2.1"/>
<circle cx="347.2" cy="65.8" r="2.1"/>
<circle cx="335.8" cy="59.2" r="2.1"/>
<circle cx="332.7" cy="66.5" r="2.1"/>
<circle cx="350.9" cy="55.5" r="2.1"/>
<circle cx="320.8" cy="63.2" r="2.1"/>
<circle cx="321.9" cy="57.4" r="2.1"/>
<circle cx="307.2" cy="54.8" r="2.1"/>
<circle cx="330.9" cy="69.9" r="2.1"/>
<circle cx="344.3" cy="57.3" r="2.1"/>
<circle cx="331.8" cy="69.9" r="2.1"/>
<circle cx="330.1" cy="64.1" r="2.1"/>
</g>
<line x1="287.20" y1="72.40" x2="343.30" y2="62.60" stroke="#3d5b9b" stroke-width="1.9" />
<line x1="291.20" y1="57.70" x2="356.00" y2="62.60" stroke="#6b8c30" stroke-width="1.9" />
<text transform="translate(287.65,26.16) scale(1,1.12)" font-size="7.0" fill="#3d5b9b" stroke="#3d5b9b"><tspan font-style="italic">R</tspan> = 0.45, <tspan font-style="italic">p</tspan> = 0.00016</text>
<text transform="translate(287.65,35.26) scale(1,1.12)" font-size="7.0" fill="#6b8c30" stroke="#6b8c30"><tspan font-style="italic">R</tspan> = −0.17, <tspan font-style="italic">p</tspan> = 0.19</text>
</g>
<rect x="283.55" y="14.95" width="75.30" height="71.45" fill="none" stroke="#1a1a1a" stroke-width="1.1" />
<rect x="284.00" y="2.10" width="74.45" height="12.85" fill="#fff" stroke="#1a1a1a" stroke-width="1.1" />
<text transform="translate(321.20,10.95) scale(1,1.12)" font-size="7.05" fill="#1a1a1a" stroke="#1a1a1a" text-anchor="middle" >cg01855070</text>
<line x1="300.90" y1="86.40" x2="300.90" y2="89.00" stroke="#222" stroke-width="1.0" />
<text transform="translate(300.90,95.73) scale(1,1.12)" font-size="7.05" fill="#4d4d4d" stroke="#4d4d4d" text-anchor="middle" >80</text>
<line x1="323.80" y1="86.40" x2="323.80" y2="89.00" stroke="#222" stroke-width="1.0" />
<text transform="translate(323.80,95.73) scale(1,1.12)" font-size="7.05" fill="#4d4d4d" stroke="#4d4d4d" text-anchor="middle" >100</text>
<line x1="346.20" y1="86.40" x2="346.20" y2="89.00" stroke="#222" stroke-width="1.0" />
<text transform="translate(346.20,95.73) scale(1,1.12)" font-size="7.05" fill="#4d4d4d" stroke="#4d4d4d" text-anchor="middle" >120</text>
<g clip-path="url(#c01)">
<g fill="#3d5b9b" fill-opacity="0.28">
<circle cx="367.5" cy="61.8" r="2.1"/>
<circle cx="423.6" cy="38.1" r="2.1"/>
<circle cx="402.6" cy="53.5" r="2.1"/>
<circle cx="401.2" cy="55.2" r="2.1"/>
<circle cx="398.2" cy="47.6" r="2.1"/>
<circle cx="397.8" cy="47.6" r="2.1"/>
<circle cx="409.6" cy="58.7" r="2.1"/>
<circle cx="375.5" cy="53.5" r="2.1"/>
<circle cx="378.9" cy="49.8" r="2.1"/>
<circle cx="376.9" cy="49.1" r="2.1"/>
<circle cx="388.1" cy="52.5" r="2.1"/>
<circle cx="387.4" cy="52.0" r="2.1"/>
<circle cx="400.4" cy="48.7" r="2.1"/>
<circle cx="399.1" cy="57.0" r="2.1"/>
<circle cx="395.9" cy="46.9" r="2.1"/>
<circle cx="386.5" cy="52.9" r="2.1"/>
<circle cx="389.6" cy="57.4" r="2.1"/>
<circle cx="408.2" cy="41.0" r="2.1"/>
<circle cx="405.7" cy="52.1" r="2.1"/>
<circle cx="396.9" cy="58.0" r="2.1"/>
<circle cx="391.2" cy="42.5" r="2.1"/>
<circle cx="416.3" cy="38.9" r="2.1"/>
<circle cx="387.6" cy="44.9" r="2.1"/>
<circle cx="404.2" cy="37.4" r="2.1"/>
<circle cx="410.9" cy="48.0" r="2.1"/>
<circle cx="392.0" cy="39.7" r="2.1"/>
<circle cx="406.5" cy="49.1" r="2.1"/>
<circle cx="380.6" cy="59.2" r="2.1"/>
<circle cx="409.0" cy="37.6" r="2.1"/>
<circle cx="398.2" cy="46.5" r="2.1"/>
<circle cx="374.3" cy="42.9" r="2.1"/>
<circle cx="404.5" cy="51.0" r="2.1"/>
<circle cx="383.6" cy="47.2" r="2.1"/>
<circle cx="412.6" cy="44.0" r="2.1"/>
<circle cx="386.4" cy="50.8" r="2.1"/>
<circle cx="393.3" cy="52.0" r="2.1"/>
<circle cx="399.3" cy="46.2" r="2.1"/>
<circle cx="391.1" cy="49.6" r="2.1"/>
<circle cx="399.0" cy="45.2" r="2.1"/>
<circle cx="388.1" cy="50.7" r="2.1"/>
<circle cx="404.5" cy="40.8" r="2.1"/>
<circle cx="395.6" cy="49.0" r="2.1"/>
<circle cx="398.3" cy="38.1" r="2.1"/>
<circle cx="367.5" cy="51.7" r="2.1"/>
<circle cx="411.0" cy="55.6" r="2.1"/>
<circle cx="395.9" cy="49.0" r="2.1"/>
<circle cx="371.7" cy="46.8" r="2.1"/>
<circle cx="396.8" cy="49.8" r="2.1"/>
<circle cx="401.8" cy="42.4" r="2.1"/>
<circle cx="409.8" cy="37.3" r="2.1"/>
<circle cx="381.0" cy="47.7" r="2.1"/>
<circle cx="416.2" cy="48.5" r="2.1"/>
<circle cx="393.4" cy="51.1" r="2.1"/>
<circle cx="423.6" cy="42.7" r="2.1"/>
<circle cx="393.6" cy="44.3" r="2.1"/>
<circle cx="404.6" cy="41.3" r="2.1"/>
<circle cx="390.6" cy="56.7" r="2.1"/>
<circle cx="380.6" cy="52.9" r="2.1"/>
<circle cx="410.2" cy="40.9" r="2.1"/>
<circle cx="407.6" cy="35.3" r="2.1"/>
<circle cx="416.1" cy="37.5" r="2.1"/>
<circle cx="407.0" cy="59.3" r="2.1"/>
<circle cx="387.9" cy="44.2" r="2.1"/>
<circle cx="373.3" cy="52.7" r="2.1"/>
</g>
<g fill="#6b8c30" fill-opacity="0.28">
<circle cx="371.5" cy="39.6" r="2.1"/>
<circle cx="436.3" cy="41.9" r="2.1"/>
<circle cx="391.3" cy="38.3" r="2.1"/>
<circle cx="412.8" cy="34.0" r="2.1"/>
<circle cx="408.9" cy="35.5" r="2.1"/>
<circle cx="399.7" cy="49.1" r="2.1"/>
<circle cx="406.5" cy="36.8" r="2.1"/>
<circle cx="401.6" cy="44.9" r="2.1"/>
<circle cx="407.1" cy="32.0" r="2.1"/>
<circle cx="415.5" cy="39.9" r="2.1"/>
<circle cx="418.7" cy="42.9" r="2.1"/>
<circle cx="393.3" cy="45.3" r="2.1"/>
<circle cx="380.6" cy="33.3" r="2.1"/>
<circle cx="425.9" cy="45.1" r="2.1"/>
<circle cx="405.6" cy="42.7" r="2.1"/>
<circle cx="420.9" cy="37.9" r="2.1"/>
<circle cx="378.5" cy="41.4" r="2.1"/>
<circle cx="398.8" cy="35.6" r="2.1"/>
<circle cx="404.3" cy="36.5" r="2.1"/>
<circle cx="381.6" cy="39.1" r="2.1"/>
<circle cx="395.9" cy="26.0" r="2.1"/>
<circle cx="415.0" cy="40.8" r="2.1"/>
<circle cx="420.5" cy="36.5" r="2.1"/>
<circle cx="428.5" cy="34.6" r="2.1"/>
<circle cx="390.5" cy="37.5" r="2.1"/>
<circle cx="382.2" cy="43.2" r="2.1"/>
<circle cx="411.9" cy="39.0" r="2.1"/>
<circle cx="418.4" cy="48.1" r="2.1"/>
<circle cx="406.8" cy="34.8" r="2.1"/>
<circle cx="383.8" cy="32.5" r="2.1"/>
<circle cx="415.9" cy="49.4" r="2.1"/>
<circle cx="416.1" cy="43.5" r="2.1"/>
<circle cx="412.4" cy="46.1" r="2.1"/>
<circle cx="396.3" cy="35.8" r="2.1"/>
<circle cx="408.6" cy="45.1" r="2.1"/>
<circle cx="416.1" cy="42.7" r="2.1"/>
<circle cx="395.2" cy="43.4" r="2.1"/>
<circle cx="375.4" cy="38.9" r="2.1"/>
<circle cx="408.9" cy="47.2" r="2.1"/>
<circle cx="411.3" cy="37.7" r="2.1"/>
<circle cx="404.1" cy="35.6" r="2.1"/>
<circle cx="417.6" cy="33.8" r="2.1"/>
<circle cx="394.8" cy="46.0" r="2.1"/>
<circle cx="402.6" cy="36.7" r="2.1"/>
<circle cx="399.2" cy="34.9" r="2.1"/>
<circle cx="412.7" cy="36.3" r="2.1"/>
<circle cx="428.5" cy="39.9" r="2.1"/>
<circle cx="400.0" cy="33.7" r="2.1"/>
<circle cx="435.6" cy="41.1" r="2.1"/>
<circle cx="427.4" cy="38.9" r="2.1"/>
<circle cx="416.1" cy="38.5" r="2.1"/>
<circle cx="412.9" cy="36.2" r="2.1"/>
<circle cx="431.2" cy="42.6" r="2.1"/>
<circle cx="401.1" cy="38.0" r="2.1"/>
<circle cx="402.1" cy="41.1" r="2.1"/>
<circle cx="387.5" cy="40.8" r="2.1"/>
<circle cx="411.2" cy="42.8" r="2.1"/>
<circle cx="424.6" cy="30.6" r="2.1"/>
<circle cx="412.1" cy="38.3" r="2.1"/>
<circle cx="410.4" cy="36.9" r="2.1"/>
</g>
<line x1="367.46" y1="54.20" x2="423.56" y2="43.20" stroke="#3d5b9b" stroke-width="1.9" />
<line x1="371.46" y1="38.50" x2="436.26" y2="42.70" stroke="#6b8c30" stroke-width="1.9" />
<text transform="translate(367.91,26.16) scale(1,1.12)" font-size="7.0" fill="#3d5b9b" stroke="#3d5b9b"><tspan font-style="italic">R</tspan> = 0.5, <tspan font-style="italic">p</tspan> = 2.1e−05</text>
<text transform="translate(367.91,35.26) scale(1,1.12)" font-size="7.0" fill="#6b8c30" stroke="#6b8c30"><tspan font-style="italic">R</tspan> = −0.12, <tspan font-style="italic">p</tspan> = 0.36</text>
</g>
<rect x="363.81" y="14.95" width="75.30" height="71.45" fill="none" stroke="#1a1a1a" stroke-width="1.1" />
<rect x="364.26" y="2.10" width="74.45" height="12.85" fill="#fff" stroke="#1a1a1a" stroke-width="1.1" />
<text transform="translate(401.46,10.95) scale(1,1.12)" font-size="7.05" fill="#1a1a1a" stroke="#1a1a1a" text-anchor="middle" >cg03168947</text>
<line x1="381.16" y1="86.40" x2="381.16" y2="89.00" stroke="#222" stroke-width="1.0" />
<text transform="translate(381.16,95.73) scale(1,1.12)" font-size="7.05" fill="#4d4d4d" stroke="#4d4d4d" text-anchor="middle" >80</text>
<line x1="404.06" y1="86.40" x2="404.06" y2="89.00" stroke="#222" stroke-width="1.0" />
<text transform="translate(404.06,95.73) scale(1,1.12)" font-size="7.05" fill="#4d4d4d" stroke="#4d4d4d" text-anchor="middle" >100</text>
<line x1="426.46" y1="86.40" x2="426.46" y2="89.00" stroke="#222" stroke-width="1.0" />
<text transform="translate(426.46,95.73) scale(1,1.12)" font-size="7.05" fill="#4d4d4d" stroke="#4d4d4d" text-anchor="middle" >120</text>
<g clip-path="url(#c02)">
<g fill="#3d5b9b" fill-opacity="0.28">
<circle cx="447.7" cy="79.4" r="2.1"/>
<circle cx="503.8" cy="52.5" r="2.1"/>
<circle cx="482.9" cy="62.5" r="2.1"/>
<circle cx="481.4" cy="65.0" r="2.1"/>
<circle cx="478.5" cy="65.6" r="2.1"/>
<circle cx="478.1" cy="72.6" r="2.1"/>
<circle cx="489.8" cy="62.1" r="2.1"/>
<circle cx="455.8" cy="78.3" r="2.1"/>
<circle cx="459.2" cy="64.8" r="2.1"/>
<circle cx="457.1" cy="63.5" r="2.1"/>
<circle cx="468.3" cy="76.3" r="2.1"/>
<circle cx="467.7" cy="72.4" r="2.1"/>
<circle cx="480.7" cy="69.3" r="2.1"/>
<circle cx="479.3" cy="67.8" r="2.1"/>
<circle cx="476.2" cy="70.5" r="2.1"/>
<circle cx="466.7" cy="64.1" r="2.1"/>
<circle cx="469.9" cy="74.5" r="2.1"/>
<circle cx="488.5" cy="61.9" r="2.1"/>
<circle cx="486.0" cy="70.5" r="2.1"/>
<circle cx="477.1" cy="68.2" r="2.1"/>
<circle cx="471.5" cy="58.9" r="2.1"/>
<circle cx="496.5" cy="55.9" r="2.1"/>
<circle cx="467.8" cy="76.0" r="2.1"/>
<circle cx="484.4" cy="65.1" r="2.1"/>
<circle cx="491.2" cy="62.0" r="2.1"/>
<circle cx="472.2" cy="70.2" r="2.1"/>
<circle cx="486.8" cy="63.0" r="2.1"/>
<circle cx="460.9" cy="69.1" r="2.1"/>
<circle cx="489.3" cy="65.0" r="2.1"/>
<circle cx="478.4" cy="68.1" r="2.1"/>
<circle cx="454.6" cy="81.5" r="2.1"/>
<circle cx="484.7" cy="65.9" r="2.1"/>
<circle cx="463.9" cy="80.9" r="2.1"/>
<circle cx="492.9" cy="72.9" r="2.1"/>
<circle cx="466.7" cy="79.4" r="2.1"/>
<circle cx="473.6" cy="74.1" r="2.1"/>
<circle cx="479.5" cy="67.7" r="2.1"/>
<circle cx="471.3" cy="69.9" r="2.1"/>
<circle cx="479.2" cy="66.4" r="2.1"/>
<circle cx="468.4" cy="66.2" r="2.1"/>
<circle cx="484.7" cy="65.4" r="2.1"/>
<circle cx="475.8" cy="64.7" r="2.1"/>
<circle cx="478.6" cy="75.8" r="2.1"/>
<circle cx="447.7" cy="78.2" r="2.1"/>
<circle cx="491.3" cy="61.7" r="2.1"/>
<circle cx="476.2" cy="58.0" r="2.1"/>
<circle cx="452.0" cy="74.0" r="2.1"/>
<circle cx="477.0" cy="65.6" r="2.1"/>
<circle cx="482.0" cy="60.8" r="2.1"/>
<circle cx="490.1" cy="58.4" r="2.1"/>
<circle cx="461.3" cy="60.1" r="2.1"/>
<circle cx="496.4" cy="65.6" r="2.1"/>
<circle cx="473.6" cy="68.3" r="2.1"/>
<circle cx="503.8" cy="74.1" r="2.1"/>
<circle cx="473.8" cy="68.4" r="2.1"/>
<circle cx="484.8" cy="64.9" r="2.1"/>
<circle cx="470.9" cy="76.8" r="2.1"/>
<circle cx="460.9" cy="72.7" r="2.1"/>
<circle cx="490.4" cy="65.1" r="2.1"/>
<circle cx="487.9" cy="62.9" r="2.1"/>
<circle cx="496.3" cy="59.5" r="2.1"/>
<circle cx="487.2" cy="72.8" r="2.1"/>
<circle cx="468.1" cy="75.3" r="2.1"/>
<circle cx="453.6" cy="82.8" r="2.1"/>
</g>
<g fill="#6b8c30" fill-opacity="0.28">
<circle cx="451.7" cy="54.7" r="2.1"/>
<circle cx="516.5" cy="60.2" r="2.1"/>
<circle cx="471.5" cy="53.0" r="2.1"/>
<circle cx="493.1" cy="63.8" r="2.1"/>
<circle cx="489.2" cy="51.3" r="2.1"/>
<circle cx="480.0" cy="61.0" r="2.1"/>
<circle cx="486.8" cy="64.1" r="2.1"/>
<circle cx="481.9" cy="65.5" r="2.1"/>
<circle cx="487.4" cy="53.5" r="2.1"/>
<circle cx="495.7" cy="64.5" r="2.1"/>
<circle cx="498.9" cy="55.3" r="2.1"/>
<circle cx="473.5" cy="53.7" r="2.1"/>
<circle cx="460.9" cy="50.1" r="2.1"/>
<circle cx="506.1" cy="65.4" r="2.1"/>
<circle cx="485.9" cy="66.9" r="2.1"/>
<circle cx="501.2" cy="56.1" r="2.1"/>
<circle cx="458.8" cy="52.9" r="2.1"/>
<circle cx="479.0" cy="56.2" r="2.1"/>
<circle cx="484.5" cy="71.3" r="2.1"/>
<circle cx="461.9" cy="62.3" r="2.1"/>
<circle cx="476.2" cy="55.0" r="2.1"/>
<circle cx="495.3" cy="49.5" r="2.1"/>
<circle cx="500.8" cy="55.7" r="2.1"/>
<circle cx="508.7" cy="65.8" r="2.1"/>
<circle cx="470.8" cy="67.2" r="2.1"/>
<circle cx="462.5" cy="55.7" r="2.1"/>
<circle cx="492.2" cy="55.1" r="2.1"/>
<circle cx="498.6" cy="56.4" r="2.1"/>
<circle cx="487.1" cy="48.6" r="2.1"/>
<circle cx="464.0" cy="61.9" r="2.1"/>
<circle cx="496.2" cy="53.3" r="2.1"/>
<circle cx="496.3" cy="64.4" r="2.1"/>
<circle cx="492.7" cy="49.8" r="2.1"/>
<circle cx="476.6" cy="51.2" r="2.1"/>
<circle cx="488.8" cy="60.0" r="2.1"/>
<circle cx="496.3" cy="54.9" r="2.1"/>
<circle cx="475.5" cy="61.8" r="2.1"/>
<circle cx="455.7" cy="56.8" r="2.1"/>
<circle cx="489.2" cy="52.4" r="2.1"/>
<circle cx="491.5" cy="61.9" r="2.1"/>
<circle cx="484.3" cy="62.6" r="2.1"/>
<circle cx="497.8" cy="49.0" r="2.1"/>
<circle cx="475.1" cy="67.3" r="2.1"/>
<circle cx="482.9" cy="60.8" r="2.1"/>
<circle cx="479.4" cy="61.9" r="2.1"/>
<circle cx="492.9" cy="49.1" r="2.1"/>
<circle cx="508.7" cy="55.8" r="2.1"/>
<circle cx="480.2" cy="56.2" r="2.1"/>
<circle cx="515.8" cy="65.6" r="2.1"/>
<circle cx="507.7" cy="51.9" r="2.1"/>
<circle cx="496.3" cy="54.3" r="2.1"/>
<circle cx="493.2" cy="48.2" r="2.1"/>
<circle cx="511.4" cy="58.5" r="2.1"/>
<circle cx="481.3" cy="59.9" r="2.1"/>
<circle cx="482.4" cy="49.4" r="2.1"/>
<circle cx="467.7" cy="54.3" r="2.1"/>
<circle cx="491.4" cy="61.3" r="2.1"/>
<circle cx="504.9" cy="67.6" r="2.1"/>
<circle cx="492.3" cy="62.1" r="2.1"/>
<circle cx="490.6" cy="57.0" r="2.1"/>
</g>
<line x1="447.72" y1="75.40" x2="503.82" y2="60.70" stroke="#3d5b9b" stroke-width="1.9" />
<line x1="451.72" y1="56.50" x2="516.52" y2="60.00" stroke="#6b8c30" stroke-width="1.9" />
<text transform="translate(448.17,26.16) scale(1,1.12)" font-size="7.0" fill="#3d5b9b" stroke="#3d5b9b"><tspan font-style="italic">R</tspan> = 0.63, <tspan font-style="italic">p</tspan> = 2e−08</text>
<text transform="translate(448.17,35.26) scale(1,1.12)" font-size="7.0" fill="#6b8c30" stroke="#6b8c30"><tspan font-style="italic">R</tspan> = −0.084, <tspan font-style="italic">p</tspan> = 0.51</text>
</g>
<rect x="444.07" y="14.95" width="75.30" height="71.45" fill="none" stroke="#1a1a1a" stroke-width="1.1" />
<rect x="444.52" y="2.10" width="74.45" height="12.85" fill="#fff" stroke="#1a1a1a" stroke-width="1.1" />
<text transform="translate(481.72,10.95) scale(1,1.12)" font-size="7.05" fill="#1a1a1a" stroke="#1a1a1a" text-anchor="middle" >cg08508763</text>
<line x1="461.42" y1="86.40" x2="461.42" y2="89.00" stroke="#222" stroke-width="1.0" />
<text transform="translate(461.42,95.73) scale(1,1.12)" font-size="7.05" fill="#4d4d4d" stroke="#4d4d4d" text-anchor="middle" >80</text>
<line x1="484.32" y1="86.40" x2="484.32" y2="89.00" stroke="#222" stroke-width="1.0" />
<text transform="translate(484.32,95.73) scale(1,1.12)" font-size="7.05" fill="#4d4d4d" stroke="#4d4d4d" text-anchor="middle" >100</text>
<line x1="506.72" y1="86.40" x2="506.72" y2="89.00" stroke="#222" stroke-width="1.0" />
<text transform="translate(506.72,95.73) scale(1,1.12)" font-size="7.05" fill="#4d4d4d" stroke="#4d4d4d" text-anchor="middle" >120</text>
<g clip-path="url(#c03)">
<g fill="#3d5b9b" fill-opacity="0.28">
<circle cx="528.0" cy="62.8" r="2.1"/>
<circle cx="584.1" cy="51.6" r="2.1"/>
<circle cx="563.1" cy="57.7" r="2.1"/>
<circle cx="561.7" cy="62.2" r="2.1"/>
<circle cx="558.7" cy="61.8" r="2.1"/>
<circle cx="558.3" cy="70.9" r="2.1"/>
<circle cx="570.1" cy="61.1" r="2.1"/>
<circle cx="536.1" cy="61.5" r="2.1"/>
<circle cx="539.4" cy="74.4" r="2.1"/>
<circle cx="537.4" cy="71.8" r="2.1"/>
<circle cx="548.6" cy="64.9" r="2.1"/>
<circle cx="547.9" cy="60.7" r="2.1"/>
<circle cx="560.9" cy="51.9" r="2.1"/>
<circle cx="559.6" cy="56.6" r="2.1"/>
<circle cx="556.4" cy="67.3" r="2.1"/>
<circle cx="547.0" cy="60.5" r="2.1"/>
<circle cx="550.1" cy="57.1" r="2.1"/>
<circle cx="568.8" cy="60.9" r="2.1"/>
<circle cx="566.2" cy="61.7" r="2.1"/>
<circle cx="557.4" cy="65.6" r="2.1"/>
<circle cx="551.7" cy="67.1" r="2.1"/>
<circle cx="576.8" cy="65.4" r="2.1"/>
<circle cx="548.1" cy="60.1" r="2.1"/>
<circle cx="564.7" cy="65.9" r="2.1"/>
<circle cx="571.4" cy="54.2" r="2.1"/>
<circle cx="552.5" cy="67.1" r="2.1"/>
<circle cx="567.1" cy="61.2" r="2.1"/>
<circle cx="541.1" cy="67.3" r="2.1"/>
<circle cx="569.6" cy="64.7" r="2.1"/>
<circle cx="558.7" cy="62.0" r="2.1"/>
<circle cx="534.8" cy="73.2" r="2.1"/>
<circle cx="565.0" cy="65.3" r="2.1"/>
<circle cx="544.1" cy="66.0" r="2.1"/>
<circle cx="573.2" cy="56.0" r="2.1"/>
<circle cx="547.0" cy="60.8" r="2.1"/>
<circle cx="553.8" cy="60.4" r="2.1"/>
<circle cx="559.8" cy="60.8" r="2.1"/>
<circle cx="551.6" cy="63.6" r="2.1"/>
<circle cx="559.5" cy="77.4" r="2.1"/>
<circle cx="548.6" cy="67.7" r="2.1"/>
<circle cx="565.0" cy="64.7" r="2.1"/>
<circle cx="556.1" cy="58.2" r="2.1"/>
<circle cx="558.8" cy="58.4" r="2.1"/>
<circle cx="528.0" cy="67.2" r="2.1"/>
<circle cx="571.5" cy="60.3" r="2.1"/>
<circle cx="556.5" cy="57.2" r="2.1"/>
<circle cx="532.2" cy="76.3" r="2.1"/>
<circle cx="557.3" cy="59.5" r="2.1"/>
<circle cx="562.3" cy="66.9" r="2.1"/>
<circle cx="570.3" cy="47.4" r="2.1"/>
<circle cx="541.6" cy="65.9" r="2.1"/>
<circle cx="576.7" cy="59.6" r="2.1"/>
<circle cx="553.9" cy="64.2" r="2.1"/>
<circle cx="584.1" cy="59.6" r="2.1"/>
<circle cx="554.1" cy="64.6" r="2.1"/>
<circle cx="565.1" cy="61.5" r="2.1"/>
<circle cx="551.1" cy="53.9" r="2.1"/>
<circle cx="541.1" cy="62.3" r="2.1"/>
<circle cx="570.7" cy="47.3" r="2.1"/>
<circle cx="568.1" cy="63.3" r="2.1"/>
<circle cx="576.6" cy="59.8" r="2.1"/>
<circle cx="567.5" cy="59.2" r="2.1"/>
<circle cx="548.4" cy="60.1" r="2.1"/>
<circle cx="533.8" cy="64.6" r="2.1"/>
</g>
<g fill="#6b8c30" fill-opacity="0.28">
<circle cx="532.0" cy="65.6" r="2.1"/>
<circle cx="596.8" cy="63.9" r="2.1"/>
<circle cx="551.8" cy="55.4" r="2.1"/>
<circle cx="573.4" cy="62.0" r="2.1"/>
<circle cx="569.4" cy="47.1" r="2.1"/>
<circle cx="560.2" cy="45.5" r="2.1"/>
<circle cx="567.0" cy="52.9" r="2.1"/>
<circle cx="562.1" cy="50.9" r="2.1"/>
<circle cx="567.7" cy="52.5" r="2.1"/>
<circle cx="576.0" cy="56.2" r="2.1"/>
<circle cx="579.2" cy="70.9" r="2.1"/>
<circle cx="553.8" cy="52.2" r="2.1"/>
<circle cx="541.1" cy="56.1" r="2.1"/>
<circle cx="586.4" cy="56.5" r="2.1"/>
<circle cx="566.1" cy="55.2" r="2.1"/>
<circle cx="581.4" cy="60.0" r="2.1"/>
<circle cx="539.0" cy="65.1" r="2.1"/>
<circle cx="559.3" cy="49.1" r="2.1"/>
<circle cx="564.8" cy="56.3" r="2.1"/>
<circle cx="542.1" cy="54.4" r="2.1"/>
<circle cx="556.4" cy="57.4" r="2.1"/>
<circle cx="575.6" cy="47.3" r="2.1"/>
<circle cx="581.0" cy="46.0" r="2.1"/>
<circle cx="589.0" cy="43.0" r="2.1"/>
<circle cx="551.1" cy="58.4" r="2.1"/>
<circle cx="542.8" cy="56.8" r="2.1"/>
<circle cx="572.4" cy="55.7" r="2.1"/>
<circle cx="578.9" cy="42.9" r="2.1"/>
<circle cx="567.4" cy="53.5" r="2.1"/>
<circle cx="544.3" cy="51.9" r="2.1"/>
<circle cx="576.4" cy="47.9" r="2.1"/>
<circle cx="576.6" cy="50.5" r="2.1"/>
<circle cx="572.9" cy="58.9" r="2.1"/>
<circle cx="556.9" cy="58.4" r="2.1"/>
<circle cx="569.1" cy="55.3" r="2.1"/>
<circle cx="576.6" cy="57.9" r="2.1"/>
<circle cx="555.8" cy="52.5" r="2.1"/>
<circle cx="535.9" cy="56.3" r="2.1"/>
<circle cx="569.4" cy="55.6" r="2.1"/>
<circle cx="571.8" cy="58.2" r="2.1"/>
<circle cx="564.6" cy="55.1" r="2.1"/>
<circle cx="578.1" cy="54.5" r="2.1"/>
<circle cx="555.3" cy="54.9" r="2.1"/>
<circle cx="563.1" cy="52.1" r="2.1"/>
<circle cx="559.7" cy="67.1" r="2.1"/>
<circle cx="573.2" cy="58.0" r="2.1"/>
<circle cx="589.0" cy="57.3" r="2.1"/>
<circle cx="560.5" cy="67.4" r="2.1"/>
<circle cx="596.1" cy="62.2" r="2.1"/>
<circle cx="588.0" cy="47.0" r="2.1"/>
<circle cx="576.6" cy="58.9" r="2.1"/>
<circle cx="573.4" cy="59.7" r="2.1"/>
<circle cx="591.7" cy="64.8" r="2.1"/>
<circle cx="561.6" cy="62.3" r="2.1"/>
<circle cx="562.7" cy="59.5" r="2.1"/>
<circle cx="548.0" cy="49.6" r="2.1"/>
<circle cx="571.7" cy="50.8" r="2.1"/>
<circle cx="585.1" cy="56.5" r="2.1"/>
<circle cx="572.6" cy="57.9" r="2.1"/>
<circle cx="570.9" cy="50.0" r="2.1"/>
</g>
<line x1="527.98" y1="68.90" x2="584.08" y2="56.50" stroke="#3d5b9b" stroke-width="1.9" />
<line x1="531.98" y1="56.00" x2="596.78" y2="54.90" stroke="#6b8c30" stroke-width="1.9" />
<text transform="translate(528.43,26.16) scale(1,1.12)" font-size="7.0" fill="#3d5b9b" stroke="#3d5b9b"><tspan font-style="italic">R</tspan> = 0.51, <tspan font-style="italic">p</tspan> = 1.7e−05</text>
<text transform="translate(528.43,35.26) scale(1,1.12)" font-size="7.0" fill="#6b8c30" stroke="#6b8c30"><tspan font-style="italic">R</tspan> = 0.037, <tspan font-style="italic">p</tspan> = 0.77</text>
</g>
<rect x="524.33" y="14.95" width="75.30" height="71.45" fill="none" stroke="#1a1a1a" stroke-width="1.1" />
<rect x="524.78" y="2.10" width="74.45" height="12.85" fill="#fff" stroke="#1a1a1a" stroke-width="1.1" />
<text transform="translate(561.98,10.95) scale(1,1.12)" font-size="7.05" fill="#1a1a1a" stroke="#1a1a1a" text-anchor="middle" >cg08804892</text>
<line x1="541.68" y1="86.40" x2="541.68" y2="89.00" stroke="#222" stroke-width="1.0" />
<text transform="translate(541.68,95.73) scale(1,1.12)" font-size="7.05" fill="#4d4d4d" stroke="#4d4d4d" text-anchor="middle" >80</text>
<line x1="564.58" y1="86.40" x2="564.58" y2="89.00" stroke="#222" stroke-width="1.0" />
<text transform="translate(564.58,95.73) scale(1,1.12)" font-size="7.05" fill="#4d4d4d" stroke="#4d4d4d" text-anchor="middle" >100</text>
<line x1="586.98" y1="86.40" x2="586.98" y2="89.00" stroke="#222" stroke-width="1.0" />
<text transform="translate(586.98,95.73) scale(1,1.12)" font-size="7.05" fill="#4d4d4d" stroke="#4d4d4d" text-anchor="middle" >120</text>
<g clip-path="url(#c04)">
<g fill="#3d5b9b" fill-opacity="0.28">
<circle cx="608.2" cy="53.3" r="2.1"/>
<circle cx="664.3" cy="40.6" r="2.1"/>
<circle cx="643.4" cy="47.7" r="2.1"/>
<circle cx="641.9" cy="49.5" r="2.1"/>
<circle cx="639.0" cy="46.9" r="2.1"/>
<circle cx="638.6" cy="42.1" r="2.1"/>
<circle cx="650.4" cy="52.3" r="2.1"/>
<circle cx="616.3" cy="61.8" r="2.1"/>
<circle cx="619.7" cy="52.2" r="2.1"/>
<circle cx="617.7" cy="58.5" r="2.1"/>
<circle cx="628.8" cy="53.0" r="2.1"/>
<circle cx="628.2" cy="54.2" r="2.1"/>
<circle cx="641.2" cy="50.4" r="2.1"/>
<circle cx="639.8" cy="44.2" r="2.1"/>
<circle cx="636.7" cy="51.9" r="2.1"/>
<circle cx="627.3" cy="56.3" r="2.1"/>
<circle cx="630.4" cy="45.7" r="2.1"/>
<circle cx="649.0" cy="56.4" r="2.1"/>
<circle cx="646.5" cy="57.6" r="2.1"/>
<circle cx="637.6" cy="58.2" r="2.1"/>
<circle cx="632.0" cy="60.3" r="2.1"/>
<circle cx="657.0" cy="48.2" r="2.1"/>
<circle cx="628.4" cy="49.0" r="2.1"/>
<circle cx="645.0" cy="43.9" r="2.1"/>
<circle cx="651.7" cy="41.3" r="2.1"/>
<circle cx="632.7" cy="50.4" r="2.1"/>
<circle cx="647.3" cy="46.4" r="2.1"/>
<circle cx="621.4" cy="55.8" r="2.1"/>
<circle cx="649.8" cy="35.5" r="2.1"/>
<circle cx="639.0" cy="60.4" r="2.1"/>
<circle cx="615.1" cy="65.6" r="2.1"/>
<circle cx="645.2" cy="46.8" r="2.1"/>
<circle cx="624.4" cy="55.2" r="2.1"/>
<circle cx="653.4" cy="47.6" r="2.1"/>
<circle cx="627.2" cy="52.5" r="2.1"/>
<circle cx="634.1" cy="48.4" r="2.1"/>
<circle cx="640.1" cy="47.5" r="2.1"/>
<circle cx="631.8" cy="45.7" r="2.1"/>
<circle cx="639.8" cy="49.1" r="2.1"/>
<circle cx="628.9" cy="50.5" r="2.1"/>
<circle cx="645.3" cy="48.6" r="2.1"/>
<circle cx="636.4" cy="44.5" r="2.1"/>
<circle cx="639.1" cy="48.6" r="2.1"/>
<circle cx="608.2" cy="55.5" r="2.1"/>
<circle cx="651.8" cy="48.7" r="2.1"/>
<circle cx="636.7" cy="43.4" r="2.1"/>
<circle cx="612.5" cy="56.5" r="2.1"/>
<circle cx="637.6" cy="53.8" r="2.1"/>
<circle cx="642.5" cy="50.7" r="2.1"/>
<circle cx="650.6" cy="43.9" r="2.1"/>
<circle cx="621.8" cy="49.7" r="2.1"/>
<circle cx="657.0" cy="43.1" r="2.1"/>
<circle cx="634.2" cy="53.3" r="2.1"/>
<circle cx="664.3" cy="50.8" r="2.1"/>
<circle cx="634.3" cy="48.6" r="2.1"/>
<circle cx="645.4" cy="43.6" r="2.1"/>
<circle cx="631.4" cy="52.1" r="2.1"/>
<circle cx="621.4" cy="53.4" r="2.1"/>
<circle cx="650.9" cy="41.0" r="2.1"/>
<circle cx="648.4" cy="42.4" r="2.1"/>
<circle cx="656.8" cy="43.9" r="2.1"/>
<circle cx="647.7" cy="49.9" r="2.1"/>
<circle cx="628.6" cy="44.5" r="2.1"/>
<circle cx="614.1" cy="48.7" r="2.1"/>
</g>
<g fill="#6b8c30" fill-opacity="0.28">
<circle cx="612.2" cy="40.4" r="2.1"/>
<circle cx="677.0" cy="35.6" r="2.1"/>
<circle cx="632.1" cy="39.7" r="2.1"/>
<circle cx="653.6" cy="42.3" r="2.1"/>
<circle cx="649.7" cy="39.7" r="2.1"/>
<circle cx="640.5" cy="34.3" r="2.1"/>
<circle cx="647.3" cy="39.8" r="2.1"/>
<circle cx="642.4" cy="38.0" r="2.1"/>
<circle cx="647.9" cy="41.9" r="2.1"/>
<circle cx="656.2" cy="36.3" r="2.1"/>
<circle cx="659.4" cy="46.5" r="2.1"/>
<circle cx="634.1" cy="30.5" r="2.1"/>
<circle cx="621.4" cy="37.5" r="2.1"/>
<circle cx="666.7" cy="41.4" r="2.1"/>
<circle cx="646.4" cy="45.0" r="2.1"/>
<circle cx="661.7" cy="37.8" r="2.1"/>
<circle cx="619.3" cy="41.1" r="2.1"/>
<circle cx="639.5" cy="36.6" r="2.1"/>
<circle cx="645.1" cy="43.8" r="2.1"/>
<circle cx="622.4" cy="47.5" r="2.1"/>
<circle cx="636.7" cy="37.3" r="2.1"/>
<circle cx="655.8" cy="42.9" r="2.1"/>
<circle cx="661.3" cy="36.2" r="2.1"/>
<circle cx="669.2" cy="46.6" r="2.1"/>
<circle cx="631.3" cy="45.3" r="2.1"/>
<circle cx="623.0" cy="38.7" r="2.1"/>
<circle cx="652.7" cy="34.5" r="2.1"/>
<circle cx="659.1" cy="42.9" r="2.1"/>
<circle cx="647.6" cy="46.1" r="2.1"/>
<circle cx="624.6" cy="44.3" r="2.1"/>
<circle cx="656.7" cy="44.9" r="2.1"/>
<circle cx="656.9" cy="31.2" r="2.1"/>
<circle cx="653.2" cy="36.9" r="2.1"/>
<circle cx="637.1" cy="46.8" r="2.1"/>
<circle cx="649.3" cy="33.8" r="2.1"/>
<circle cx="656.8" cy="46.6" r="2.1"/>
<circle cx="636.0" cy="49.1" r="2.1"/>
<circle cx="616.2" cy="42.0" r="2.1"/>
<circle cx="649.7" cy="46.1" r="2.1"/>
<circle cx="652.1" cy="38.7" r="2.1"/>
<circle cx="644.8" cy="33.5" r="2.1"/>
<circle cx="658.4" cy="40.3" r="2.1"/>
<circle cx="635.6" cy="38.3" r="2.1"/>
<circle cx="643.4" cy="39.6" r="2.1"/>
<circle cx="639.9" cy="43.2" r="2.1"/>
<circle cx="653.5" cy="39.7" r="2.1"/>
<circle cx="669.3" cy="42.5" r="2.1"/>
<circle cx="640.8" cy="41.9" r="2.1"/>
<circle cx="676.3" cy="41.9" r="2.1"/>
<circle cx="668.2" cy="51.0" r="2.1"/>
<circle cx="656.8" cy="43.0" r="2.1"/>
<circle cx="653.7" cy="40.9" r="2.1"/>
<circle cx="672.0" cy="40.6" r="2.1"/>
<circle cx="641.9" cy="36.5" r="2.1"/>
<circle cx="642.9" cy="46.8" r="2.1"/>
<circle cx="628.2" cy="39.6" r="2.1"/>
<circle cx="651.9" cy="34.8" r="2.1"/>
<circle cx="665.4" cy="38.3" r="2.1"/>
<circle cx="652.9" cy="39.7" r="2.1"/>
<circle cx="651.2" cy="38.0" r="2.1"/>
</g>
<line x1="608.24" y1="55.30" x2="664.34" y2="42.70" stroke="#3d5b9b" stroke-width="1.9" />
<line x1="612.24" y1="37.80" x2="677.04" y2="42.00" stroke="#6b8c30" stroke-width="1.9" />
<text transform="translate(608.69,26.16) scale(1,1.12)" font-size="7.0" fill="#3d5b9b" stroke="#3d5b9b"><tspan font-style="italic">R</tspan> = 0.54, <tspan font-style="italic">p</tspan> = 3.7e−06</text>
<text transform="translate(608.69,35.26) scale(1,1.12)" font-size="7.0" fill="#6b8c30" stroke="#6b8c30"><tspan font-style="italic">R</tspan> = −0.14, <tspan font-style="italic">p</tspan> = 0.29</text>
</g>
<rect x="604.59" y="14.95" width="75.30" height="71.45" fill="none" stroke="#1a1a1a" stroke-width="1.1" />
<rect x="605.04" y="2.10" width="74.45" height="12.85" fill="#fff" stroke="#1a1a1a" stroke-width="1.1" />
<text transform="translate(642.24,10.95) scale(1,1.12)" font-size="7.05" fill="#1a1a1a" stroke="#1a1a1a" text-anchor="middle" >cg23715029</text>
<line x1="621.94" y1="86.40" x2="621.94" y2="89.00" stroke="#222" stroke-width="1.0" />
<text transform="translate(621.94,95.73) scale(1,1.12)" font-size="7.05" fill="#4d4d4d" stroke="#4d4d4d" text-anchor="middle" >80</text>
<line x1="644.84" y1="86.40" x2="644.84" y2="89.00" stroke="#222" stroke-width="1.0" />
<text transform="translate(644.84,95.73) scale(1,1.12)" font-size="7.05" fill="#4d4d4d" stroke="#4d4d4d" text-anchor="middle" >100</text>
<line x1="667.24" y1="86.40" x2="667.24" y2="89.00" stroke="#222" stroke-width="1.0" />
<text transform="translate(667.24,95.73) scale(1,1.12)" font-size="7.05" fill="#4d4d4d" stroke="#4d4d4d" text-anchor="middle" >120</text>
<line x1="280.90" y1="71.30" x2="283.60" y2="71.30" stroke="#222" stroke-width="1.0" />
<text transform="translate(280.00,73.73) scale(1,1.12)" font-size="7.05" fill="#4d4d4d" stroke="#4d4d4d" text-anchor="end" >0.2</text>
<line x1="280.90" y1="48.75" x2="283.60" y2="48.75" stroke="#222" stroke-width="1.0" />
<text transform="translate(280.00,51.18) scale(1,1.12)" font-size="7.05" fill="#4d4d4d" stroke="#4d4d4d" text-anchor="end" >0.4</text>
<line x1="280.90" y1="26.20" x2="283.60" y2="26.20" stroke="#222" stroke-width="1.0" />
<text transform="translate(280.00,28.63) scale(1,1.12)" font-size="7.05" fill="#4d4d4d" stroke="#4d4d4d" text-anchor="end" >0.6</text>
<text x="0" y="0" font-size="8.6" fill="#1a1a1a" stroke="#1a1a1a" text-anchor="middle" transform="translate(266.37,56.68) rotate(-90) scale(1,1.12)">β−value</text>
<text transform="translate(482.00,105.35) scale(1,1.12)" font-size="8.6" fill="#1a1a1a" stroke="#1a1a1a" text-anchor="middle" >FSIQ</text>
<g clip-path="url(#c10)">
<g fill="#3d5b9b" fill-opacity="0.28">
<circle cx="290.0" cy="191.0" r="2.1"/>
<circle cx="355.9" cy="180.3" r="2.1"/>
<circle cx="330.7" cy="176.3" r="2.1"/>
<circle cx="325.2" cy="188.2" r="2.1"/>
<circle cx="304.5" cy="178.1" r="2.1"/>
<circle cx="323.7" cy="175.5" r="2.1"/>
<circle cx="321.5" cy="185.3" r="2.1"/>
<circle cx="330.8" cy="175.3" r="2.1"/>
<circle cx="315.9" cy="183.0" r="2.1"/>
<circle cx="327.7" cy="172.9" r="2.1"/>
<circle cx="296.8" cy="187.4" r="2.1"/>
<circle cx="305.9" cy="179.5" r="2.1"/>
<circle cx="335.3" cy="181.9" r="2.1"/>
<circle cx="339.3" cy="171.4" r="2.1"/>
<circle cx="322.7" cy="184.7" r="2.1"/>
<circle cx="313.6" cy="182.7" r="2.1"/>
<circle cx="339.9" cy="179.6" r="2.1"/>
<circle cx="290.1" cy="187.9" r="2.1"/>
<circle cx="310.4" cy="185.3" r="2.1"/>
<circle cx="333.5" cy="173.6" r="2.1"/>
<circle cx="333.2" cy="167.2" r="2.1"/>
<circle cx="306.8" cy="185.5" r="2.1"/>
<circle cx="293.3" cy="182.8" r="2.1"/>
<circle cx="345.7" cy="175.9" r="2.1"/>
<circle cx="325.4" cy="184.1" r="2.1"/>
<circle cx="308.9" cy="174.6" r="2.1"/>
<circle cx="323.8" cy="178.2" r="2.1"/>
<circle cx="337.1" cy="176.6" r="2.1"/>
<circle cx="290.0" cy="182.8" r="2.1"/>
<circle cx="340.4" cy="180.9" r="2.1"/>
<circle cx="334.6" cy="179.5" r="2.1"/>
<circle cx="290.3" cy="184.0" r="2.1"/>
<circle cx="335.0" cy="175.0" r="2.1"/>
<circle cx="295.0" cy="191.6" r="2.1"/>
<circle cx="340.8" cy="175.7" r="2.1"/>
<circle cx="329.2" cy="184.3" r="2.1"/>
<circle cx="355.9" cy="178.7" r="2.1"/>
<circle cx="313.4" cy="174.2" r="2.1"/>
<circle cx="323.0" cy="176.7" r="2.1"/>
<circle cx="339.4" cy="179.4" r="2.1"/>
<circle cx="312.9" cy="185.9" r="2.1"/>
<circle cx="311.9" cy="188.4" r="2.1"/>
<circle cx="317.1" cy="187.6" r="2.1"/>
<circle cx="321.8" cy="187.9" r="2.1"/>
<circle cx="306.0" cy="183.5" r="2.1"/>
<circle cx="330.5" cy="179.9" r="2.1"/>
<circle cx="331.5" cy="184.8" r="2.1"/>
<circle cx="324.1" cy="179.9" r="2.1"/>
<circle cx="349.6" cy="183.0" r="2.1"/>
<circle cx="317.8" cy="175.0" r="2.1"/>
<circle cx="343.5" cy="182.0" r="2.1"/>
<circle cx="314.4" cy="183.0" r="2.1"/>
<circle cx="334.8" cy="170.0" r="2.1"/>
<circle cx="292.6" cy="192.9" r="2.1"/>
<circle cx="326.1" cy="183.4" r="2.1"/>
<circle cx="320.2" cy="183.0" r="2.1"/>
<circle cx="315.2" cy="178.2" r="2.1"/>
<circle cx="313.4" cy="181.7" r="2.1"/>
<circle cx="317.5" cy="191.2" r="2.1"/>
<circle cx="311.7" cy="180.1" r="2.1"/>
<circle cx="290.0" cy="170.2" r="2.1"/>
<circle cx="313.6" cy="179.6" r="2.1"/>
<circle cx="314.3" cy="177.7" r="2.1"/>
<circle cx="314.7" cy="183.1" r="2.1"/>
</g>
<g fill="#6b8c30" fill-opacity="0.28">
<circle cx="287.2" cy="171.5" r="2.1"/>
<circle cx="355.9" cy="171.7" r="2.1"/>
<circle cx="334.4" cy="171.1" r="2.1"/>
<circle cx="317.5" cy="180.2" r="2.1"/>
<circle cx="313.5" cy="167.1" r="2.1"/>
<circle cx="343.8" cy="186.1" r="2.1"/>
<circle cx="337.5" cy="172.8" r="2.1"/>
<circle cx="336.6" cy="169.9" r="2.1"/>
<circle cx="340.5" cy="179.8" r="2.1"/>
<circle cx="316.2" cy="177.7" r="2.1"/>
<circle cx="319.4" cy="169.4" r="2.1"/>
<circle cx="339.8" cy="179.6" r="2.1"/>
<circle cx="312.5" cy="165.0" r="2.1"/>
<circle cx="319.6" cy="170.1" r="2.1"/>
<circle cx="327.7" cy="181.1" r="2.1"/>
<circle cx="327.6" cy="173.9" r="2.1"/>
<circle cx="317.0" cy="168.0" r="2.1"/>
<circle cx="337.6" cy="178.3" r="2.1"/>
<circle cx="318.6" cy="179.6" r="2.1"/>
<circle cx="333.4" cy="175.3" r="2.1"/>
<circle cx="339.1" cy="166.3" r="2.1"/>
<circle cx="332.3" cy="173.6" r="2.1"/>
<circle cx="333.5" cy="177.6" r="2.1"/>
<circle cx="302.6" cy="178.1" r="2.1"/>
<circle cx="300.1" cy="183.7" r="2.1"/>
<circle cx="311.4" cy="173.2" r="2.1"/>
<circle cx="329.3" cy="172.8" r="2.1"/>
<circle cx="346.1" cy="175.8" r="2.1"/>
<circle cx="301.6" cy="180.4" r="2.1"/>
<circle cx="326.6" cy="170.3" r="2.1"/>
<circle cx="307.6" cy="181.1" r="2.1"/>
<circle cx="309.6" cy="160.1" r="2.1"/>
<circle cx="317.0" cy="178.9" r="2.1"/>
<circle cx="332.9" cy="171.9" r="2.1"/>
<circle cx="325.0" cy="177.5" r="2.1"/>
<circle cx="340.8" cy="179.3" r="2.1"/>
<circle cx="305.4" cy="168.1" r="2.1"/>
<circle cx="336.1" cy="175.1" r="2.1"/>
<circle cx="336.8" cy="176.8" r="2.1"/>
<circle cx="322.7" cy="178.1" r="2.1"/>
<circle cx="329.4" cy="170.4" r="2.1"/>
<circle cx="312.3" cy="169.4" r="2.1"/>
<circle cx="303.7" cy="164.2" r="2.1"/>
<circle cx="314.9" cy="187.9" r="2.1"/>
<circle cx="311.0" cy="173.5" r="2.1"/>
<circle cx="355.9" cy="175.2" r="2.1"/>
<circle cx="313.6" cy="166.8" r="2.1"/>
<circle cx="348.5" cy="180.9" r="2.1"/>
<circle cx="324.9" cy="172.3" r="2.1"/>
<circle cx="326.7" cy="182.6" r="2.1"/>
<circle cx="333.7" cy="179.9" r="2.1"/>
<circle cx="308.8" cy="174.5" r="2.1"/>
<circle cx="336.5" cy="179.4" r="2.1"/>
<circle cx="327.7" cy="169.4" r="2.1"/>
<circle cx="296.8" cy="172.2" r="2.1"/>
<circle cx="331.4" cy="172.4" r="2.1"/>
<circle cx="330.6" cy="168.7" r="2.1"/>
<circle cx="329.0" cy="175.4" r="2.1"/>
<circle cx="347.5" cy="175.3" r="2.1"/>
<circle cx="314.8" cy="182.1" r="2.1"/>
</g>
<line x1="290.00" y1="188.30" x2="355.90" y2="176.40" stroke="#3d5b9b" stroke-width="1.9" />
<line x1="287.20" y1="173.50" x2="355.90" y2="176.40" stroke="#6b8c30" stroke-width="1.9" />
<text transform="translate(287.65,140.56) scale(1,1.12)" font-size="7.0" fill="#3d5b9b" stroke="#3d5b9b"><tspan font-style="italic">R</tspan> = 0.52, <tspan font-style="italic">p</tspan> = 8e−06</text>
<text transform="translate(287.65,149.66) scale(1,1.12)" font-size="7.0" fill="#6b8c30" stroke="#6b8c30"><tspan font-style="italic">R</tspan> = −0.063, <tspan font-style="italic">p</tspan> = 0.63</text>
</g>
<rect x="283.55" y="129.35" width="75.30" height="71.45" fill="none" stroke="#1a1a1a" stroke-width="1.1" />
<rect x="284.00" y="116.50" width="74.45" height="12.85" fill="#fff" stroke="#1a1a1a" stroke-width="1.1" />
<text transform="translate(321.20,125.35) scale(1,1.12)" font-size="7.05" fill="#1a1a1a" stroke="#1a1a1a" text-anchor="middle" >cg01855070</text>
<line x1="286.60" y1="200.80" x2="286.60" y2="203.40" stroke="#222" stroke-width="1.0" />
<text transform="translate(286.60,210.13) scale(1,1.12)" font-size="7.05" fill="#4d4d4d" stroke="#4d4d4d" text-anchor="middle" >70</text>
<line x1="299.30" y1="200.80" x2="299.30" y2="203.40" stroke="#222" stroke-width="1.0" />
<text transform="translate(299.30,210.13) scale(1,1.12)" font-size="7.05" fill="#4d4d4d" stroke="#4d4d4d" text-anchor="middle" >80</text>
<line x1="311.60" y1="200.80" x2="311.60" y2="203.40" stroke="#222" stroke-width="1.0" />
<text transform="translate(311.60,210.13) scale(1,1.12)" font-size="7.05" fill="#4d4d4d" stroke="#4d4d4d" text-anchor="middle" >90</text>
<line x1="324.20" y1="200.80" x2="324.20" y2="203.40" stroke="#222" stroke-width="1.0" />
<text transform="translate(324.20,210.13) scale(1,1.12)" font-size="7.05" fill="#4d4d4d" stroke="#4d4d4d" text-anchor="middle" >100</text>
<line x1="336.80" y1="200.80" x2="336.80" y2="203.40" stroke="#222" stroke-width="1.0" />
<text transform="translate(336.80,210.13) scale(1,1.12)" font-size="7.05" fill="#4d4d4d" stroke="#4d4d4d" text-anchor="middle" >110</text>
<line x1="349.30" y1="200.80" x2="349.30" y2="203.40" stroke="#222" stroke-width="1.0" />
<text transform="translate(349.30,210.13) scale(1,1.12)" font-size="7.05" fill="#4d4d4d" stroke="#4d4d4d" text-anchor="middle" >120</text>
<g clip-path="url(#c11)">
<g fill="#3d5b9b" fill-opacity="0.28">
<circle cx="370.3" cy="152.2" r="2.1"/>
<circle cx="436.2" cy="154.4" r="2.1"/>
<circle cx="410.9" cy="157.6" r="2.1"/>
<circle cx="405.5" cy="160.9" r="2.1"/>
<circle cx="384.7" cy="169.2" r="2.1"/>
<circle cx="404.0" cy="165.7" r="2.1"/>
<circle cx="401.7" cy="164.2" r="2.1"/>
<circle cx="411.1" cy="159.9" r="2.1"/>
<circle cx="396.1" cy="167.6" r="2.1"/>
<circle cx="408.0" cy="164.8" r="2.1"/>
<circle cx="377.1" cy="158.8" r="2.1"/>
<circle cx="386.2" cy="165.4" r="2.1"/>
<circle cx="415.5" cy="154.4" r="2.1"/>
<circle cx="419.6" cy="154.7" r="2.1"/>
<circle cx="403.0" cy="164.5" r="2.1"/>
<circle cx="393.8" cy="165.7" r="2.1"/>
<circle cx="420.2" cy="161.3" r="2.1"/>
<circle cx="370.4" cy="165.0" r="2.1"/>
<circle cx="390.7" cy="164.9" r="2.1"/>
<circle cx="413.8" cy="157.1" r="2.1"/>
<circle cx="413.4" cy="163.9" r="2.1"/>
<circle cx="387.0" cy="170.2" r="2.1"/>
<circle cx="373.6" cy="178.1" r="2.1"/>
<circle cx="426.0" cy="166.3" r="2.1"/>
<circle cx="405.6" cy="159.1" r="2.1"/>
<circle cx="389.1" cy="163.9" r="2.1"/>
<circle cx="404.1" cy="158.7" r="2.1"/>
<circle cx="417.4" cy="162.8" r="2.1"/>
<circle cx="370.3" cy="179.9" r="2.1"/>
<circle cx="420.6" cy="164.3" r="2.1"/>
<circle cx="414.8" cy="150.3" r="2.1"/>
<circle cx="370.6" cy="163.0" r="2.1"/>
<circle cx="415.3" cy="154.9" r="2.1"/>
<circle cx="375.3" cy="171.4" r="2.1"/>
<circle cx="421.1" cy="160.6" r="2.1"/>
<circle cx="409.5" cy="164.2" r="2.1"/>
<circle cx="436.2" cy="167.2" r="2.1"/>
<circle cx="393.6" cy="161.2" r="2.1"/>
<circle cx="403.3" cy="159.3" r="2.1"/>
<circle cx="419.6" cy="171.1" r="2.1"/>
<circle cx="393.2" cy="167.3" r="2.1"/>
<circle cx="392.1" cy="161.7" r="2.1"/>
<circle cx="397.4" cy="154.2" r="2.1"/>
<circle cx="402.1" cy="156.0" r="2.1"/>
<circle cx="386.2" cy="154.1" r="2.1"/>
<circle cx="410.8" cy="162.8" r="2.1"/>
<circle cx="411.7" cy="162.5" r="2.1"/>
<circle cx="404.3" cy="168.7" r="2.1"/>
<circle cx="429.9" cy="158.3" r="2.1"/>
<circle cx="398.1" cy="161.1" r="2.1"/>
<circle cx="423.7" cy="156.3" r="2.1"/>
<circle cx="394.6" cy="175.2" r="2.1"/>
<circle cx="415.1" cy="152.5" r="2.1"/>
<circle cx="372.9" cy="170.0" r="2.1"/>
<circle cx="406.3" cy="163.3" r="2.1"/>
<circle cx="400.5" cy="167.4" r="2.1"/>
<circle cx="395.4" cy="163.0" r="2.1"/>
<circle cx="393.6" cy="168.0" r="2.1"/>
<circle cx="397.8" cy="169.0" r="2.1"/>
<circle cx="391.9" cy="165.0" r="2.1"/>
<circle cx="370.3" cy="167.2" r="2.1"/>
<circle cx="393.9" cy="164.4" r="2.1"/>
<circle cx="394.6" cy="160.3" r="2.1"/>
<circle cx="395.0" cy="164.1" r="2.1"/>
</g>
<g fill="#6b8c30" fill-opacity="0.28">
<circle cx="367.5" cy="152.1" r="2.1"/>
<circle cx="436.2" cy="157.1" r="2.1"/>
<circle cx="414.6" cy="162.2" r="2.1"/>
<circle cx="397.7" cy="161.5" r="2.1"/>
<circle cx="393.8" cy="152.3" r="2.1"/>
<circle cx="424.0" cy="158.7" r="2.1"/>
<circle cx="417.8" cy="156.9" r="2.1"/>
<circle cx="416.9" cy="159.3" r="2.1"/>
<circle cx="420.7" cy="155.6" r="2.1"/>
<circle cx="396.5" cy="156.1" r="2.1"/>
<circle cx="399.7" cy="152.3" r="2.1"/>
<circle cx="420.0" cy="151.4" r="2.1"/>
<circle cx="392.7" cy="159.1" r="2.1"/>
<circle cx="399.9" cy="161.5" r="2.1"/>
<circle cx="408.0" cy="158.5" r="2.1"/>
<circle cx="407.9" cy="157.3" r="2.1"/>
<circle cx="397.3" cy="156.1" r="2.1"/>
<circle cx="417.9" cy="153.0" r="2.1"/>
<circle cx="398.9" cy="145.5" r="2.1"/>
<circle cx="413.7" cy="158.7" r="2.1"/>
<circle cx="419.3" cy="156.5" r="2.1"/>
<circle cx="412.6" cy="152.3" r="2.1"/>
<circle cx="413.8" cy="150.2" r="2.1"/>
<circle cx="382.8" cy="160.9" r="2.1"/>
<circle cx="380.4" cy="144.7" r="2.1"/>
<circle cx="391.7" cy="163.7" r="2.1"/>
<circle cx="409.6" cy="158.4" r="2.1"/>
<circle cx="426.4" cy="168.0" r="2.1"/>
<circle cx="381.8" cy="150.4" r="2.1"/>
<circle cx="406.8" cy="154.9" r="2.1"/>
<circle cx="387.8" cy="151.7" r="2.1"/>
<circle cx="389.8" cy="155.3" r="2.1"/>
<circle cx="397.3" cy="153.6" r="2.1"/>
<circle cx="413.1" cy="151.3" r="2.1"/>
<circle cx="405.3" cy="160.6" r="2.1"/>
<circle cx="421.1" cy="151.4" r="2.1"/>
<circle cx="385.7" cy="151.7" r="2.1"/>
<circle cx="416.4" cy="158.2" r="2.1"/>
<circle cx="417.0" cy="152.6" r="2.1"/>
<circle cx="402.9" cy="152.6" r="2.1"/>
<circle cx="409.6" cy="157.0" r="2.1"/>
<circle cx="392.6" cy="152.6" r="2.1"/>
<circle cx="384.0" cy="147.8" r="2.1"/>
<circle cx="395.2" cy="154.1" r="2.1"/>
<circle cx="391.3" cy="153.4" r="2.1"/>
<circle cx="436.2" cy="164.9" r="2.1"/>
<circle cx="393.9" cy="148.9" r="2.1"/>
<circle cx="428.8" cy="160.8" r="2.1"/>
<circle cx="405.1" cy="150.9" r="2.1"/>
<circle cx="406.9" cy="153.2" r="2.1"/>
<circle cx="414.0" cy="153.6" r="2.1"/>
<circle cx="389.1" cy="155.8" r="2.1"/>
<circle cx="416.8" cy="159.8" r="2.1"/>
<circle cx="408.0" cy="164.2" r="2.1"/>
<circle cx="377.0" cy="150.7" r="2.1"/>
<circle cx="411.6" cy="162.1" r="2.1"/>
<circle cx="410.8" cy="160.3" r="2.1"/>
<circle cx="409.2" cy="159.3" r="2.1"/>
<circle cx="427.7" cy="151.8" r="2.1"/>
<circle cx="395.0" cy="159.3" r="2.1"/>
</g>
<line x1="370.26" y1="169.60" x2="436.16" y2="157.90" stroke="#3d5b9b" stroke-width="1.9" />
<line x1="367.46" y1="153.70" x2="436.16" y2="156.00" stroke="#6b8c30" stroke-width="1.9" />
<text transform="translate(367.91,140.56) scale(1,1.12)" font-size="7.0" fill="#3d5b9b" stroke="#3d5b9b"><tspan font-style="italic">R</tspan> = 0.49, <tspan font-style="italic">p</tspan> = 3.2e−05</text>
<text transform="translate(367.91,149.66) scale(1,1.12)" font-size="7.0" fill="#6b8c30" stroke="#6b8c30"><tspan font-style="italic">R</tspan> = −0.051, <tspan font-style="italic">p</tspan> = 0.69</text>
</g>
<rect x="363.81" y="129.35" width="75.30" height="71.45" fill="none" stroke="#1a1a1a" stroke-width="1.1" />
<rect x="364.26" y="116.50" width="74.45" height="12.85" fill="#fff" stroke="#1a1a1a" stroke-width="1.1" />
<text transform="translate(401.46,125.35) scale(1,1.12)" font-size="7.05" fill="#1a1a1a" stroke="#1a1a1a" text-anchor="middle" >cg03168947</text>
<line x1="366.86" y1="200.80" x2="366.86" y2="203.40" stroke="#222" stroke-width="1.0" />
<text transform="translate(366.86,210.13) scale(1,1.12)" font-size="7.05" fill="#4d4d4d" stroke="#4d4d4d" text-anchor="middle" >70</text>
<line x1="379.56" y1="200.80" x2="379.56" y2="203.40" stroke="#222" stroke-width="1.0" />
<text transform="translate(379.56,210.13) scale(1,1.12)" font-size="7.05" fill="#4d4d4d" stroke="#4d4d4d" text-anchor="middle" >80</text>
<line x1="391.86" y1="200.80" x2="391.86" y2="203.40" stroke="#222" stroke-width="1.0" />
<text transform="translate(391.86,210.13) scale(1,1.12)" font-size="7.05" fill="#4d4d4d" stroke="#4d4d4d" text-anchor="middle" >90</text>
<line x1="404.46" y1="200.80" x2="404.46" y2="203.40" stroke="#222" stroke-width="1.0" />
<text transform="translate(404.46,210.13) scale(1,1.12)" font-size="7.05" fill="#4d4d4d" stroke="#4d4d4d" text-anchor="middle" >100</text>
<line x1="417.06" y1="200.80" x2="417.06" y2="203.40" stroke="#222" stroke-width="1.0" />
<text transform="translate(417.06,210.13) scale(1,1.12)" font-size="7.05" fill="#4d4d4d" stroke="#4d4d4d" text-anchor="middle" >110</text>
<line x1="429.56" y1="200.80" x2="429.56" y2="203.40" stroke="#222" stroke-width="1.0" />
<text transform="translate(429.56,210.13) scale(1,1.12)" font-size="7.05" fill="#4d4d4d" stroke="#4d4d4d" text-anchor="middle" >120</text>
<g clip-path="url(#c12)">
<g fill="#3d5b9b" fill-opacity="0.28">
<circle cx="450.5" cy="189.3" r="2.1"/>
<circle cx="516.4" cy="178.2" r="2.1"/>
<circle cx="491.2" cy="180.2" r="2.1"/>
<circle cx="485.7" cy="186.1" r="2.1"/>
<circle cx="465.0" cy="192.7" r="2.1"/>
<circle cx="484.2" cy="188.9" r="2.1"/>
<circle cx="482.0" cy="182.4" r="2.1"/>
<circle cx="491.3" cy="186.7" r="2.1"/>
<circle cx="476.4" cy="192.1" r="2.1"/>
<circle cx="488.2" cy="177.3" r="2.1"/>
<circle cx="457.3" cy="196.2" r="2.1"/>
<circle cx="466.5" cy="179.7" r="2.1"/>
<circle cx="495.8" cy="183.4" r="2.1"/>
<circle cx="499.8" cy="182.9" r="2.1"/>
<circle cx="483.3" cy="190.9" r="2.1"/>
<circle cx="474.1" cy="186.5" r="2.1"/>
<circle cx="500.5" cy="177.2" r="2.1"/>
<circle cx="450.6" cy="185.7" r="2.1"/>
<circle cx="470.9" cy="179.2" r="2.1"/>
<circle cx="494.0" cy="185.0" r="2.1"/>
<circle cx="493.7" cy="179.8" r="2.1"/>
<circle cx="467.3" cy="182.7" r="2.1"/>
<circle cx="453.9" cy="192.0" r="2.1"/>
<circle cx="506.3" cy="174.5" r="2.1"/>
<circle cx="485.9" cy="180.4" r="2.1"/>
<circle cx="469.4" cy="183.6" r="2.1"/>
<circle cx="484.3" cy="191.6" r="2.1"/>
<circle cx="497.6" cy="187.9" r="2.1"/>
<circle cx="450.5" cy="189.1" r="2.1"/>
<circle cx="500.9" cy="171.4" r="2.1"/>
<circle cx="495.1" cy="182.2" r="2.1"/>
<circle cx="450.8" cy="190.2" r="2.1"/>
<circle cx="495.6" cy="182.5" r="2.1"/>
<circle cx="455.5" cy="191.8" r="2.1"/>
<circle cx="501.3" cy="177.8" r="2.1"/>
<circle cx="489.7" cy="186.7" r="2.1"/>
<circle cx="516.4" cy="180.8" r="2.1"/>
<circle cx="473.9" cy="186.2" r="2.1"/>
<circle cx="483.5" cy="181.0" r="2.1"/>
<circle cx="499.9" cy="177.3" r="2.1"/>
<circle cx="473.4" cy="188.8" r="2.1"/>
<circle cx="472.4" cy="179.7" r="2.1"/>
<circle cx="477.6" cy="183.5" r="2.1"/>
<circle cx="482.3" cy="179.5" r="2.1"/>
<circle cx="466.5" cy="179.4" r="2.1"/>
<circle cx="491.1" cy="184.7" r="2.1"/>
<circle cx="492.0" cy="181.3" r="2.1"/>
<circle cx="484.6" cy="183.1" r="2.1"/>
<circle cx="510.1" cy="182.2" r="2.1"/>
<circle cx="478.3" cy="176.4" r="2.1"/>
<circle cx="504.0" cy="178.6" r="2.1"/>
<circle cx="474.9" cy="186.4" r="2.1"/>
<circle cx="495.3" cy="185.0" r="2.1"/>
<circle cx="453.1" cy="183.7" r="2.1"/>
<circle cx="486.6" cy="186.2" r="2.1"/>
<circle cx="480.7" cy="184.9" r="2.1"/>
<circle cx="475.7" cy="191.8" r="2.1"/>
<circle cx="473.9" cy="191.0" r="2.1"/>
<circle cx="478.0" cy="187.1" r="2.1"/>
<circle cx="472.2" cy="196.6" r="2.1"/>
<circle cx="450.5" cy="189.9" r="2.1"/>
<circle cx="474.1" cy="182.9" r="2.1"/>
<circle cx="474.8" cy="183.1" r="2.1"/>
<circle cx="475.2" cy="179.9" r="2.1"/>
</g>
<g fill="#6b8c30" fill-opacity="0.28">
<circle cx="447.7" cy="171.6" r="2.1"/>
<circle cx="516.4" cy="163.7" r="2.1"/>
<circle cx="494.9" cy="172.5" r="2.1"/>
<circle cx="478.0" cy="174.7" r="2.1"/>
<circle cx="474.0" cy="177.5" r="2.1"/>
<circle cx="504.3" cy="171.4" r="2.1"/>
<circle cx="498.1" cy="180.2" r="2.1"/>
<circle cx="497.1" cy="169.6" r="2.1"/>
<circle cx="501.0" cy="172.4" r="2.1"/>
<circle cx="476.7" cy="162.7" r="2.1"/>
<circle cx="480.0" cy="168.6" r="2.1"/>
<circle cx="500.3" cy="169.0" r="2.1"/>
<circle cx="473.0" cy="179.9" r="2.1"/>
<circle cx="480.1" cy="175.2" r="2.1"/>
<circle cx="488.3" cy="167.2" r="2.1"/>
<circle cx="488.2" cy="175.5" r="2.1"/>
<circle cx="477.5" cy="174.9" r="2.1"/>
<circle cx="498.2" cy="171.8" r="2.1"/>
<circle cx="479.2" cy="172.6" r="2.1"/>
<circle cx="493.9" cy="171.4" r="2.1"/>
<circle cx="499.6" cy="170.3" r="2.1"/>
<circle cx="492.9" cy="163.9" r="2.1"/>
<circle cx="494.1" cy="172.5" r="2.1"/>
<circle cx="463.1" cy="178.6" r="2.1"/>
<circle cx="460.6" cy="179.3" r="2.1"/>
<circle cx="471.9" cy="170.9" r="2.1"/>
<circle cx="489.8" cy="169.0" r="2.1"/>
<circle cx="506.6" cy="172.2" r="2.1"/>
<circle cx="462.1" cy="176.6" r="2.1"/>
<circle cx="487.1" cy="174.5" r="2.1"/>
<circle cx="468.1" cy="169.3" r="2.1"/>
<circle cx="470.1" cy="174.1" r="2.1"/>
<circle cx="477.5" cy="171.4" r="2.1"/>
<circle cx="493.4" cy="175.5" r="2.1"/>
<circle cx="485.6" cy="170.6" r="2.1"/>
<circle cx="501.4" cy="165.6" r="2.1"/>
<circle cx="465.9" cy="172.5" r="2.1"/>
<circle cx="496.6" cy="176.8" r="2.1"/>
<circle cx="497.3" cy="167.4" r="2.1"/>
<circle cx="483.2" cy="172.1" r="2.1"/>
<circle cx="489.9" cy="177.3" r="2.1"/>
<circle cx="472.9" cy="170.5" r="2.1"/>
<circle cx="464.2" cy="168.8" r="2.1"/>
<circle cx="475.4" cy="182.7" r="2.1"/>
<circle cx="471.6" cy="176.5" r="2.1"/>
<circle cx="516.4" cy="178.7" r="2.1"/>
<circle cx="474.1" cy="167.6" r="2.1"/>
<circle cx="509.1" cy="181.6" r="2.1"/>
<circle cx="485.4" cy="164.3" r="2.1"/>
<circle cx="487.2" cy="170.1" r="2.1"/>
<circle cx="494.2" cy="176.7" r="2.1"/>
<circle cx="469.3" cy="179.0" r="2.1"/>
<circle cx="497.1" cy="168.3" r="2.1"/>
<circle cx="488.2" cy="169.4" r="2.1"/>
<circle cx="457.3" cy="172.9" r="2.1"/>
<circle cx="491.9" cy="163.1" r="2.1"/>
<circle cx="491.1" cy="176.1" r="2.1"/>
<circle cx="489.5" cy="175.6" r="2.1"/>
<circle cx="508.0" cy="171.0" r="2.1"/>
<circle cx="475.3" cy="175.1" r="2.1"/>
</g>
<line x1="450.52" y1="189.90" x2="516.42" y2="176.40" stroke="#3d5b9b" stroke-width="1.9" />
<line x1="447.72" y1="171.70" x2="516.42" y2="173.50" stroke="#6b8c30" stroke-width="1.9" />
<text transform="translate(448.17,140.56) scale(1,1.12)" font-size="7.0" fill="#3d5b9b" stroke="#3d5b9b"><tspan font-style="italic">R</tspan> = 0.58, <tspan font-style="italic">p</tspan> = 4.6e−07</text>
<text transform="translate(448.17,149.66) scale(1,1.12)" font-size="7.0" fill="#6b8c30" stroke="#6b8c30"><tspan font-style="italic">R</tspan> = −0.037, <tspan font-style="italic">p</tspan> = 0.77</text>
</g>
<rect x="444.07" y="129.35" width="75.30" height="71.45" fill="none" stroke="#1a1a1a" stroke-width="1.1" />
<rect x="444.52" y="116.50" width="74.45" height="12.85" fill="#fff" stroke="#1a1a1a" stroke-width="1.1" />
<text transform="translate(481.72,125.35) scale(1,1.12)" font-size="7.05" fill="#1a1a1a" stroke="#1a1a1a" text-anchor="middle" >cg08508763</text>
<line x1="447.12" y1="200.80" x2="447.12" y2="203.40" stroke="#222" stroke-width="1.0" />
<text transform="translate(447.12,210.13) scale(1,1.12)" font-size="7.05" fill="#4d4d4d" stroke="#4d4d4d" text-anchor="middle" >70</text>
<line x1="459.82" y1="200.80" x2="459.82" y2="203.40" stroke="#222" stroke-width="1.0" />
<text transform="translate(459.82,210.13) scale(1,1.12)" font-size="7.05" fill="#4d4d4d" stroke="#4d4d4d" text-anchor="middle" >80</text>
<line x1="472.12" y1="200.80" x2="472.12" y2="203.40" stroke="#222" stroke-width="1.0" />
<text transform="translate(472.12,210.13) scale(1,1.12)" font-size="7.05" fill="#4d4d4d" stroke="#4d4d4d" text-anchor="middle" >90</text>
<line x1="484.72" y1="200.80" x2="484.72" y2="203.40" stroke="#222" stroke-width="1.0" />
<text transform="translate(484.72,210.13) scale(1,1.12)" font-size="7.05" fill="#4d4d4d" stroke="#4d4d4d" text-anchor="middle" >100</text>
<line x1="497.32" y1="200.80" x2="497.32" y2="203.40" stroke="#222" stroke-width="1.0" />
<text transform="translate(497.32,210.13) scale(1,1.12)" font-size="7.05" fill="#4d4d4d" stroke="#4d4d4d" text-anchor="middle" >110</text>
<line x1="509.82" y1="200.80" x2="509.82" y2="203.40" stroke="#222" stroke-width="1.0" />
<text transform="translate(509.82,210.13) scale(1,1.12)" font-size="7.05" fill="#4d4d4d" stroke="#4d4d4d" text-anchor="middle" >120</text>
<g clip-path="url(#c13)">
<g fill="#3d5b9b" fill-opacity="0.28">
<circle cx="530.8" cy="188.4" r="2.1"/>
<circle cx="596.7" cy="172.8" r="2.1"/>
<circle cx="571.4" cy="178.9" r="2.1"/>
<circle cx="566.0" cy="185.0" r="2.1"/>
<circle cx="545.3" cy="179.2" r="2.1"/>
<circle cx="564.5" cy="178.5" r="2.1"/>
<circle cx="562.2" cy="175.5" r="2.1"/>
<circle cx="571.6" cy="181.5" r="2.1"/>
<circle cx="556.7" cy="177.2" r="2.1"/>
<circle cx="568.5" cy="179.3" r="2.1"/>
<circle cx="537.6" cy="183.8" r="2.1"/>
<circle cx="546.7" cy="181.6" r="2.1"/>
<circle cx="576.0" cy="184.0" r="2.1"/>
<circle cx="580.1" cy="174.1" r="2.1"/>
<circle cx="563.5" cy="185.0" r="2.1"/>
<circle cx="554.3" cy="183.9" r="2.1"/>
<circle cx="580.7" cy="181.1" r="2.1"/>
<circle cx="530.9" cy="183.6" r="2.1"/>
<circle cx="551.2" cy="185.1" r="2.1"/>
<circle cx="574.3" cy="179.5" r="2.1"/>
<circle cx="574.0" cy="172.7" r="2.1"/>
<circle cx="547.5" cy="182.5" r="2.1"/>
<circle cx="534.1" cy="183.2" r="2.1"/>
<circle cx="586.5" cy="173.1" r="2.1"/>
<circle cx="566.1" cy="183.9" r="2.1"/>
<circle cx="549.7" cy="177.1" r="2.1"/>
<circle cx="564.6" cy="169.2" r="2.1"/>
<circle cx="577.9" cy="166.2" r="2.1"/>
<circle cx="530.8" cy="182.2" r="2.1"/>
<circle cx="581.2" cy="171.1" r="2.1"/>
<circle cx="575.3" cy="175.6" r="2.1"/>
<circle cx="531.1" cy="187.3" r="2.1"/>
<circle cx="575.8" cy="184.2" r="2.1"/>
<circle cx="535.8" cy="185.0" r="2.1"/>
<circle cx="581.6" cy="176.6" r="2.1"/>
<circle cx="570.0" cy="172.9" r="2.1"/>
<circle cx="596.7" cy="174.1" r="2.1"/>
<circle cx="554.1" cy="186.6" r="2.1"/>
<circle cx="563.8" cy="184.6" r="2.1"/>
<circle cx="580.2" cy="164.7" r="2.1"/>
<circle cx="553.7" cy="184.3" r="2.1"/>
<circle cx="552.7" cy="188.0" r="2.1"/>
<circle cx="557.9" cy="183.2" r="2.1"/>
<circle cx="562.6" cy="170.6" r="2.1"/>
<circle cx="546.8" cy="179.7" r="2.1"/>
<circle cx="571.3" cy="179.3" r="2.1"/>
<circle cx="572.3" cy="178.2" r="2.1"/>
<circle cx="564.9" cy="173.6" r="2.1"/>
<circle cx="590.4" cy="168.0" r="2.1"/>
<circle cx="558.6" cy="183.7" r="2.1"/>
<circle cx="584.2" cy="167.0" r="2.1"/>
<circle cx="555.2" cy="186.8" r="2.1"/>
<circle cx="575.6" cy="175.6" r="2.1"/>
<circle cx="533.4" cy="185.5" r="2.1"/>
<circle cx="566.8" cy="170.5" r="2.1"/>
<circle cx="561.0" cy="175.4" r="2.1"/>
<circle cx="556.0" cy="182.9" r="2.1"/>
<circle cx="554.1" cy="172.4" r="2.1"/>
<circle cx="558.3" cy="189.3" r="2.1"/>
<circle cx="552.4" cy="173.1" r="2.1"/>
<circle cx="530.8" cy="178.4" r="2.1"/>
<circle cx="554.4" cy="180.0" r="2.1"/>
<circle cx="555.1" cy="182.0" r="2.1"/>
<circle cx="555.5" cy="183.2" r="2.1"/>
</g>
<g fill="#6b8c30" fill-opacity="0.28">
<circle cx="528.0" cy="168.8" r="2.1"/>
<circle cx="596.7" cy="167.4" r="2.1"/>
<circle cx="575.2" cy="167.9" r="2.1"/>
<circle cx="558.2" cy="166.8" r="2.1"/>
<circle cx="554.3" cy="156.9" r="2.1"/>
<circle cx="584.5" cy="173.6" r="2.1"/>
<circle cx="578.3" cy="170.3" r="2.1"/>
<circle cx="577.4" cy="169.8" r="2.1"/>
<circle cx="581.2" cy="165.8" r="2.1"/>
<circle cx="557.0" cy="171.0" r="2.1"/>
<circle cx="560.2" cy="169.6" r="2.1"/>
<circle cx="580.5" cy="168.6" r="2.1"/>
<circle cx="553.3" cy="175.4" r="2.1"/>
<circle cx="560.4" cy="161.0" r="2.1"/>
<circle cx="568.5" cy="170.6" r="2.1"/>
<circle cx="568.4" cy="164.0" r="2.1"/>
<circle cx="557.8" cy="168.1" r="2.1"/>
<circle cx="578.4" cy="176.5" r="2.1"/>
<circle cx="559.4" cy="164.2" r="2.1"/>
<circle cx="574.2" cy="168.7" r="2.1"/>
<circle cx="579.8" cy="166.0" r="2.1"/>
<circle cx="573.1" cy="173.9" r="2.1"/>
<circle cx="574.3" cy="164.3" r="2.1"/>
<circle cx="543.4" cy="161.8" r="2.1"/>
<circle cx="540.9" cy="172.8" r="2.1"/>
<circle cx="552.2" cy="168.1" r="2.1"/>
<circle cx="570.1" cy="167.7" r="2.1"/>
<circle cx="586.9" cy="174.1" r="2.1"/>
<circle cx="542.3" cy="165.8" r="2.1"/>
<circle cx="567.3" cy="167.5" r="2.1"/>
<circle cx="548.4" cy="170.8" r="2.1"/>
<circle cx="550.4" cy="172.0" r="2.1"/>
<circle cx="557.8" cy="167.1" r="2.1"/>
<circle cx="573.6" cy="174.3" r="2.1"/>
<circle cx="565.8" cy="180.6" r="2.1"/>
<circle cx="581.6" cy="166.9" r="2.1"/>
<circle cx="546.2" cy="179.4" r="2.1"/>
<circle cx="576.9" cy="158.5" r="2.1"/>
<circle cx="577.5" cy="176.1" r="2.1"/>
<circle cx="563.5" cy="167.8" r="2.1"/>
<circle cx="570.1" cy="170.0" r="2.1"/>
<circle cx="553.1" cy="168.2" r="2.1"/>
<circle cx="544.5" cy="167.0" r="2.1"/>
<circle cx="555.7" cy="163.4" r="2.1"/>
<circle cx="551.8" cy="167.9" r="2.1"/>
<circle cx="596.7" cy="174.9" r="2.1"/>
<circle cx="554.4" cy="175.5" r="2.1"/>
<circle cx="589.3" cy="166.9" r="2.1"/>
<circle cx="565.6" cy="166.8" r="2.1"/>
<circle cx="567.4" cy="165.9" r="2.1"/>
<circle cx="574.5" cy="163.2" r="2.1"/>
<circle cx="549.6" cy="179.0" r="2.1"/>
<circle cx="577.3" cy="172.4" r="2.1"/>
<circle cx="568.5" cy="169.9" r="2.1"/>
<circle cx="537.5" cy="167.9" r="2.1"/>
<circle cx="572.2" cy="164.1" r="2.1"/>
<circle cx="571.4" cy="175.8" r="2.1"/>
<circle cx="569.7" cy="173.2" r="2.1"/>
<circle cx="588.3" cy="163.9" r="2.1"/>
<circle cx="555.6" cy="174.7" r="2.1"/>
</g>
<line x1="530.78" y1="184.50" x2="596.68" y2="171.20" stroke="#3d5b9b" stroke-width="1.9" />
<line x1="527.98" y1="170.70" x2="596.68" y2="168.40" stroke="#6b8c30" stroke-width="1.9" />
<text transform="translate(528.43,140.56) scale(1,1.12)" font-size="7.0" fill="#3d5b9b" stroke="#3d5b9b"><tspan font-style="italic">R</tspan> = 0.53, <tspan font-style="italic">p</tspan> = 4.8e−06</text>
<text transform="translate(528.43,149.66) scale(1,1.12)" font-size="7.0" fill="#6b8c30" stroke="#6b8c30"><tspan font-style="italic">R</tspan> = 0.074, <tspan font-style="italic">p</tspan> = 0.57</text>
</g>
<rect x="524.33" y="129.35" width="75.30" height="71.45" fill="none" stroke="#1a1a1a" stroke-width="1.1" />
<rect x="524.78" y="116.50" width="74.45" height="12.85" fill="#fff" stroke="#1a1a1a" stroke-width="1.1" />
<text transform="translate(561.98,125.35) scale(1,1.12)" font-size="7.05" fill="#1a1a1a" stroke="#1a1a1a" text-anchor="middle" >cg08804892</text>
<line x1="527.38" y1="200.80" x2="527.38" y2="203.40" stroke="#222" stroke-width="1.0" />
<text transform="translate(527.38,210.13) scale(1,1.12)" font-size="7.05" fill="#4d4d4d" stroke="#4d4d4d" text-anchor="middle" >70</text>
<line x1="540.08" y1="200.80" x2="540.08" y2="203.40" stroke="#222" stroke-width="1.0" />
<text transform="translate(540.08,210.13) scale(1,1.12)" font-size="7.05" fill="#4d4d4d" stroke="#4d4d4d" text-anchor="middle" >80</text>
<line x1="552.38" y1="200.80" x2="552.38" y2="203.40" stroke="#222" stroke-width="1.0" />
<text transform="translate(552.38,210.13) scale(1,1.12)" font-size="7.05" fill="#4d4d4d" stroke="#4d4d4d" text-anchor="middle" >90</text>
<line x1="564.98" y1="200.80" x2="564.98" y2="203.40" stroke="#222" stroke-width="1.0" />
<text transform="translate(564.98,210.13) scale(1,1.12)" font-size="7.05" fill="#4d4d4d" stroke="#4d4d4d" text-anchor="middle" >100</text>
<line x1="577.58" y1="200.80" x2="577.58" y2="203.40" stroke="#222" stroke-width="1.0" />
<text transform="translate(577.58,210.13) scale(1,1.12)" font-size="7.05" fill="#4d4d4d" stroke="#4d4d4d" text-anchor="middle" >110</text>
<line x1="590.08" y1="200.80" x2="590.08" y2="203.40" stroke="#222" stroke-width="1.0" />
<text transform="translate(590.08,210.13) scale(1,1.12)" font-size="7.05" fill="#4d4d4d" stroke="#4d4d4d" text-anchor="middle" >120</text>
<g clip-path="url(#c14)">
<g fill="#3d5b9b" fill-opacity="0.28">
<circle cx="611.0" cy="165.0" r="2.1"/>
<circle cx="676.9" cy="161.6" r="2.1"/>
<circle cx="651.7" cy="158.2" r="2.1"/>
<circle cx="646.2" cy="162.0" r="2.1"/>
<circle cx="625.5" cy="170.3" r="2.1"/>
<circle cx="644.7" cy="166.5" r="2.1"/>
<circle cx="642.5" cy="169.8" r="2.1"/>
<circle cx="651.9" cy="158.8" r="2.1"/>
<circle cx="636.9" cy="173.6" r="2.1"/>
<circle cx="648.7" cy="170.3" r="2.1"/>
<circle cx="617.9" cy="169.2" r="2.1"/>
<circle cx="627.0" cy="169.9" r="2.1"/>
<circle cx="656.3" cy="158.3" r="2.1"/>
<circle cx="660.3" cy="160.7" r="2.1"/>
<circle cx="643.8" cy="157.9" r="2.1"/>
<circle cx="634.6" cy="166.6" r="2.1"/>
<circle cx="661.0" cy="162.3" r="2.1"/>
<circle cx="611.2" cy="177.2" r="2.1"/>
<circle cx="631.4" cy="171.5" r="2.1"/>
<circle cx="654.5" cy="166.6" r="2.1"/>
<circle cx="654.2" cy="160.8" r="2.1"/>
<circle cx="627.8" cy="166.3" r="2.1"/>
<circle cx="614.4" cy="168.2" r="2.1"/>
<circle cx="666.8" cy="161.4" r="2.1"/>
<circle cx="646.4" cy="154.4" r="2.1"/>
<circle cx="629.9" cy="170.9" r="2.1"/>
<circle cx="644.8" cy="156.5" r="2.1"/>
<circle cx="658.1" cy="159.3" r="2.1"/>
<circle cx="611.0" cy="170.6" r="2.1"/>
<circle cx="661.4" cy="158.7" r="2.1"/>
<circle cx="655.6" cy="170.6" r="2.1"/>
<circle cx="611.3" cy="170.0" r="2.1"/>
<circle cx="656.1" cy="170.1" r="2.1"/>
<circle cx="616.1" cy="175.4" r="2.1"/>
<circle cx="661.9" cy="158.7" r="2.1"/>
<circle cx="650.2" cy="165.3" r="2.1"/>
<circle cx="676.9" cy="164.9" r="2.1"/>
<circle cx="634.4" cy="164.5" r="2.1"/>
<circle cx="644.1" cy="164.9" r="2.1"/>
<circle cx="660.4" cy="158.6" r="2.1"/>
<circle cx="633.9" cy="166.6" r="2.1"/>
<circle cx="632.9" cy="164.7" r="2.1"/>
<circle cx="638.2" cy="165.9" r="2.1"/>
<circle cx="642.8" cy="169.7" r="2.1"/>
<circle cx="627.0" cy="174.5" r="2.1"/>
<circle cx="651.6" cy="163.7" r="2.1"/>
<circle cx="652.5" cy="163.9" r="2.1"/>
<circle cx="645.1" cy="168.5" r="2.1"/>
<circle cx="670.7" cy="158.1" r="2.1"/>
<circle cx="638.8" cy="160.1" r="2.1"/>
<circle cx="664.5" cy="166.2" r="2.1"/>
<circle cx="635.4" cy="161.4" r="2.1"/>
<circle cx="655.8" cy="166.9" r="2.1"/>
<circle cx="613.6" cy="165.2" r="2.1"/>
<circle cx="647.1" cy="173.0" r="2.1"/>
<circle cx="641.2" cy="159.7" r="2.1"/>
<circle cx="636.2" cy="170.1" r="2.1"/>
<circle cx="634.4" cy="173.7" r="2.1"/>
<circle cx="638.5" cy="160.7" r="2.1"/>
<circle cx="632.7" cy="173.9" r="2.1"/>
<circle cx="611.0" cy="166.4" r="2.1"/>
<circle cx="634.6" cy="157.4" r="2.1"/>
<circle cx="635.4" cy="169.6" r="2.1"/>
<circle cx="635.8" cy="169.5" r="2.1"/>
</g>
<g fill="#6b8c30" fill-opacity="0.28">
<circle cx="608.2" cy="151.5" r="2.1"/>
<circle cx="676.9" cy="143.9" r="2.1"/>
<circle cx="655.4" cy="155.0" r="2.1"/>
<circle cx="638.5" cy="152.7" r="2.1"/>
<circle cx="634.5" cy="152.1" r="2.1"/>
<circle cx="664.8" cy="154.3" r="2.1"/>
<circle cx="658.6" cy="146.5" r="2.1"/>
<circle cx="657.7" cy="152.5" r="2.1"/>
<circle cx="661.5" cy="164.6" r="2.1"/>
<circle cx="637.2" cy="161.9" r="2.1"/>
<circle cx="640.5" cy="152.6" r="2.1"/>
<circle cx="660.8" cy="152.0" r="2.1"/>
<circle cx="633.5" cy="156.0" r="2.1"/>
<circle cx="640.6" cy="159.7" r="2.1"/>
<circle cx="648.8" cy="158.5" r="2.1"/>
<circle cx="648.7" cy="149.0" r="2.1"/>
<circle cx="638.1" cy="155.0" r="2.1"/>
<circle cx="658.7" cy="156.1" r="2.1"/>
<circle cx="639.7" cy="161.5" r="2.1"/>
<circle cx="654.5" cy="161.2" r="2.1"/>
<circle cx="660.1" cy="158.1" r="2.1"/>
<circle cx="653.4" cy="161.2" r="2.1"/>
<circle cx="654.6" cy="153.2" r="2.1"/>
<circle cx="623.6" cy="161.1" r="2.1"/>
<circle cx="621.1" cy="151.1" r="2.1"/>
<circle cx="632.5" cy="155.9" r="2.1"/>
<circle cx="650.4" cy="159.5" r="2.1"/>
<circle cx="667.1" cy="151.4" r="2.1"/>
<circle cx="622.6" cy="149.8" r="2.1"/>
<circle cx="647.6" cy="146.0" r="2.1"/>
<circle cx="628.6" cy="154.5" r="2.1"/>
<circle cx="630.6" cy="153.5" r="2.1"/>
<circle cx="638.1" cy="152.6" r="2.1"/>
<circle cx="653.9" cy="157.6" r="2.1"/>
<circle cx="646.1" cy="144.1" r="2.1"/>
<circle cx="661.9" cy="155.5" r="2.1"/>
<circle cx="626.5" cy="154.0" r="2.1"/>
<circle cx="657.1" cy="154.0" r="2.1"/>
<circle cx="657.8" cy="159.3" r="2.1"/>
<circle cx="643.7" cy="163.3" r="2.1"/>
<circle cx="650.4" cy="152.7" r="2.1"/>
<circle cx="633.4" cy="149.3" r="2.1"/>
<circle cx="624.8" cy="150.4" r="2.1"/>
<circle cx="636.0" cy="154.6" r="2.1"/>
<circle cx="632.1" cy="156.8" r="2.1"/>
<circle cx="676.9" cy="152.2" r="2.1"/>
<circle cx="634.7" cy="159.0" r="2.1"/>
<circle cx="669.6" cy="151.0" r="2.1"/>
<circle cx="645.9" cy="158.8" r="2.1"/>
<circle cx="647.7" cy="156.9" r="2.1"/>
<circle cx="654.7" cy="157.5" r="2.1"/>
<circle cx="629.8" cy="164.5" r="2.1"/>
<circle cx="657.6" cy="154.1" r="2.1"/>
<circle cx="648.7" cy="154.0" r="2.1"/>
<circle cx="617.8" cy="155.4" r="2.1"/>
<circle cx="652.4" cy="159.4" r="2.1"/>
<circle cx="651.6" cy="148.3" r="2.1"/>
<circle cx="650.0" cy="156.3" r="2.1"/>
<circle cx="668.5" cy="152.3" r="2.1"/>
<circle cx="635.8" cy="157.3" r="2.1"/>
</g>
<line x1="611.04" y1="170.50" x2="676.94" y2="158.40" stroke="#3d5b9b" stroke-width="1.9" />
<line x1="608.24" y1="152.50" x2="676.94" y2="156.50" stroke="#6b8c30" stroke-width="1.9" />
<text transform="translate(608.69,140.56) scale(1,1.12)" font-size="7.0" fill="#3d5b9b" stroke="#3d5b9b"><tspan font-style="italic">R</tspan> = 0.51, <tspan font-style="italic">p</tspan> = 1.7e−05</text>
<text transform="translate(608.69,149.66) scale(1,1.12)" font-size="7.0" fill="#6b8c30" stroke="#6b8c30"><tspan font-style="italic">R</tspan> = −0.093, <tspan font-style="italic">p</tspan> = 0.47</text>
</g>
<rect x="604.59" y="129.35" width="75.30" height="71.45" fill="none" stroke="#1a1a1a" stroke-width="1.1" />
<rect x="605.04" y="116.50" width="74.45" height="12.85" fill="#fff" stroke="#1a1a1a" stroke-width="1.1" />
<text transform="translate(642.24,125.35) scale(1,1.12)" font-size="7.05" fill="#1a1a1a" stroke="#1a1a1a" text-anchor="middle" >cg23715029</text>
<line x1="607.64" y1="200.80" x2="607.64" y2="203.40" stroke="#222" stroke-width="1.0" />
<text transform="translate(607.64,210.13) scale(1,1.12)" font-size="7.05" fill="#4d4d4d" stroke="#4d4d4d" text-anchor="middle" >70</text>
<line x1="620.34" y1="200.80" x2="620.34" y2="203.40" stroke="#222" stroke-width="1.0" />
<text transform="translate(620.34,210.13) scale(1,1.12)" font-size="7.05" fill="#4d4d4d" stroke="#4d4d4d" text-anchor="middle" >80</text>
<line x1="632.64" y1="200.80" x2="632.64" y2="203.40" stroke="#222" stroke-width="1.0" />
<text transform="translate(632.64,210.13) scale(1,1.12)" font-size="7.05" fill="#4d4d4d" stroke="#4d4d4d" text-anchor="middle" >90</text>
<line x1="645.24" y1="200.80" x2="645.24" y2="203.40" stroke="#222" stroke-width="1.0" />
<text transform="translate(645.24,210.13) scale(1,1.12)" font-size="7.05" fill="#4d4d4d" stroke="#4d4d4d" text-anchor="middle" >100</text>
<line x1="657.84" y1="200.80" x2="657.84" y2="203.40" stroke="#222" stroke-width="1.0" />
<text transform="translate(657.84,210.13) scale(1,1.12)" font-size="7.05" fill="#4d4d4d" stroke="#4d4d4d" text-anchor="middle" >110</text>
<line x1="670.34" y1="200.80" x2="670.34" y2="203.40" stroke="#222" stroke-width="1.0" />
<text transform="translate(670.34,210.13) scale(1,1.12)" font-size="7.05" fill="#4d4d4d" stroke="#4d4d4d" text-anchor="middle" >120</text>
<line x1="280.90" y1="185.70" x2="283.60" y2="185.70" stroke="#222" stroke-width="1.0" />
<text transform="translate(280.00,188.13) scale(1,1.12)" font-size="7.05" fill="#4d4d4d" stroke="#4d4d4d" text-anchor="end" >0.2</text>
<line x1="280.90" y1="163.15" x2="283.60" y2="163.15" stroke="#222" stroke-width="1.0" />
<text transform="translate(280.00,165.58) scale(1,1.12)" font-size="7.05" fill="#4d4d4d" stroke="#4d4d4d" text-anchor="end" >0.4</text>
<line x1="280.90" y1="140.60" x2="283.60" y2="140.60" stroke="#222" stroke-width="1.0" />
<text transform="translate(280.00,143.03) scale(1,1.12)" font-size="7.05" fill="#4d4d4d" stroke="#4d4d4d" text-anchor="end" >0.6</text>
<text x="0" y="0" font-size="8.6" fill="#1a1a1a" stroke="#1a1a1a" text-anchor="middle" transform="translate(266.37,171.07) rotate(-90) scale(1,1.12)">β−value</text>
<text transform="translate(482.00,219.75) scale(1,1.12)" font-size="8.6" fill="#1a1a1a" stroke="#1a1a1a" text-anchor="middle" >PIQ</text>
<g clip-path="url(#c20)">
<g fill="#3d5b9b" fill-opacity="0.28">
<circle cx="287.2" cy="298.8" r="2.1"/>
<circle cx="349.1" cy="296.6" r="2.1"/>
<circle cx="316.6" cy="299.0" r="2.1"/>
<circle cx="320.7" cy="299.4" r="2.1"/>
<circle cx="287.2" cy="300.1" r="2.1"/>
<circle cx="329.1" cy="294.1" r="2.1"/>
<circle cx="326.1" cy="298.7" r="2.1"/>
<circle cx="320.5" cy="292.0" r="2.1"/>
<circle cx="312.5" cy="291.0" r="2.1"/>
<circle cx="307.8" cy="296.5" r="2.1"/>
<circle cx="315.6" cy="290.3" r="2.1"/>
<circle cx="335.3" cy="293.2" r="2.1"/>
<circle cx="316.7" cy="293.6" r="2.1"/>
<circle cx="337.2" cy="292.8" r="2.1"/>
<circle cx="287.2" cy="299.7" r="2.1"/>
<circle cx="311.6" cy="293.8" r="2.1"/>
<circle cx="322.0" cy="294.8" r="2.1"/>
<circle cx="318.0" cy="288.7" r="2.1"/>
<circle cx="294.7" cy="300.0" r="2.1"/>
<circle cx="308.7" cy="293.6" r="2.1"/>
<circle cx="335.8" cy="297.8" r="2.1"/>
<circle cx="299.9" cy="284.6" r="2.1"/>
<circle cx="304.1" cy="294.4" r="2.1"/>
<circle cx="302.6" cy="299.8" r="2.1"/>
<circle cx="310.3" cy="285.7" r="2.1"/>
<circle cx="327.2" cy="294.7" r="2.1"/>
<circle cx="326.6" cy="297.0" r="2.1"/>
<circle cx="289.4" cy="300.2" r="2.1"/>
<circle cx="338.8" cy="288.0" r="2.1"/>
<circle cx="309.8" cy="299.1" r="2.1"/>
<circle cx="309.8" cy="298.7" r="2.1"/>
<circle cx="341.7" cy="290.4" r="2.1"/>
<circle cx="317.0" cy="301.1" r="2.1"/>
<circle cx="300.6" cy="298.5" r="2.1"/>
<circle cx="309.1" cy="298.1" r="2.1"/>
<circle cx="307.9" cy="295.9" r="2.1"/>
<circle cx="303.9" cy="301.2" r="2.1"/>
<circle cx="313.4" cy="298.1" r="2.1"/>
<circle cx="330.6" cy="301.9" r="2.1"/>
<circle cx="323.1" cy="299.1" r="2.1"/>
<circle cx="298.6" cy="295.8" r="2.1"/>
<circle cx="349.1" cy="293.5" r="2.1"/>
<circle cx="304.1" cy="303.1" r="2.1"/>
<circle cx="319.8" cy="295.3" r="2.1"/>
<circle cx="318.6" cy="299.1" r="2.1"/>
<circle cx="328.9" cy="298.9" r="2.1"/>
<circle cx="313.5" cy="296.7" r="2.1"/>
<circle cx="324.6" cy="285.0" r="2.1"/>
<circle cx="347.9" cy="295.4" r="2.1"/>
<circle cx="319.5" cy="298.2" r="2.1"/>
<circle cx="302.8" cy="299.2" r="2.1"/>
<circle cx="322.8" cy="293.0" r="2.1"/>
<circle cx="306.8" cy="304.3" r="2.1"/>
<circle cx="312.9" cy="297.0" r="2.1"/>
<circle cx="320.8" cy="293.9" r="2.1"/>
<circle cx="322.9" cy="293.2" r="2.1"/>
<circle cx="314.1" cy="299.4" r="2.1"/>
<circle cx="330.2" cy="290.7" r="2.1"/>
<circle cx="315.4" cy="292.5" r="2.1"/>
<circle cx="299.7" cy="308.9" r="2.1"/>
<circle cx="330.6" cy="302.8" r="2.1"/>
<circle cx="313.0" cy="303.0" r="2.1"/>
<circle cx="335.3" cy="302.6" r="2.1"/>
<circle cx="308.9" cy="301.0" r="2.1"/>
</g>
<g fill="#6b8c30" fill-opacity="0.28">
<circle cx="298.2" cy="277.2" r="2.1"/>
<circle cx="356.0" cy="297.1" r="2.1"/>
<circle cx="298.2" cy="291.9" r="2.1"/>
<circle cx="307.4" cy="289.0" r="2.1"/>
<circle cx="312.3" cy="277.2" r="2.1"/>
<circle cx="345.7" cy="296.4" r="2.1"/>
<circle cx="302.2" cy="292.9" r="2.1"/>
<circle cx="339.2" cy="287.1" r="2.1"/>
<circle cx="341.5" cy="290.4" r="2.1"/>
<circle cx="333.6" cy="292.9" r="2.1"/>
<circle cx="336.0" cy="288.8" r="2.1"/>
<circle cx="320.6" cy="293.3" r="2.1"/>
<circle cx="327.0" cy="288.8" r="2.1"/>
<circle cx="330.1" cy="292.2" r="2.1"/>
<circle cx="332.7" cy="289.3" r="2.1"/>
<circle cx="336.4" cy="281.8" r="2.1"/>
<circle cx="324.4" cy="283.1" r="2.1"/>
<circle cx="317.8" cy="303.5" r="2.1"/>
<circle cx="319.7" cy="289.1" r="2.1"/>
<circle cx="332.5" cy="295.5" r="2.1"/>
<circle cx="305.2" cy="292.1" r="2.1"/>
<circle cx="310.5" cy="295.5" r="2.1"/>
<circle cx="321.7" cy="290.7" r="2.1"/>
<circle cx="319.8" cy="284.7" r="2.1"/>
<circle cx="323.5" cy="288.2" r="2.1"/>
<circle cx="298.2" cy="276.0" r="2.1"/>
<circle cx="322.6" cy="287.0" r="2.1"/>
<circle cx="323.8" cy="292.7" r="2.1"/>
<circle cx="337.4" cy="278.5" r="2.1"/>
<circle cx="300.9" cy="286.9" r="2.1"/>
<circle cx="323.1" cy="292.2" r="2.1"/>
<circle cx="333.4" cy="295.7" r="2.1"/>
<circle cx="333.6" cy="284.3" r="2.1"/>
<circle cx="342.9" cy="286.6" r="2.1"/>
<circle cx="341.0" cy="280.2" r="2.1"/>
<circle cx="313.2" cy="282.0" r="2.1"/>
<circle cx="335.5" cy="291.9" r="2.1"/>
<circle cx="322.7" cy="298.4" r="2.1"/>
<circle cx="316.5" cy="281.6" r="2.1"/>
<circle cx="347.4" cy="297.3" r="2.1"/>
<circle cx="318.8" cy="289.8" r="2.1"/>
<circle cx="315.8" cy="284.8" r="2.1"/>
<circle cx="321.7" cy="299.0" r="2.1"/>
<circle cx="315.8" cy="274.6" r="2.1"/>
<circle cx="340.4" cy="289.3" r="2.1"/>
<circle cx="332.1" cy="290.0" r="2.1"/>
<circle cx="345.6" cy="300.9" r="2.1"/>
<circle cx="332.5" cy="298.0" r="2.1"/>
<circle cx="319.0" cy="299.1" r="2.1"/>
<circle cx="341.0" cy="290.4" r="2.1"/>
<circle cx="318.4" cy="292.5" r="2.1"/>
<circle cx="321.0" cy="294.7" r="2.1"/>
<circle cx="324.9" cy="290.8" r="2.1"/>
<circle cx="327.6" cy="290.3" r="2.1"/>
<circle cx="342.9" cy="289.0" r="2.1"/>
<circle cx="319.1" cy="285.6" r="2.1"/>
<circle cx="331.8" cy="282.6" r="2.1"/>
<circle cx="326.7" cy="298.2" r="2.1"/>
<circle cx="310.4" cy="284.6" r="2.1"/>
<circle cx="312.6" cy="276.5" r="2.1"/>
</g>
<line x1="287.20" y1="299.90" x2="349.10" y2="294.60" stroke="#3d5b9b" stroke-width="1.9" />
<line x1="298.20" y1="285.70" x2="356.00" y2="291.10" stroke="#6b8c30" stroke-width="1.9" />
<text transform="translate(287.65,254.96) scale(1,1.12)" font-size="7.0" fill="#3d5b9b" stroke="#3d5b9b"><tspan font-style="italic">R</tspan> = 0.19, <tspan font-style="italic">p</tspan> = 0.13</text>
<text transform="translate(287.65,264.06) scale(1,1.12)" font-size="7.0" fill="#6b8c30" stroke="#6b8c30"><tspan font-style="italic">R</tspan> = −0.18, <tspan font-style="italic">p</tspan> = 0.15</text>
</g>
<rect x="283.55" y="243.75" width="75.30" height="71.45" fill="none" stroke="#1a1a1a" stroke-width="1.1" />
<rect x="284.00" y="230.90" width="74.45" height="12.85" fill="#fff" stroke="#1a1a1a" stroke-width="1.1" />
<text transform="translate(321.20,239.75) scale(1,1.12)" font-size="7.05" fill="#1a1a1a" stroke="#1a1a1a" text-anchor="middle" >cg01855070</text>
<line x1="295.80" y1="315.20" x2="295.80" y2="317.80" stroke="#222" stroke-width="1.0" />
<text transform="translate(295.80,324.53) scale(1,1.12)" font-size="7.05" fill="#4d4d4d" stroke="#4d4d4d" text-anchor="middle" >60</text>
<line x1="315.10" y1="315.20" x2="315.10" y2="317.80" stroke="#222" stroke-width="1.0" />
<text transform="translate(315.10,324.53) scale(1,1.12)" font-size="7.05" fill="#4d4d4d" stroke="#4d4d4d" text-anchor="middle" >80</text>
<line x1="334.30" y1="315.20" x2="334.30" y2="317.80" stroke="#222" stroke-width="1.0" />
<text transform="translate(334.30,324.53) scale(1,1.12)" font-size="7.05" fill="#4d4d4d" stroke="#4d4d4d" text-anchor="middle" >100</text>
<line x1="353.60" y1="315.20" x2="353.60" y2="317.80" stroke="#222" stroke-width="1.0" />
<text transform="translate(353.60,324.53) scale(1,1.12)" font-size="7.05" fill="#4d4d4d" stroke="#4d4d4d" text-anchor="middle" >120</text>
<g clip-path="url(#c21)">
<g fill="#3d5b9b" fill-opacity="0.28">
<circle cx="367.5" cy="284.9" r="2.1"/>
<circle cx="429.4" cy="274.5" r="2.1"/>
<circle cx="396.9" cy="280.3" r="2.1"/>
<circle cx="401.0" cy="288.0" r="2.1"/>
<circle cx="367.5" cy="283.1" r="2.1"/>
<circle cx="409.3" cy="276.2" r="2.1"/>
<circle cx="406.4" cy="274.2" r="2.1"/>
<circle cx="400.7" cy="278.7" r="2.1"/>
<circle cx="392.8" cy="277.7" r="2.1"/>
<circle cx="388.1" cy="281.7" r="2.1"/>
<circle cx="395.9" cy="295.3" r="2.1"/>
<circle cx="415.6" cy="278.7" r="2.1"/>
<circle cx="397.0" cy="275.0" r="2.1"/>
<circle cx="417.5" cy="286.2" r="2.1"/>
<circle cx="367.5" cy="288.0" r="2.1"/>
<circle cx="391.9" cy="284.2" r="2.1"/>
<circle cx="402.3" cy="282.2" r="2.1"/>
<circle cx="398.2" cy="283.3" r="2.1"/>
<circle cx="374.9" cy="285.9" r="2.1"/>
<circle cx="389.0" cy="287.6" r="2.1"/>
<circle cx="416.1" cy="281.7" r="2.1"/>
<circle cx="380.1" cy="288.6" r="2.1"/>
<circle cx="384.4" cy="278.6" r="2.1"/>
<circle cx="382.9" cy="281.4" r="2.1"/>
<circle cx="390.6" cy="276.6" r="2.1"/>
<circle cx="407.5" cy="282.7" r="2.1"/>
<circle cx="406.8" cy="282.1" r="2.1"/>
<circle cx="369.7" cy="280.9" r="2.1"/>
<circle cx="419.1" cy="279.1" r="2.1"/>
<circle cx="390.0" cy="293.6" r="2.1"/>
<circle cx="390.1" cy="286.6" r="2.1"/>
<circle cx="422.0" cy="270.1" r="2.1"/>
<circle cx="397.3" cy="278.8" r="2.1"/>
<circle cx="380.9" cy="284.9" r="2.1"/>
<circle cx="389.4" cy="280.3" r="2.1"/>
<circle cx="388.1" cy="282.6" r="2.1"/>
<circle cx="384.1" cy="287.2" r="2.1"/>
<circle cx="393.7" cy="281.5" r="2.1"/>
<circle cx="410.8" cy="271.8" r="2.1"/>
<circle cx="403.4" cy="282.1" r="2.1"/>
<circle cx="378.9" cy="281.5" r="2.1"/>
<circle cx="429.4" cy="275.3" r="2.1"/>
<circle cx="384.4" cy="278.3" r="2.1"/>
<circle cx="400.0" cy="271.9" r="2.1"/>
<circle cx="398.9" cy="272.8" r="2.1"/>
<circle cx="409.2" cy="275.8" r="2.1"/>
<circle cx="393.8" cy="274.4" r="2.1"/>
<circle cx="404.9" cy="264.5" r="2.1"/>
<circle cx="428.2" cy="280.7" r="2.1"/>
<circle cx="399.8" cy="273.1" r="2.1"/>
<circle cx="383.1" cy="277.7" r="2.1"/>
<circle cx="403.1" cy="281.2" r="2.1"/>
<circle cx="387.1" cy="268.6" r="2.1"/>
<circle cx="393.2" cy="286.7" r="2.1"/>
<circle cx="401.1" cy="274.9" r="2.1"/>
<circle cx="403.2" cy="281.8" r="2.1"/>
<circle cx="394.4" cy="277.3" r="2.1"/>
<circle cx="410.4" cy="279.0" r="2.1"/>
<circle cx="395.7" cy="280.1" r="2.1"/>
<circle cx="380.0" cy="281.8" r="2.1"/>
<circle cx="410.8" cy="268.1" r="2.1"/>
<circle cx="393.3" cy="272.4" r="2.1"/>
<circle cx="415.6" cy="276.5" r="2.1"/>
<circle cx="389.1" cy="287.6" r="2.1"/>
</g>
<g fill="#6b8c30" fill-opacity="0.28">
<circle cx="378.5" cy="263.7" r="2.1"/>
<circle cx="436.3" cy="273.9" r="2.1"/>
<circle cx="378.5" cy="267.3" r="2.1"/>
<circle cx="387.6" cy="269.7" r="2.1"/>
<circle cx="392.6" cy="272.7" r="2.1"/>
<circle cx="425.9" cy="262.8" r="2.1"/>
<circle cx="382.4" cy="268.2" r="2.1"/>
<circle cx="419.4" cy="268.9" r="2.1"/>
<circle cx="421.8" cy="268.4" r="2.1"/>
<circle cx="413.9" cy="265.1" r="2.1"/>
<circle cx="416.3" cy="265.6" r="2.1"/>
<circle cx="400.8" cy="263.1" r="2.1"/>
<circle cx="407.2" cy="263.3" r="2.1"/>
<circle cx="410.3" cy="281.8" r="2.1"/>
<circle cx="412.9" cy="277.9" r="2.1"/>
<circle cx="416.7" cy="269.7" r="2.1"/>
<circle cx="404.6" cy="272.4" r="2.1"/>
<circle cx="398.1" cy="263.2" r="2.1"/>
<circle cx="399.9" cy="254.2" r="2.1"/>
<circle cx="412.8" cy="260.1" r="2.1"/>
<circle cx="385.4" cy="267.8" r="2.1"/>
<circle cx="390.8" cy="274.8" r="2.1"/>
<circle cx="401.9" cy="268.2" r="2.1"/>
<circle cx="400.1" cy="263.2" r="2.1"/>
<circle cx="403.8" cy="267.3" r="2.1"/>
<circle cx="378.5" cy="261.4" r="2.1"/>
<circle cx="402.9" cy="261.4" r="2.1"/>
<circle cx="404.0" cy="267.4" r="2.1"/>
<circle cx="417.6" cy="267.7" r="2.1"/>
<circle cx="381.2" cy="262.6" r="2.1"/>
<circle cx="403.3" cy="264.0" r="2.1"/>
<circle cx="413.6" cy="264.6" r="2.1"/>
<circle cx="413.8" cy="270.6" r="2.1"/>
<circle cx="423.2" cy="277.2" r="2.1"/>
<circle cx="421.3" cy="268.9" r="2.1"/>
<circle cx="393.5" cy="279.1" r="2.1"/>
<circle cx="415.8" cy="261.3" r="2.1"/>
<circle cx="402.9" cy="269.9" r="2.1"/>
<circle cx="396.7" cy="262.1" r="2.1"/>
<circle cx="427.6" cy="269.7" r="2.1"/>
<circle cx="399.0" cy="268.7" r="2.1"/>
<circle cx="396.1" cy="270.8" r="2.1"/>
<circle cx="402.0" cy="274.1" r="2.1"/>
<circle cx="396.1" cy="265.1" r="2.1"/>
<circle cx="420.7" cy="263.6" r="2.1"/>
<circle cx="412.4" cy="268.3" r="2.1"/>
<circle cx="425.9" cy="271.8" r="2.1"/>
<circle cx="412.8" cy="265.8" r="2.1"/>
<circle cx="399.2" cy="272.7" r="2.1"/>
<circle cx="421.2" cy="278.5" r="2.1"/>
<circle cx="398.7" cy="260.9" r="2.1"/>
<circle cx="401.2" cy="270.2" r="2.1"/>
<circle cx="405.1" cy="273.8" r="2.1"/>
<circle cx="407.9" cy="259.2" r="2.1"/>
<circle cx="423.2" cy="271.2" r="2.1"/>
<circle cx="399.3" cy="267.1" r="2.1"/>
<circle cx="412.0" cy="262.0" r="2.1"/>
<circle cx="407.0" cy="275.5" r="2.1"/>
<circle cx="390.7" cy="268.6" r="2.1"/>
<circle cx="392.9" cy="265.2" r="2.1"/>
</g>
<line x1="367.46" y1="283.60" x2="429.36" y2="274.70" stroke="#3d5b9b" stroke-width="1.9" />
<line x1="378.46" y1="266.50" x2="436.26" y2="271.20" stroke="#6b8c30" stroke-width="1.9" />
<text transform="translate(367.91,254.96) scale(1,1.12)" font-size="7.0" fill="#3d5b9b" stroke="#3d5b9b"><tspan font-style="italic">R</tspan> = 0.3, <tspan font-style="italic">p</tspan> = 0.017</text>
<text transform="translate(367.91,264.06) scale(1,1.12)" font-size="7.0" fill="#6b8c30" stroke="#6b8c30"><tspan font-style="italic">R</tspan> = −0.13, <tspan font-style="italic">p</tspan> = 0.33</text>
</g>
<rect x="363.81" y="243.75" width="75.30" height="71.45" fill="none" stroke="#1a1a1a" stroke-width="1.1" />
<rect x="364.26" y="230.90" width="74.45" height="12.85" fill="#fff" stroke="#1a1a1a" stroke-width="1.1" />
<text transform="translate(401.46,239.75) scale(1,1.12)" font-size="7.05" fill="#1a1a1a" stroke="#1a1a1a" text-anchor="middle" >cg03168947</text>
<line x1="376.06" y1="315.20" x2="376.06" y2="317.80" stroke="#222" stroke-width="1.0" />
<text transform="translate(376.06,324.53) scale(1,1.12)" font-size="7.05" fill="#4d4d4d" stroke="#4d4d4d" text-anchor="middle" >60</text>
<line x1="395.36" y1="315.20" x2="395.36" y2="317.80" stroke="#222" stroke-width="1.0" />
<text transform="translate(395.36,324.53) scale(1,1.12)" font-size="7.05" fill="#4d4d4d" stroke="#4d4d4d" text-anchor="middle" >80</text>
<line x1="414.56" y1="315.20" x2="414.56" y2="317.80" stroke="#222" stroke-width="1.0" />
<text transform="translate(414.56,324.53) scale(1,1.12)" font-size="7.05" fill="#4d4d4d" stroke="#4d4d4d" text-anchor="middle" >100</text>
<line x1="433.86" y1="315.20" x2="433.86" y2="317.80" stroke="#222" stroke-width="1.0" />
<text transform="translate(433.86,324.53) scale(1,1.12)" font-size="7.05" fill="#4d4d4d" stroke="#4d4d4d" text-anchor="middle" >120</text>
<g clip-path="url(#c22)">
<g fill="#3d5b9b" fill-opacity="0.28">
<circle cx="447.7" cy="306.8" r="2.1"/>
<circle cx="509.6" cy="295.5" r="2.1"/>
<circle cx="477.2" cy="302.6" r="2.1"/>
<circle cx="481.3" cy="300.8" r="2.1"/>
<circle cx="447.7" cy="306.7" r="2.1"/>
<circle cx="489.6" cy="290.3" r="2.1"/>
<circle cx="486.6" cy="294.7" r="2.1"/>
<circle cx="481.0" cy="298.6" r="2.1"/>
<circle cx="473.1" cy="285.5" r="2.1"/>
<circle cx="468.3" cy="311.3" r="2.1"/>
<circle cx="476.1" cy="297.0" r="2.1"/>
<circle cx="495.8" cy="289.6" r="2.1"/>
<circle cx="477.2" cy="289.5" r="2.1"/>
<circle cx="497.7" cy="295.8" r="2.1"/>
<circle cx="447.7" cy="304.8" r="2.1"/>
<circle cx="472.2" cy="296.7" r="2.1"/>
<circle cx="482.5" cy="295.5" r="2.1"/>
<circle cx="478.5" cy="293.9" r="2.1"/>
<circle cx="455.2" cy="299.3" r="2.1"/>
<circle cx="469.3" cy="299.8" r="2.1"/>
<circle cx="496.4" cy="291.6" r="2.1"/>
<circle cx="460.4" cy="305.5" r="2.1"/>
<circle cx="464.7" cy="300.5" r="2.1"/>
<circle cx="463.1" cy="302.2" r="2.1"/>
<circle cx="470.9" cy="302.0" r="2.1"/>
<circle cx="487.8" cy="303.0" r="2.1"/>
<circle cx="487.1" cy="299.8" r="2.1"/>
<circle cx="449.9" cy="305.3" r="2.1"/>
<circle cx="499.3" cy="293.4" r="2.1"/>
<circle cx="470.3" cy="296.0" r="2.1"/>
<circle cx="470.3" cy="298.3" r="2.1"/>
<circle cx="502.3" cy="297.1" r="2.1"/>
<circle cx="477.5" cy="299.8" r="2.1"/>
<circle cx="461.1" cy="299.9" r="2.1"/>
<circle cx="469.6" cy="293.5" r="2.1"/>
<circle cx="468.4" cy="292.7" r="2.1"/>
<circle cx="464.4" cy="302.9" r="2.1"/>
<circle cx="474.0" cy="304.5" r="2.1"/>
<circle cx="491.1" cy="297.8" r="2.1"/>
<circle cx="483.6" cy="290.4" r="2.1"/>
<circle cx="459.1" cy="301.2" r="2.1"/>
<circle cx="509.6" cy="293.3" r="2.1"/>
<circle cx="464.7" cy="296.6" r="2.1"/>
<circle cx="480.3" cy="299.8" r="2.1"/>
<circle cx="479.1" cy="297.3" r="2.1"/>
<circle cx="489.4" cy="292.0" r="2.1"/>
<circle cx="474.0" cy="293.0" r="2.1"/>
<circle cx="485.1" cy="301.2" r="2.1"/>
<circle cx="508.5" cy="294.2" r="2.1"/>
<circle cx="480.0" cy="293.6" r="2.1"/>
<circle cx="463.4" cy="296.3" r="2.1"/>
<circle cx="483.3" cy="302.0" r="2.1"/>
<circle cx="467.3" cy="303.7" r="2.1"/>
<circle cx="473.4" cy="297.9" r="2.1"/>
<circle cx="481.3" cy="305.9" r="2.1"/>
<circle cx="483.4" cy="296.0" r="2.1"/>
<circle cx="474.6" cy="293.9" r="2.1"/>
<circle cx="490.7" cy="301.5" r="2.1"/>
<circle cx="475.9" cy="298.0" r="2.1"/>
<circle cx="460.2" cy="303.8" r="2.1"/>
<circle cx="491.1" cy="296.1" r="2.1"/>
<circle cx="473.5" cy="294.4" r="2.1"/>
<circle cx="495.8" cy="288.9" r="2.1"/>
<circle cx="469.4" cy="299.3" r="2.1"/>
</g>
<g fill="#6b8c30" fill-opacity="0.28">
<circle cx="458.7" cy="292.3" r="2.1"/>
<circle cx="516.5" cy="283.6" r="2.1"/>
<circle cx="458.7" cy="292.1" r="2.1"/>
<circle cx="467.9" cy="286.9" r="2.1"/>
<circle cx="472.8" cy="280.4" r="2.1"/>
<circle cx="506.2" cy="289.4" r="2.1"/>
<circle cx="462.7" cy="288.3" r="2.1"/>
<circle cx="499.7" cy="283.1" r="2.1"/>
<circle cx="502.0" cy="277.0" r="2.1"/>
<circle cx="494.2" cy="289.2" r="2.1"/>
<circle cx="496.5" cy="281.9" r="2.1"/>
<circle cx="481.1" cy="288.8" r="2.1"/>
<circle cx="487.5" cy="277.3" r="2.1"/>
<circle cx="490.6" cy="286.4" r="2.1"/>
<circle cx="493.2" cy="283.2" r="2.1"/>
<circle cx="497.0" cy="280.0" r="2.1"/>
<circle cx="484.9" cy="285.6" r="2.1"/>
<circle cx="478.4" cy="287.3" r="2.1"/>
<circle cx="480.2" cy="283.7" r="2.1"/>
<circle cx="493.0" cy="281.3" r="2.1"/>
<circle cx="465.7" cy="286.7" r="2.1"/>
<circle cx="471.1" cy="277.1" r="2.1"/>
<circle cx="482.2" cy="289.3" r="2.1"/>
<circle cx="480.3" cy="289.0" r="2.1"/>
<circle cx="484.0" cy="295.2" r="2.1"/>
<circle cx="458.7" cy="289.7" r="2.1"/>
<circle cx="483.1" cy="288.5" r="2.1"/>
<circle cx="484.3" cy="288.1" r="2.1"/>
<circle cx="497.9" cy="287.7" r="2.1"/>
<circle cx="461.5" cy="278.7" r="2.1"/>
<circle cx="483.6" cy="294.1" r="2.1"/>
<circle cx="493.9" cy="290.0" r="2.1"/>
<circle cx="494.1" cy="285.9" r="2.1"/>
<circle cx="503.4" cy="282.1" r="2.1"/>
<circle cx="501.6" cy="295.3" r="2.1"/>
<circle cx="473.8" cy="288.8" r="2.1"/>
<circle cx="496.0" cy="281.5" r="2.1"/>
<circle cx="483.2" cy="290.1" r="2.1"/>
<circle cx="477.0" cy="295.9" r="2.1"/>
<circle cx="507.9" cy="288.1" r="2.1"/>
<circle cx="479.3" cy="288.5" r="2.1"/>
<circle cx="476.3" cy="284.2" r="2.1"/>
<circle cx="482.2" cy="283.4" r="2.1"/>
<circle cx="476.3" cy="291.7" r="2.1"/>
<circle cx="500.9" cy="303.3" r="2.1"/>
<circle cx="492.6" cy="287.8" r="2.1"/>
<circle cx="506.1" cy="287.4" r="2.1"/>
<circle cx="493.1" cy="291.3" r="2.1"/>
<circle cx="479.5" cy="284.9" r="2.1"/>
<circle cx="501.5" cy="291.5" r="2.1"/>
<circle cx="479.0" cy="290.6" r="2.1"/>
<circle cx="481.5" cy="281.4" r="2.1"/>
<circle cx="485.4" cy="281.4" r="2.1"/>
<circle cx="488.1" cy="286.6" r="2.1"/>
<circle cx="503.4" cy="292.1" r="2.1"/>
<circle cx="479.6" cy="287.9" r="2.1"/>
<circle cx="492.3" cy="293.5" r="2.1"/>
<circle cx="487.3" cy="280.0" r="2.1"/>
<circle cx="471.0" cy="288.4" r="2.1"/>
<circle cx="473.1" cy="282.9" r="2.1"/>
</g>
<line x1="447.72" y1="304.60" x2="509.62" y2="292.20" stroke="#3d5b9b" stroke-width="1.9" />
<line x1="458.72" y1="285.20" x2="516.52" y2="288.70" stroke="#6b8c30" stroke-width="1.9" />
<text transform="translate(448.17,254.96) scale(1,1.12)" font-size="7.0" fill="#3d5b9b" stroke="#3d5b9b"><tspan font-style="italic">R</tspan> = 0.4, <tspan font-style="italic">p</tspan> = 0.00082</text>
<text transform="translate(448.17,264.06) scale(1,1.12)" font-size="7.0" fill="#6b8c30" stroke="#6b8c30"><tspan font-style="italic">R</tspan> = −0.082, <tspan font-style="italic">p</tspan> = 0.52</text>
</g>
<rect x="444.07" y="243.75" width="75.30" height="71.45" fill="none" stroke="#1a1a1a" stroke-width="1.1" />
<rect x="444.52" y="230.90" width="74.45" height="12.85" fill="#fff" stroke="#1a1a1a" stroke-width="1.1" />
<text transform="translate(481.72,239.75) scale(1,1.12)" font-size="7.05" fill="#1a1a1a" stroke="#1a1a1a" text-anchor="middle" >cg08508763</text>
<line x1="456.32" y1="315.20" x2="456.32" y2="317.80" stroke="#222" stroke-width="1.0" />
<text transform="translate(456.32,324.53) scale(1,1.12)" font-size="7.05" fill="#4d4d4d" stroke="#4d4d4d" text-anchor="middle" >60</text>
<line x1="475.62" y1="315.20" x2="475.62" y2="317.80" stroke="#222" stroke-width="1.0" />
<text transform="translate(475.62,324.53) scale(1,1.12)" font-size="7.05" fill="#4d4d4d" stroke="#4d4d4d" text-anchor="middle" >80</text>
<line x1="494.82" y1="315.20" x2="494.82" y2="317.80" stroke="#222" stroke-width="1.0" />
<text transform="translate(494.82,324.53) scale(1,1.12)" font-size="7.05" fill="#4d4d4d" stroke="#4d4d4d" text-anchor="middle" >100</text>
<line x1="514.12" y1="315.20" x2="514.12" y2="317.80" stroke="#222" stroke-width="1.0" />
<text transform="translate(514.12,324.53) scale(1,1.12)" font-size="7.05" fill="#4d4d4d" stroke="#4d4d4d" text-anchor="middle" >120</text>
<g clip-path="url(#c23)">
<g fill="#3d5b9b" fill-opacity="0.28">
<circle cx="528.0" cy="297.9" r="2.1"/>
<circle cx="589.9" cy="290.3" r="2.1"/>
<circle cx="557.4" cy="288.4" r="2.1"/>
<circle cx="561.5" cy="291.5" r="2.1"/>
<circle cx="528.0" cy="291.5" r="2.1"/>
<circle cx="569.8" cy="292.9" r="2.1"/>
<circle cx="566.9" cy="287.6" r="2.1"/>
<circle cx="561.3" cy="290.2" r="2.1"/>
<circle cx="553.3" cy="294.9" r="2.1"/>
<circle cx="548.6" cy="291.2" r="2.1"/>
<circle cx="556.4" cy="299.2" r="2.1"/>
<circle cx="576.1" cy="287.4" r="2.1"/>
<circle cx="557.5" cy="297.5" r="2.1"/>
<circle cx="578.0" cy="291.8" r="2.1"/>
<circle cx="528.0" cy="292.2" r="2.1"/>
<circle cx="552.4" cy="292.9" r="2.1"/>
<circle cx="562.8" cy="288.3" r="2.1"/>
<circle cx="558.7" cy="291.3" r="2.1"/>
<circle cx="535.4" cy="295.0" r="2.1"/>
<circle cx="549.5" cy="303.5" r="2.1"/>
<circle cx="576.6" cy="288.5" r="2.1"/>
<circle cx="540.7" cy="303.5" r="2.1"/>
<circle cx="544.9" cy="297.3" r="2.1"/>
<circle cx="543.4" cy="288.6" r="2.1"/>
<circle cx="551.1" cy="282.5" r="2.1"/>
<circle cx="568.0" cy="295.2" r="2.1"/>
<circle cx="567.3" cy="281.8" r="2.1"/>
<circle cx="530.2" cy="300.7" r="2.1"/>
<circle cx="579.6" cy="295.3" r="2.1"/>
<circle cx="550.5" cy="296.2" r="2.1"/>
<circle cx="550.6" cy="293.2" r="2.1"/>
<circle cx="582.5" cy="288.5" r="2.1"/>
<circle cx="557.8" cy="294.5" r="2.1"/>
<circle cx="541.4" cy="294.0" r="2.1"/>
<circle cx="549.9" cy="291.6" r="2.1"/>
<circle cx="548.6" cy="292.6" r="2.1"/>
<circle cx="544.6" cy="301.0" r="2.1"/>
<circle cx="554.2" cy="290.6" r="2.1"/>
<circle cx="571.3" cy="293.2" r="2.1"/>
<circle cx="563.9" cy="286.6" r="2.1"/>
<circle cx="539.4" cy="292.2" r="2.1"/>
<circle cx="589.9" cy="281.8" r="2.1"/>
<circle cx="544.9" cy="294.0" r="2.1"/>
<circle cx="560.6" cy="296.3" r="2.1"/>
<circle cx="559.4" cy="294.5" r="2.1"/>
<circle cx="569.7" cy="289.1" r="2.1"/>
<circle cx="554.3" cy="296.8" r="2.1"/>
<circle cx="565.4" cy="290.4" r="2.1"/>
<circle cx="588.7" cy="290.7" r="2.1"/>
<circle cx="560.3" cy="294.2" r="2.1"/>
<circle cx="543.6" cy="297.9" r="2.1"/>
<circle cx="563.6" cy="279.9" r="2.1"/>
<circle cx="547.6" cy="288.1" r="2.1"/>
<circle cx="553.7" cy="297.7" r="2.1"/>
<circle cx="561.6" cy="292.1" r="2.1"/>
<circle cx="563.7" cy="303.7" r="2.1"/>
<circle cx="554.9" cy="292.4" r="2.1"/>
<circle cx="570.9" cy="288.6" r="2.1"/>
<circle cx="556.2" cy="301.0" r="2.1"/>
<circle cx="540.5" cy="298.4" r="2.1"/>
<circle cx="571.4" cy="300.9" r="2.1"/>
<circle cx="553.8" cy="296.3" r="2.1"/>
<circle cx="576.1" cy="289.6" r="2.1"/>
<circle cx="549.7" cy="298.0" r="2.1"/>
</g>
<g fill="#6b8c30" fill-opacity="0.28">
<circle cx="539.0" cy="280.0" r="2.1"/>
<circle cx="596.8" cy="281.8" r="2.1"/>
<circle cx="539.0" cy="281.2" r="2.1"/>
<circle cx="548.2" cy="282.9" r="2.1"/>
<circle cx="553.1" cy="287.9" r="2.1"/>
<circle cx="586.5" cy="281.6" r="2.1"/>
<circle cx="542.9" cy="285.6" r="2.1"/>
<circle cx="580.0" cy="281.5" r="2.1"/>
<circle cx="582.3" cy="288.4" r="2.1"/>
<circle cx="574.4" cy="270.1" r="2.1"/>
<circle cx="576.8" cy="283.0" r="2.1"/>
<circle cx="561.3" cy="284.8" r="2.1"/>
<circle cx="567.7" cy="278.6" r="2.1"/>
<circle cx="570.9" cy="289.1" r="2.1"/>
<circle cx="573.4" cy="285.1" r="2.1"/>
<circle cx="577.2" cy="290.4" r="2.1"/>
<circle cx="565.2" cy="288.8" r="2.1"/>
<circle cx="558.6" cy="287.2" r="2.1"/>
<circle cx="560.4" cy="283.2" r="2.1"/>
<circle cx="573.3" cy="278.5" r="2.1"/>
<circle cx="545.9" cy="282.9" r="2.1"/>
<circle cx="551.3" cy="281.7" r="2.1"/>
<circle cx="562.4" cy="285.3" r="2.1"/>
<circle cx="560.6" cy="281.7" r="2.1"/>
<circle cx="564.3" cy="299.4" r="2.1"/>
<circle cx="539.0" cy="276.0" r="2.1"/>
<circle cx="563.4" cy="289.9" r="2.1"/>
<circle cx="564.6" cy="281.6" r="2.1"/>
<circle cx="578.1" cy="282.8" r="2.1"/>
<circle cx="541.7" cy="288.7" r="2.1"/>
<circle cx="563.8" cy="284.0" r="2.1"/>
<circle cx="574.2" cy="277.9" r="2.1"/>
<circle cx="574.3" cy="286.1" r="2.1"/>
<circle cx="583.7" cy="283.0" r="2.1"/>
<circle cx="581.8" cy="273.7" r="2.1"/>
<circle cx="554.0" cy="285.0" r="2.1"/>
<circle cx="576.3" cy="278.7" r="2.1"/>
<circle cx="563.5" cy="280.3" r="2.1"/>
<circle cx="557.3" cy="286.4" r="2.1"/>
<circle cx="588.2" cy="285.5" r="2.1"/>
<circle cx="559.6" cy="282.5" r="2.1"/>
<circle cx="556.6" cy="294.9" r="2.1"/>
<circle cx="562.5" cy="286.1" r="2.1"/>
<circle cx="556.6" cy="280.9" r="2.1"/>
<circle cx="581.2" cy="285.2" r="2.1"/>
<circle cx="572.9" cy="283.4" r="2.1"/>
<circle cx="586.4" cy="272.9" r="2.1"/>
<circle cx="573.3" cy="276.1" r="2.1"/>
<circle cx="559.7" cy="277.0" r="2.1"/>
<circle cx="581.7" cy="294.4" r="2.1"/>
<circle cx="559.2" cy="283.1" r="2.1"/>
<circle cx="561.8" cy="282.6" r="2.1"/>
<circle cx="565.7" cy="281.2" r="2.1"/>
<circle cx="568.4" cy="288.9" r="2.1"/>
<circle cx="583.7" cy="284.1" r="2.1"/>
<circle cx="559.9" cy="292.6" r="2.1"/>
<circle cx="572.5" cy="288.0" r="2.1"/>
<circle cx="567.5" cy="292.3" r="2.1"/>
<circle cx="551.2" cy="283.4" r="2.1"/>
<circle cx="553.4" cy="285.9" r="2.1"/>
</g>
<line x1="527.98" y1="297.40" x2="589.88" y2="288.70" stroke="#3d5b9b" stroke-width="1.9" />
<line x1="538.98" y1="284.00" x2="596.78" y2="284.00" stroke="#6b8c30" stroke-width="1.9" />
<text transform="translate(528.43,254.96) scale(1,1.12)" font-size="7.0" fill="#3d5b9b" stroke="#3d5b9b"><tspan font-style="italic">R</tspan> = 0.25, <tspan font-style="italic">p</tspan> = 0.034</text>
<text transform="translate(528.43,264.06) scale(1,1.12)" font-size="7.0" fill="#6b8c30" stroke="#6b8c30"><tspan font-style="italic">R</tspan> = 0.01, <tspan font-style="italic">p</tspan> = 0.94</text>
</g>
<rect x="524.33" y="243.75" width="75.30" height="71.45" fill="none" stroke="#1a1a1a" stroke-width="1.1" />
<rect x="524.78" y="230.90" width="74.45" height="12.85" fill="#fff" stroke="#1a1a1a" stroke-width="1.1" />
<text transform="translate(561.98,239.75) scale(1,1.12)" font-size="7.05" fill="#1a1a1a" stroke="#1a1a1a" text-anchor="middle" >cg08804892</text>
<line x1="536.58" y1="315.20" x2="536.58" y2="317.80" stroke="#222" stroke-width="1.0" />
<text transform="translate(536.58,324.53) scale(1,1.12)" font-size="7.05" fill="#4d4d4d" stroke="#4d4d4d" text-anchor="middle" >60</text>
<line x1="555.88" y1="315.20" x2="555.88" y2="317.80" stroke="#222" stroke-width="1.0" />
<text transform="translate(555.88,324.53) scale(1,1.12)" font-size="7.05" fill="#4d4d4d" stroke="#4d4d4d" text-anchor="middle" >80</text>
<line x1="575.08" y1="315.20" x2="575.08" y2="317.80" stroke="#222" stroke-width="1.0" />
<text transform="translate(575.08,324.53) scale(1,1.12)" font-size="7.05" fill="#4d4d4d" stroke="#4d4d4d" text-anchor="middle" >100</text>
<line x1="594.38" y1="315.20" x2="594.38" y2="317.80" stroke="#222" stroke-width="1.0" />
<text transform="translate(594.38,324.53) scale(1,1.12)" font-size="7.05" fill="#4d4d4d" stroke="#4d4d4d" text-anchor="middle" >120</text>
<g clip-path="url(#c24)">
<g fill="#3d5b9b" fill-opacity="0.28">
<circle cx="608.2" cy="282.5" r="2.1"/>
<circle cx="670.1" cy="273.4" r="2.1"/>
<circle cx="637.7" cy="271.0" r="2.1"/>
<circle cx="641.8" cy="276.1" r="2.1"/>
<circle cx="608.2" cy="279.9" r="2.1"/>
<circle cx="650.1" cy="274.3" r="2.1"/>
<circle cx="647.1" cy="284.2" r="2.1"/>
<circle cx="641.5" cy="280.4" r="2.1"/>
<circle cx="633.6" cy="286.5" r="2.1"/>
<circle cx="628.8" cy="285.5" r="2.1"/>
<circle cx="636.7" cy="284.5" r="2.1"/>
<circle cx="656.4" cy="281.6" r="2.1"/>
<circle cx="637.7" cy="276.7" r="2.1"/>
<circle cx="658.3" cy="280.2" r="2.1"/>
<circle cx="608.2" cy="283.1" r="2.1"/>
<circle cx="632.7" cy="277.9" r="2.1"/>
<circle cx="643.1" cy="284.8" r="2.1"/>
<circle cx="639.0" cy="290.3" r="2.1"/>
<circle cx="615.7" cy="278.5" r="2.1"/>
<circle cx="629.8" cy="289.8" r="2.1"/>
<circle cx="656.9" cy="280.6" r="2.1"/>
<circle cx="620.9" cy="278.3" r="2.1"/>
<circle cx="625.2" cy="283.2" r="2.1"/>
<circle cx="623.7" cy="283.9" r="2.1"/>
<circle cx="631.4" cy="282.7" r="2.1"/>
<circle cx="648.3" cy="276.1" r="2.1"/>
<circle cx="647.6" cy="271.6" r="2.1"/>
<circle cx="610.5" cy="284.5" r="2.1"/>
<circle cx="659.8" cy="280.3" r="2.1"/>
<circle cx="630.8" cy="284.8" r="2.1"/>
<circle cx="630.9" cy="284.2" r="2.1"/>
<circle cx="662.8" cy="281.0" r="2.1"/>
<circle cx="638.0" cy="274.7" r="2.1"/>
<circle cx="621.7" cy="282.2" r="2.1"/>
<circle cx="630.1" cy="282.7" r="2.1"/>
<circle cx="628.9" cy="286.2" r="2.1"/>
<circle cx="624.9" cy="282.7" r="2.1"/>
<circle cx="634.5" cy="282.8" r="2.1"/>
<circle cx="651.6" cy="278.0" r="2.1"/>
<circle cx="644.1" cy="289.1" r="2.1"/>
<circle cx="619.7" cy="271.8" r="2.1"/>
<circle cx="670.1" cy="274.1" r="2.1"/>
<circle cx="625.2" cy="294.2" r="2.1"/>
<circle cx="640.8" cy="280.4" r="2.1"/>
<circle cx="639.6" cy="270.2" r="2.1"/>
<circle cx="650.0" cy="278.3" r="2.1"/>
<circle cx="634.5" cy="273.1" r="2.1"/>
<circle cx="645.6" cy="275.0" r="2.1"/>
<circle cx="669.0" cy="275.5" r="2.1"/>
<circle cx="640.5" cy="287.8" r="2.1"/>
<circle cx="623.9" cy="284.4" r="2.1"/>
<circle cx="643.8" cy="282.0" r="2.1"/>
<circle cx="627.8" cy="286.5" r="2.1"/>
<circle cx="634.0" cy="281.3" r="2.1"/>
<circle cx="641.9" cy="274.7" r="2.1"/>
<circle cx="644.0" cy="278.2" r="2.1"/>
<circle cx="635.2" cy="281.8" r="2.1"/>
<circle cx="651.2" cy="276.0" r="2.1"/>
<circle cx="636.5" cy="276.6" r="2.1"/>
<circle cx="620.7" cy="280.8" r="2.1"/>
<circle cx="651.6" cy="269.8" r="2.1"/>
<circle cx="634.0" cy="275.2" r="2.1"/>
<circle cx="656.4" cy="276.1" r="2.1"/>
<circle cx="629.9" cy="279.2" r="2.1"/>
</g>
<g fill="#6b8c30" fill-opacity="0.28">
<circle cx="619.2" cy="266.3" r="2.1"/>
<circle cx="677.0" cy="278.2" r="2.1"/>
<circle cx="619.2" cy="267.6" r="2.1"/>
<circle cx="628.4" cy="266.7" r="2.1"/>
<circle cx="633.4" cy="261.5" r="2.1"/>
<circle cx="666.7" cy="264.9" r="2.1"/>
<circle cx="623.2" cy="268.3" r="2.1"/>
<circle cx="660.2" cy="265.3" r="2.1"/>
<circle cx="662.6" cy="272.1" r="2.1"/>
<circle cx="654.7" cy="263.9" r="2.1"/>
<circle cx="657.0" cy="270.1" r="2.1"/>
<circle cx="641.6" cy="267.7" r="2.1"/>
<circle cx="648.0" cy="273.6" r="2.1"/>
<circle cx="651.1" cy="266.9" r="2.1"/>
<circle cx="653.7" cy="267.3" r="2.1"/>
<circle cx="657.5" cy="270.7" r="2.1"/>
<circle cx="645.4" cy="268.7" r="2.1"/>
<circle cx="638.9" cy="276.3" r="2.1"/>
<circle cx="640.7" cy="266.7" r="2.1"/>
<circle cx="653.6" cy="266.4" r="2.1"/>
<circle cx="626.2" cy="265.1" r="2.1"/>
<circle cx="631.6" cy="269.6" r="2.1"/>
<circle cx="642.7" cy="269.3" r="2.1"/>
<circle cx="640.8" cy="271.5" r="2.1"/>
<circle cx="644.6" cy="261.4" r="2.1"/>
<circle cx="619.2" cy="278.5" r="2.1"/>
<circle cx="643.6" cy="277.5" r="2.1"/>
<circle cx="644.8" cy="268.2" r="2.1"/>
<circle cx="658.4" cy="263.5" r="2.1"/>
<circle cx="622.0" cy="267.1" r="2.1"/>
<circle cx="644.1" cy="270.4" r="2.1"/>
<circle cx="654.4" cy="258.0" r="2.1"/>
<circle cx="654.6" cy="269.3" r="2.1"/>
<circle cx="663.9" cy="262.6" r="2.1"/>
<circle cx="662.1" cy="272.2" r="2.1"/>
<circle cx="634.3" cy="274.3" r="2.1"/>
<circle cx="656.6" cy="274.6" r="2.1"/>
<circle cx="643.7" cy="260.7" r="2.1"/>
<circle cx="637.5" cy="274.6" r="2.1"/>
<circle cx="668.4" cy="275.0" r="2.1"/>
<circle cx="639.8" cy="266.1" r="2.1"/>
<circle cx="636.8" cy="270.2" r="2.1"/>
<circle cx="642.7" cy="275.8" r="2.1"/>
<circle cx="636.9" cy="266.0" r="2.1"/>
<circle cx="661.5" cy="269.7" r="2.1"/>
<circle cx="653.2" cy="266.3" r="2.1"/>
<circle cx="666.7" cy="276.1" r="2.1"/>
<circle cx="653.6" cy="258.4" r="2.1"/>
<circle cx="640.0" cy="275.0" r="2.1"/>
<circle cx="662.0" cy="265.0" r="2.1"/>
<circle cx="639.5" cy="272.5" r="2.1"/>
<circle cx="642.0" cy="260.0" r="2.1"/>
<circle cx="645.9" cy="263.8" r="2.1"/>
<circle cx="648.7" cy="265.7" r="2.1"/>
<circle cx="664.0" cy="274.2" r="2.1"/>
<circle cx="640.1" cy="259.8" r="2.1"/>
<circle cx="652.8" cy="272.1" r="2.1"/>
<circle cx="647.8" cy="265.4" r="2.1"/>
<circle cx="631.5" cy="273.4" r="2.1"/>
<circle cx="633.6" cy="265.8" r="2.1"/>
</g>
<line x1="608.24" y1="284.70" x2="670.14" y2="274.20" stroke="#3d5b9b" stroke-width="1.9" />
<line x1="619.24" y1="266.10" x2="677.04" y2="271.20" stroke="#6b8c30" stroke-width="1.9" />
<text transform="translate(608.69,254.96) scale(1,1.12)" font-size="7.0" fill="#3d5b9b" stroke="#3d5b9b"><tspan font-style="italic">R</tspan> = 0.33, <tspan font-style="italic">p</tspan> = 0.0065</text>
<text transform="translate(608.69,264.06) scale(1,1.12)" font-size="7.0" fill="#6b8c30" stroke="#6b8c30"><tspan font-style="italic">R</tspan> = −0.12, <tspan font-style="italic">p</tspan> = 0.36</text>
</g>
<rect x="604.59" y="243.75" width="75.30" height="71.45" fill="none" stroke="#1a1a1a" stroke-width="1.1" />
<rect x="605.04" y="230.90" width="74.45" height="12.85" fill="#fff" stroke="#1a1a1a" stroke-width="1.1" />
<text transform="translate(642.24,239.75) scale(1,1.12)" font-size="7.05" fill="#1a1a1a" stroke="#1a1a1a" text-anchor="middle" >cg23715029</text>
<line x1="616.84" y1="315.20" x2="616.84" y2="317.80" stroke="#222" stroke-width="1.0" />
<text transform="translate(616.84,324.53) scale(1,1.12)" font-size="7.05" fill="#4d4d4d" stroke="#4d4d4d" text-anchor="middle" >60</text>
<line x1="636.14" y1="315.20" x2="636.14" y2="317.80" stroke="#222" stroke-width="1.0" />
<text transform="translate(636.14,324.53) scale(1,1.12)" font-size="7.05" fill="#4d4d4d" stroke="#4d4d4d" text-anchor="middle" >80</text>
<line x1="655.34" y1="315.20" x2="655.34" y2="317.80" stroke="#222" stroke-width="1.0" />
<text transform="translate(655.34,324.53) scale(1,1.12)" font-size="7.05" fill="#4d4d4d" stroke="#4d4d4d" text-anchor="middle" >100</text>
<line x1="674.64" y1="315.20" x2="674.64" y2="317.80" stroke="#222" stroke-width="1.0" />
<text transform="translate(674.64,324.53) scale(1,1.12)" font-size="7.05" fill="#4d4d4d" stroke="#4d4d4d" text-anchor="middle" >120</text>
<line x1="280.90" y1="300.10" x2="283.60" y2="300.10" stroke="#222" stroke-width="1.0" />
<text transform="translate(280.00,302.53) scale(1,1.12)" font-size="7.05" fill="#4d4d4d" stroke="#4d4d4d" text-anchor="end" >0.2</text>
<line x1="280.90" y1="277.55" x2="283.60" y2="277.55" stroke="#222" stroke-width="1.0" />
<text transform="translate(280.00,279.98) scale(1,1.12)" font-size="7.05" fill="#4d4d4d" stroke="#4d4d4d" text-anchor="end" >0.4</text>
<line x1="280.90" y1="255.00" x2="283.60" y2="255.00" stroke="#222" stroke-width="1.0" />
<text transform="translate(280.00,257.43) scale(1,1.12)" font-size="7.05" fill="#4d4d4d" stroke="#4d4d4d" text-anchor="end" >0.6</text>
<text x="0" y="0" font-size="8.6" fill="#1a1a1a" stroke="#1a1a1a" text-anchor="middle" transform="translate(266.37,285.28) rotate(-90) scale(1,1.12)">β−value</text>
<text transform="translate(482.00,334.15) scale(1,1.12)" font-size="8.6" fill="#1a1a1a" stroke="#1a1a1a" text-anchor="middle" >VIQ</text>
<g clip-path="url(#c30)">
<g fill="#3d5b9b" fill-opacity="0.28">
<circle cx="287.2" cy="401.1" r="2.1"/>
<circle cx="354.2" cy="416.1" r="2.1"/>
<circle cx="304.1" cy="419.8" r="2.1"/>
<circle cx="303.7" cy="409.7" r="2.1"/>
<circle cx="320.0" cy="424.8" r="2.1"/>
<circle cx="298.3" cy="406.6" r="2.1"/>
<circle cx="330.3" cy="413.9" r="2.1"/>
<circle cx="303.4" cy="403.0" r="2.1"/>
<circle cx="330.5" cy="418.6" r="2.1"/>
<circle cx="299.4" cy="411.9" r="2.1"/>
<circle cx="317.0" cy="423.6" r="2.1"/>
<circle cx="308.7" cy="412.8" r="2.1"/>
<circle cx="301.8" cy="409.6" r="2.1"/>
<circle cx="294.4" cy="402.5" r="2.1"/>
<circle cx="308.2" cy="411.5" r="2.1"/>
<circle cx="297.6" cy="415.1" r="2.1"/>
<circle cx="312.4" cy="416.3" r="2.1"/>
<circle cx="326.7" cy="421.1" r="2.1"/>
<circle cx="292.8" cy="413.9" r="2.1"/>
<circle cx="299.0" cy="410.2" r="2.1"/>
<circle cx="322.6" cy="417.2" r="2.1"/>
<circle cx="335.2" cy="417.0" r="2.1"/>
<circle cx="301.8" cy="404.0" r="2.1"/>
<circle cx="330.2" cy="424.1" r="2.1"/>
<circle cx="313.2" cy="414.6" r="2.1"/>
<circle cx="301.4" cy="405.4" r="2.1"/>
<circle cx="299.5" cy="412.5" r="2.1"/>
<circle cx="294.8" cy="411.3" r="2.1"/>
<circle cx="323.5" cy="419.4" r="2.1"/>
<circle cx="290.5" cy="416.5" r="2.1"/>
<circle cx="342.0" cy="401.6" r="2.1"/>
<circle cx="293.2" cy="412.4" r="2.1"/>
<circle cx="292.1" cy="417.2" r="2.1"/>
<circle cx="299.3" cy="405.6" r="2.1"/>
<circle cx="309.0" cy="402.5" r="2.1"/>
<circle cx="306.3" cy="413.0" r="2.1"/>
<circle cx="325.8" cy="416.4" r="2.1"/>
<circle cx="313.7" cy="414.6" r="2.1"/>
<circle cx="301.8" cy="405.2" r="2.1"/>
<circle cx="301.9" cy="408.5" r="2.1"/>
<circle cx="295.0" cy="410.8" r="2.1"/>
<circle cx="306.5" cy="415.5" r="2.1"/>
<circle cx="299.1" cy="421.7" r="2.1"/>
<circle cx="308.7" cy="413.5" r="2.1"/>
<circle cx="312.6" cy="409.5" r="2.1"/>
<circle cx="306.4" cy="399.5" r="2.1"/>
<circle cx="331.0" cy="421.0" r="2.1"/>
<circle cx="321.3" cy="413.3" r="2.1"/>
<circle cx="301.0" cy="410.2" r="2.1"/>
<circle cx="314.1" cy="407.7" r="2.1"/>
<circle cx="314.6" cy="416.7" r="2.1"/>
<circle cx="295.9" cy="400.7" r="2.1"/>
<circle cx="314.6" cy="413.5" r="2.1"/>
<circle cx="310.7" cy="412.9" r="2.1"/>
<circle cx="302.0" cy="412.5" r="2.1"/>
<circle cx="300.2" cy="417.4" r="2.1"/>
<circle cx="298.8" cy="409.9" r="2.1"/>
<circle cx="300.4" cy="411.1" r="2.1"/>
<circle cx="297.9" cy="414.7" r="2.1"/>
<circle cx="302.3" cy="403.0" r="2.1"/>
<circle cx="319.8" cy="412.2" r="2.1"/>
<circle cx="300.5" cy="411.0" r="2.1"/>
<circle cx="319.4" cy="418.6" r="2.1"/>
<circle cx="301.7" cy="406.7" r="2.1"/>
</g>
<g fill="#6b8c30" fill-opacity="0.28">
<circle cx="288.8" cy="407.5" r="2.1"/>
<circle cx="356.0" cy="404.0" r="2.1"/>
<circle cx="313.7" cy="395.2" r="2.1"/>
<circle cx="292.3" cy="395.7" r="2.1"/>
<circle cx="307.4" cy="395.6" r="2.1"/>
<circle cx="309.9" cy="403.7" r="2.1"/>
<circle cx="325.4" cy="403.7" r="2.1"/>
<circle cx="302.1" cy="406.9" r="2.1"/>
<circle cx="295.9" cy="407.5" r="2.1"/>
<circle cx="326.6" cy="399.8" r="2.1"/>
<circle cx="300.4" cy="408.7" r="2.1"/>
<circle cx="299.2" cy="407.4" r="2.1"/>
<circle cx="315.8" cy="405.3" r="2.1"/>
<circle cx="316.3" cy="405.3" r="2.1"/>
<circle cx="302.7" cy="396.5" r="2.1"/>
<circle cx="316.7" cy="404.7" r="2.1"/>
<circle cx="307.8" cy="397.7" r="2.1"/>
<circle cx="356.4" cy="395.8" r="2.1"/>
<circle cx="299.3" cy="401.4" r="2.1"/>
<circle cx="297.6" cy="403.9" r="2.1"/>
<circle cx="306.9" cy="402.7" r="2.1"/>
<circle cx="314.9" cy="401.2" r="2.1"/>
<circle cx="303.2" cy="397.9" r="2.1"/>
<circle cx="293.1" cy="404.3" r="2.1"/>
<circle cx="295.2" cy="399.4" r="2.1"/>
<circle cx="317.8" cy="395.5" r="2.1"/>
<circle cx="353.6" cy="402.5" r="2.1"/>
<circle cx="346.1" cy="409.7" r="2.1"/>
<circle cx="294.2" cy="401.2" r="2.1"/>
<circle cx="318.3" cy="397.3" r="2.1"/>
<circle cx="303.0" cy="410.3" r="2.1"/>
<circle cx="320.1" cy="411.6" r="2.1"/>
<circle cx="302.3" cy="401.6" r="2.1"/>
<circle cx="302.1" cy="402.0" r="2.1"/>
<circle cx="316.8" cy="403.9" r="2.1"/>
<circle cx="310.7" cy="418.2" r="2.1"/>
<circle cx="317.6" cy="403.5" r="2.1"/>
<circle cx="299.9" cy="408.3" r="2.1"/>
<circle cx="297.1" cy="405.5" r="2.1"/>
<circle cx="312.2" cy="393.5" r="2.1"/>
<circle cx="299.8" cy="397.5" r="2.1"/>
<circle cx="310.3" cy="396.6" r="2.1"/>
<circle cx="301.1" cy="405.4" r="2.1"/>
<circle cx="293.6" cy="403.9" r="2.1"/>
<circle cx="322.5" cy="412.0" r="2.1"/>
<circle cx="295.9" cy="401.9" r="2.1"/>
<circle cx="305.3" cy="404.7" r="2.1"/>
<circle cx="316.8" cy="403.2" r="2.1"/>
<circle cx="309.2" cy="403.7" r="2.1"/>
<circle cx="307.2" cy="415.0" r="2.1"/>
<circle cx="323.2" cy="404.2" r="2.1"/>
<circle cx="306.2" cy="410.7" r="2.1"/>
<circle cx="304.3" cy="409.8" r="2.1"/>
<circle cx="314.5" cy="399.7" r="2.1"/>
<circle cx="303.6" cy="406.6" r="2.1"/>
<circle cx="304.5" cy="401.1" r="2.1"/>
<circle cx="294.6" cy="403.8" r="2.1"/>
<circle cx="307.2" cy="403.8" r="2.1"/>
<circle cx="295.5" cy="403.4" r="2.1"/>
<circle cx="300.8" cy="400.7" r="2.1"/>
</g>
<line x1="287.20" y1="408.60" x2="354.20" y2="419.10" stroke="#3d5b9b" stroke-width="1.9" />
<line x1="288.80" y1="403.40" x2="356.00" y2="402.00" stroke="#6b8c30" stroke-width="1.9" />
<text transform="translate(287.65,369.36) scale(1,1.12)" font-size="7.0" fill="#3d5b9b" stroke="#3d5b9b"><tspan font-style="italic">R</tspan> = −0.39, <tspan font-style="italic">p</tspan> = 0.0019</text>
<text transform="translate(287.65,378.46) scale(1,1.12)" font-size="7.0" fill="#6b8c30" stroke="#6b8c30"><tspan font-style="italic">R</tspan> = 0.14, <tspan font-style="italic">p</tspan> = 0.27</text>
</g>
<rect x="283.55" y="358.15" width="75.30" height="71.45" fill="none" stroke="#1a1a1a" stroke-width="1.1" />
<rect x="284.00" y="345.30" width="74.45" height="12.85" fill="#fff" stroke="#1a1a1a" stroke-width="1.1" />
<text transform="translate(321.20,354.15) scale(1,1.12)" font-size="7.05" fill="#1a1a1a" stroke="#1a1a1a" text-anchor="middle" >cg01855070</text>
<line x1="296.40" y1="429.60" x2="296.40" y2="432.20" stroke="#222" stroke-width="1.0" />
<text transform="translate(296.40,438.93) scale(1,1.12)" font-size="7.05" fill="#4d4d4d" stroke="#4d4d4d" text-anchor="middle" >50</text>
<line x1="315.20" y1="429.60" x2="315.20" y2="432.20" stroke="#222" stroke-width="1.0" />
<text transform="translate(315.20,438.93) scale(1,1.12)" font-size="7.05" fill="#4d4d4d" stroke="#4d4d4d" text-anchor="middle" >100</text>
<line x1="333.90" y1="429.60" x2="333.90" y2="432.20" stroke="#222" stroke-width="1.0" />
<text transform="translate(333.90,438.93) scale(1,1.12)" font-size="7.05" fill="#4d4d4d" stroke="#4d4d4d" text-anchor="middle" >150</text>
<line x1="352.90" y1="429.60" x2="352.90" y2="432.20" stroke="#222" stroke-width="1.0" />
<text transform="translate(352.90,438.93) scale(1,1.12)" font-size="7.05" fill="#4d4d4d" stroke="#4d4d4d" text-anchor="middle" >200</text>
<g clip-path="url(#c31)">
<g fill="#3d5b9b" fill-opacity="0.28">
<circle cx="367.5" cy="397.3" r="2.1"/>
<circle cx="434.5" cy="400.9" r="2.1"/>
<circle cx="384.4" cy="396.2" r="2.1"/>
<circle cx="384.0" cy="401.1" r="2.1"/>
<circle cx="400.3" cy="398.9" r="2.1"/>
<circle cx="378.5" cy="396.7" r="2.1"/>
<circle cx="410.5" cy="404.8" r="2.1"/>
<circle cx="383.6" cy="398.0" r="2.1"/>
<circle cx="410.8" cy="406.6" r="2.1"/>
<circle cx="379.7" cy="384.2" r="2.1"/>
<circle cx="397.2" cy="405.2" r="2.1"/>
<circle cx="388.9" cy="393.5" r="2.1"/>
<circle cx="382.1" cy="383.0" r="2.1"/>
<circle cx="374.7" cy="387.3" r="2.1"/>
<circle cx="388.4" cy="386.1" r="2.1"/>
<circle cx="377.8" cy="391.1" r="2.1"/>
<circle cx="392.6" cy="386.4" r="2.1"/>
<circle cx="407.0" cy="391.7" r="2.1"/>
<circle cx="373.1" cy="391.8" r="2.1"/>
<circle cx="379.2" cy="392.3" r="2.1"/>
<circle cx="402.8" cy="392.0" r="2.1"/>
<circle cx="415.4" cy="397.4" r="2.1"/>
<circle cx="382.0" cy="391.5" r="2.1"/>
<circle cx="410.5" cy="398.0" r="2.1"/>
<circle cx="393.5" cy="394.2" r="2.1"/>
<circle cx="381.7" cy="390.8" r="2.1"/>
<circle cx="379.8" cy="396.2" r="2.1"/>
<circle cx="375.0" cy="382.3" r="2.1"/>
<circle cx="403.7" cy="393.7" r="2.1"/>
<circle cx="370.8" cy="390.5" r="2.1"/>
<circle cx="422.3" cy="397.8" r="2.1"/>
<circle cx="373.5" cy="387.5" r="2.1"/>
<circle cx="372.4" cy="387.9" r="2.1"/>
<circle cx="379.5" cy="392.6" r="2.1"/>
<circle cx="389.3" cy="399.9" r="2.1"/>
<circle cx="386.5" cy="392.0" r="2.1"/>
<circle cx="406.1" cy="395.4" r="2.1"/>
<circle cx="394.0" cy="396.2" r="2.1"/>
<circle cx="382.1" cy="390.8" r="2.1"/>
<circle cx="382.2" cy="382.0" r="2.1"/>
<circle cx="375.2" cy="392.1" r="2.1"/>
<circle cx="386.7" cy="391.0" r="2.1"/>
<circle cx="379.3" cy="388.5" r="2.1"/>
<circle cx="389.0" cy="396.7" r="2.1"/>
<circle cx="392.9" cy="394.4" r="2.1"/>
<circle cx="386.7" cy="390.0" r="2.1"/>
<circle cx="411.2" cy="386.4" r="2.1"/>
<circle cx="401.5" cy="386.9" r="2.1"/>
<circle cx="381.3" cy="392.0" r="2.1"/>
<circle cx="394.4" cy="393.9" r="2.1"/>
<circle cx="394.9" cy="396.8" r="2.1"/>
<circle cx="376.2" cy="392.1" r="2.1"/>
<circle cx="394.9" cy="392.1" r="2.1"/>
<circle cx="390.9" cy="387.2" r="2.1"/>
<circle cx="382.2" cy="386.4" r="2.1"/>
<circle cx="380.5" cy="391.0" r="2.1"/>
<circle cx="379.0" cy="385.5" r="2.1"/>
<circle cx="380.6" cy="395.7" r="2.1"/>
<circle cx="378.2" cy="384.4" r="2.1"/>
<circle cx="382.6" cy="382.8" r="2.1"/>
<circle cx="400.1" cy="394.6" r="2.1"/>
<circle cx="380.8" cy="382.6" r="2.1"/>
<circle cx="399.7" cy="404.0" r="2.1"/>
<circle cx="381.9" cy="386.9" r="2.1"/>
</g>
<g fill="#6b8c30" fill-opacity="0.28">
<circle cx="369.1" cy="384.9" r="2.1"/>
<circle cx="436.3" cy="378.1" r="2.1"/>
<circle cx="394.0" cy="378.8" r="2.1"/>
<circle cx="372.6" cy="375.7" r="2.1"/>
<circle cx="387.6" cy="373.9" r="2.1"/>
<circle cx="390.2" cy="387.9" r="2.1"/>
<circle cx="405.6" cy="387.4" r="2.1"/>
<circle cx="382.3" cy="395.3" r="2.1"/>
<circle cx="376.2" cy="377.0" r="2.1"/>
<circle cx="406.9" cy="384.9" r="2.1"/>
<circle cx="380.6" cy="384.1" r="2.1"/>
<circle cx="379.5" cy="388.7" r="2.1"/>
<circle cx="396.1" cy="380.2" r="2.1"/>
<circle cx="396.6" cy="386.6" r="2.1"/>
<circle cx="383.0" cy="388.7" r="2.1"/>
<circle cx="397.0" cy="385.9" r="2.1"/>
<circle cx="388.1" cy="391.1" r="2.1"/>
<circle cx="436.6" cy="378.5" r="2.1"/>
<circle cx="379.6" cy="392.3" r="2.1"/>
<circle cx="377.8" cy="380.8" r="2.1"/>
<circle cx="387.2" cy="392.3" r="2.1"/>
<circle cx="395.1" cy="368.7" r="2.1"/>
<circle cx="383.4" cy="384.0" r="2.1"/>
<circle cx="373.4" cy="380.7" r="2.1"/>
<circle cx="375.5" cy="384.7" r="2.1"/>
<circle cx="398.0" cy="388.1" r="2.1"/>
<circle cx="433.9" cy="383.3" r="2.1"/>
<circle cx="426.4" cy="380.7" r="2.1"/>
<circle cx="374.4" cy="393.6" r="2.1"/>
<circle cx="398.5" cy="375.0" r="2.1"/>
<circle cx="383.2" cy="379.7" r="2.1"/>
<circle cx="400.3" cy="390.4" r="2.1"/>
<circle cx="382.6" cy="385.7" r="2.1"/>
<circle cx="382.4" cy="373.3" r="2.1"/>
<circle cx="397.0" cy="384.6" r="2.1"/>
<circle cx="391.0" cy="377.2" r="2.1"/>
<circle cx="397.9" cy="390.4" r="2.1"/>
<circle cx="380.1" cy="390.2" r="2.1"/>
<circle cx="377.4" cy="381.6" r="2.1"/>
<circle cx="392.5" cy="389.9" r="2.1"/>
<circle cx="380.1" cy="379.9" r="2.1"/>
<circle cx="390.6" cy="388.1" r="2.1"/>
<circle cx="381.3" cy="387.2" r="2.1"/>
<circle cx="373.8" cy="384.1" r="2.1"/>
<circle cx="402.7" cy="374.9" r="2.1"/>
<circle cx="376.2" cy="383.1" r="2.1"/>
<circle cx="385.6" cy="371.9" r="2.1"/>
<circle cx="397.1" cy="379.9" r="2.1"/>
<circle cx="389.5" cy="373.8" r="2.1"/>
<circle cx="387.4" cy="389.9" r="2.1"/>
<circle cx="403.4" cy="377.2" r="2.1"/>
<circle cx="386.5" cy="371.0" r="2.1"/>
<circle cx="384.6" cy="386.9" r="2.1"/>
<circle cx="394.8" cy="384.9" r="2.1"/>
<circle cx="383.9" cy="381.3" r="2.1"/>
<circle cx="384.7" cy="394.9" r="2.1"/>
<circle cx="374.9" cy="388.7" r="2.1"/>
<circle cx="387.4" cy="384.0" r="2.1"/>
<circle cx="375.7" cy="381.3" r="2.1"/>
<circle cx="381.1" cy="368.8" r="2.1"/>
</g>
<line x1="367.46" y1="389.20" x2="434.46" y2="402.30" stroke="#3d5b9b" stroke-width="1.9" />
<line x1="369.06" y1="385.20" x2="436.26" y2="379.40" stroke="#6b8c30" stroke-width="1.9" />
<text transform="translate(367.91,369.36) scale(1,1.12)" font-size="7.0" fill="#3d5b9b" stroke="#3d5b9b"><tspan font-style="italic">R</tspan> = −0.44, <tspan font-style="italic">p</tspan> = 3e−04</text>
<text transform="translate(367.91,378.46) scale(1,1.12)" font-size="7.0" fill="#6b8c30" stroke="#6b8c30"><tspan font-style="italic">R</tspan> = 0.16, <tspan font-style="italic">p</tspan> = 0.21</text>
</g>
<rect x="363.81" y="358.15" width="75.30" height="71.45" fill="none" stroke="#1a1a1a" stroke-width="1.1" />
<rect x="364.26" y="345.30" width="74.45" height="12.85" fill="#fff" stroke="#1a1a1a" stroke-width="1.1" />
<text transform="translate(401.46,354.15) scale(1,1.12)" font-size="7.05" fill="#1a1a1a" stroke="#1a1a1a" text-anchor="middle" >cg03168947</text>
<line x1="376.66" y1="429.60" x2="376.66" y2="432.20" stroke="#222" stroke-width="1.0" />
<text transform="translate(376.66,438.93) scale(1,1.12)" font-size="7.05" fill="#4d4d4d" stroke="#4d4d4d" text-anchor="middle" >50</text>
<line x1="395.46" y1="429.60" x2="395.46" y2="432.20" stroke="#222" stroke-width="1.0" />
<text transform="translate(395.46,438.93) scale(1,1.12)" font-size="7.05" fill="#4d4d4d" stroke="#4d4d4d" text-anchor="middle" >100</text>
<line x1="414.16" y1="429.60" x2="414.16" y2="432.20" stroke="#222" stroke-width="1.0" />
<text transform="translate(414.16,438.93) scale(1,1.12)" font-size="7.05" fill="#4d4d4d" stroke="#4d4d4d" text-anchor="middle" >150</text>
<line x1="433.16" y1="429.60" x2="433.16" y2="432.20" stroke="#222" stroke-width="1.0" />
<text transform="translate(433.16,438.93) scale(1,1.12)" font-size="7.05" fill="#4d4d4d" stroke="#4d4d4d" text-anchor="middle" >200</text>
<g clip-path="url(#c32)">
<g fill="#3d5b9b" fill-opacity="0.28">
<circle cx="447.7" cy="411.1" r="2.1"/>
<circle cx="514.7" cy="426.9" r="2.1"/>
<circle cx="464.7" cy="408.9" r="2.1"/>
<circle cx="464.3" cy="404.5" r="2.1"/>
<circle cx="480.6" cy="414.9" r="2.1"/>
<circle cx="458.8" cy="402.1" r="2.1"/>
<circle cx="490.8" cy="417.2" r="2.1"/>
<circle cx="463.9" cy="415.8" r="2.1"/>
<circle cx="491.0" cy="425.0" r="2.1"/>
<circle cx="459.9" cy="412.4" r="2.1"/>
<circle cx="477.5" cy="415.5" r="2.1"/>
<circle cx="469.2" cy="416.8" r="2.1"/>
<circle cx="462.3" cy="418.8" r="2.1"/>
<circle cx="454.9" cy="408.4" r="2.1"/>
<circle cx="468.7" cy="406.4" r="2.1"/>
<circle cx="458.1" cy="406.5" r="2.1"/>
<circle cx="472.9" cy="407.1" r="2.1"/>
<circle cx="487.2" cy="411.8" r="2.1"/>
<circle cx="453.3" cy="409.1" r="2.1"/>
<circle cx="459.5" cy="412.7" r="2.1"/>
<circle cx="483.1" cy="416.4" r="2.1"/>
<circle cx="495.7" cy="418.5" r="2.1"/>
<circle cx="462.3" cy="409.6" r="2.1"/>
<circle cx="490.7" cy="419.3" r="2.1"/>
<circle cx="473.7" cy="418.4" r="2.1"/>
<circle cx="461.9" cy="415.4" r="2.1"/>
<circle cx="460.1" cy="418.8" r="2.1"/>
<circle cx="455.3" cy="408.6" r="2.1"/>
<circle cx="484.0" cy="414.5" r="2.1"/>
<circle cx="451.0" cy="418.1" r="2.1"/>
<circle cx="502.5" cy="420.5" r="2.1"/>
<circle cx="453.7" cy="411.9" r="2.1"/>
<circle cx="452.7" cy="407.8" r="2.1"/>
<circle cx="459.8" cy="416.0" r="2.1"/>
<circle cx="469.6" cy="410.8" r="2.1"/>
<circle cx="466.8" cy="407.1" r="2.1"/>
<circle cx="486.4" cy="416.0" r="2.1"/>
<circle cx="474.2" cy="411.6" r="2.1"/>
<circle cx="462.3" cy="415.8" r="2.1"/>
<circle cx="462.4" cy="409.6" r="2.1"/>
<circle cx="455.5" cy="410.8" r="2.1"/>
<circle cx="467.0" cy="411.3" r="2.1"/>
<circle cx="459.6" cy="412.7" r="2.1"/>
<circle cx="469.3" cy="409.6" r="2.1"/>
<circle cx="473.1" cy="419.4" r="2.1"/>
<circle cx="466.9" cy="405.0" r="2.1"/>
<circle cx="491.5" cy="415.3" r="2.1"/>
<circle cx="481.8" cy="411.7" r="2.1"/>
<circle cx="461.6" cy="414.7" r="2.1"/>
<circle cx="474.7" cy="414.2" r="2.1"/>
<circle cx="475.1" cy="416.6" r="2.1"/>
<circle cx="456.5" cy="408.6" r="2.1"/>
<circle cx="475.1" cy="410.3" r="2.1"/>
<circle cx="471.2" cy="407.4" r="2.1"/>
<circle cx="462.5" cy="409.8" r="2.1"/>
<circle cx="460.8" cy="408.4" r="2.1"/>
<circle cx="459.3" cy="412.4" r="2.1"/>
<circle cx="460.9" cy="413.1" r="2.1"/>
<circle cx="458.5" cy="415.8" r="2.1"/>
<circle cx="462.9" cy="411.1" r="2.1"/>
<circle cx="480.3" cy="411.2" r="2.1"/>
<circle cx="461.0" cy="405.7" r="2.1"/>
<circle cx="479.9" cy="415.3" r="2.1"/>
<circle cx="462.2" cy="413.4" r="2.1"/>
</g>
<g fill="#6b8c30" fill-opacity="0.28">
<circle cx="449.3" cy="413.5" r="2.1"/>
<circle cx="516.5" cy="397.8" r="2.1"/>
<circle cx="474.2" cy="410.1" r="2.1"/>
<circle cx="452.9" cy="412.8" r="2.1"/>
<circle cx="467.9" cy="396.2" r="2.1"/>
<circle cx="470.4" cy="407.7" r="2.1"/>
<circle cx="485.9" cy="405.8" r="2.1"/>
<circle cx="462.6" cy="409.1" r="2.1"/>
<circle cx="456.5" cy="402.7" r="2.1"/>
<circle cx="487.1" cy="404.7" r="2.1"/>
<circle cx="460.9" cy="399.8" r="2.1"/>
<circle cx="459.7" cy="402.0" r="2.1"/>
<circle cx="476.3" cy="400.9" r="2.1"/>
<circle cx="476.8" cy="410.0" r="2.1"/>
<circle cx="463.2" cy="400.9" r="2.1"/>
<circle cx="477.3" cy="405.7" r="2.1"/>
<circle cx="468.3" cy="401.9" r="2.1"/>
<circle cx="516.9" cy="393.2" r="2.1"/>
<circle cx="459.8" cy="403.6" r="2.1"/>
<circle cx="458.1" cy="406.0" r="2.1"/>
<circle cx="467.4" cy="397.9" r="2.1"/>
<circle cx="475.4" cy="404.2" r="2.1"/>
<circle cx="463.7" cy="398.3" r="2.1"/>
<circle cx="453.7" cy="398.4" r="2.1"/>
<circle cx="455.7" cy="403.9" r="2.1"/>
<circle cx="478.3" cy="399.4" r="2.1"/>
<circle cx="514.2" cy="392.0" r="2.1"/>
<circle cx="506.6" cy="389.4" r="2.1"/>
<circle cx="454.7" cy="403.0" r="2.1"/>
<circle cx="478.8" cy="401.8" r="2.1"/>
<circle cx="463.5" cy="399.6" r="2.1"/>
<circle cx="480.6" cy="401.4" r="2.1"/>
<circle cx="462.9" cy="394.1" r="2.1"/>
<circle cx="462.7" cy="404.2" r="2.1"/>
<circle cx="477.3" cy="402.9" r="2.1"/>
<circle cx="471.2" cy="402.7" r="2.1"/>
<circle cx="478.1" cy="397.4" r="2.1"/>
<circle cx="460.4" cy="402.7" r="2.1"/>
<circle cx="457.6" cy="403.3" r="2.1"/>
<circle cx="472.7" cy="406.7" r="2.1"/>
<circle cx="460.3" cy="403.8" r="2.1"/>
<circle cx="470.8" cy="402.6" r="2.1"/>
<circle cx="461.6" cy="398.5" r="2.1"/>
<circle cx="454.1" cy="407.4" r="2.1"/>
<circle cx="483.0" cy="406.2" r="2.1"/>
<circle cx="456.5" cy="400.1" r="2.1"/>
<circle cx="465.8" cy="405.1" r="2.1"/>
<circle cx="477.3" cy="402.3" r="2.1"/>
<circle cx="469.8" cy="401.2" r="2.1"/>
<circle cx="467.7" cy="394.9" r="2.1"/>
<circle cx="483.7" cy="409.2" r="2.1"/>
<circle cx="466.7" cy="392.0" r="2.1"/>
<circle cx="464.9" cy="403.5" r="2.1"/>
<circle cx="475.0" cy="399.0" r="2.1"/>
<circle cx="464.1" cy="407.9" r="2.1"/>
<circle cx="465.0" cy="399.7" r="2.1"/>
<circle cx="455.2" cy="403.0" r="2.1"/>
<circle cx="467.7" cy="404.8" r="2.1"/>
<circle cx="456.0" cy="405.1" r="2.1"/>
<circle cx="461.3" cy="399.5" r="2.1"/>
</g>
<line x1="447.72" y1="408.60" x2="514.72" y2="421.90" stroke="#3d5b9b" stroke-width="1.9" />
<line x1="449.32" y1="403.40" x2="516.52" y2="396.90" stroke="#6b8c30" stroke-width="1.9" />
<text transform="translate(448.17,369.36) scale(1,1.12)" font-size="7.0" fill="#3d5b9b" stroke="#3d5b9b"><tspan font-style="italic">R</tspan> = −0.43, <tspan font-style="italic">p</tspan> = 0.00045</text>
<text transform="translate(448.17,378.46) scale(1,1.12)" font-size="7.0" fill="#6b8c30" stroke="#6b8c30"><tspan font-style="italic">R</tspan> = 0.22, <tspan font-style="italic">p</tspan> = 0.084</text>
</g>
<rect x="444.07" y="358.15" width="75.30" height="71.45" fill="none" stroke="#1a1a1a" stroke-width="1.1" />
<rect x="444.52" y="345.30" width="74.45" height="12.85" fill="#fff" stroke="#1a1a1a" stroke-width="1.1" />
<text transform="translate(481.72,354.15) scale(1,1.12)" font-size="7.05" fill="#1a1a1a" stroke="#1a1a1a" text-anchor="middle" >cg08508763</text>
<line x1="456.92" y1="429.60" x2="456.92" y2="432.20" stroke="#222" stroke-width="1.0" />
<text transform="translate(456.92,438.93) scale(1,1.12)" font-size="7.05" fill="#4d4d4d" stroke="#4d4d4d" text-anchor="middle" >50</text>
<line x1="475.72" y1="429.60" x2="475.72" y2="432.20" stroke="#222" stroke-width="1.0" />
<text transform="translate(475.72,438.93) scale(1,1.12)" font-size="7.05" fill="#4d4d4d" stroke="#4d4d4d" text-anchor="middle" >100</text>
<line x1="494.42" y1="429.60" x2="494.42" y2="432.20" stroke="#222" stroke-width="1.0" />
<text transform="translate(494.42,438.93) scale(1,1.12)" font-size="7.05" fill="#4d4d4d" stroke="#4d4d4d" text-anchor="middle" >150</text>
<line x1="513.42" y1="429.60" x2="513.42" y2="432.20" stroke="#222" stroke-width="1.0" />
<text transform="translate(513.42,438.93) scale(1,1.12)" font-size="7.05" fill="#4d4d4d" stroke="#4d4d4d" text-anchor="middle" >200</text>
<g clip-path="url(#c33)">
<g fill="#3d5b9b" fill-opacity="0.28">
<circle cx="528.0" cy="407.9" r="2.1"/>
<circle cx="595.0" cy="416.4" r="2.1"/>
<circle cx="544.9" cy="412.1" r="2.1"/>
<circle cx="544.5" cy="404.2" r="2.1"/>
<circle cx="560.8" cy="409.1" r="2.1"/>
<circle cx="539.0" cy="404.0" r="2.1"/>
<circle cx="571.1" cy="406.5" r="2.1"/>
<circle cx="544.2" cy="408.1" r="2.1"/>
<circle cx="571.3" cy="413.0" r="2.1"/>
<circle cx="540.2" cy="413.6" r="2.1"/>
<circle cx="557.8" cy="407.2" r="2.1"/>
<circle cx="549.4" cy="409.6" r="2.1"/>
<circle cx="542.6" cy="412.5" r="2.1"/>
<circle cx="535.2" cy="404.9" r="2.1"/>
<circle cx="548.9" cy="407.9" r="2.1"/>
<circle cx="538.4" cy="406.6" r="2.1"/>
<circle cx="553.2" cy="404.6" r="2.1"/>
<circle cx="567.5" cy="405.2" r="2.1"/>
<circle cx="533.6" cy="411.0" r="2.1"/>
<circle cx="539.8" cy="407.1" r="2.1"/>
<circle cx="563.3" cy="409.3" r="2.1"/>
<circle cx="575.9" cy="405.1" r="2.1"/>
<circle cx="542.6" cy="407.2" r="2.1"/>
<circle cx="571.0" cy="416.9" r="2.1"/>
<circle cx="554.0" cy="402.3" r="2.1"/>
<circle cx="542.2" cy="401.9" r="2.1"/>
<circle cx="540.3" cy="412.0" r="2.1"/>
<circle cx="535.5" cy="412.9" r="2.1"/>
<circle cx="564.3" cy="417.9" r="2.1"/>
<circle cx="531.3" cy="402.0" r="2.1"/>
<circle cx="582.8" cy="415.7" r="2.1"/>
<circle cx="534.0" cy="401.4" r="2.1"/>
<circle cx="532.9" cy="407.8" r="2.1"/>
<circle cx="540.1" cy="404.3" r="2.1"/>
<circle cx="549.8" cy="408.7" r="2.1"/>
<circle cx="547.0" cy="414.2" r="2.1"/>
<circle cx="566.6" cy="411.9" r="2.1"/>
<circle cx="554.5" cy="407.1" r="2.1"/>
<circle cx="542.6" cy="406.9" r="2.1"/>
<circle cx="542.7" cy="408.0" r="2.1"/>
<circle cx="535.8" cy="402.9" r="2.1"/>
<circle cx="547.3" cy="408.3" r="2.1"/>
<circle cx="539.8" cy="409.3" r="2.1"/>
<circle cx="549.5" cy="415.7" r="2.1"/>
<circle cx="553.4" cy="397.5" r="2.1"/>
<circle cx="547.2" cy="401.1" r="2.1"/>
<circle cx="571.7" cy="404.5" r="2.1"/>
<circle cx="562.0" cy="414.0" r="2.1"/>
<circle cx="541.8" cy="419.1" r="2.1"/>
<circle cx="554.9" cy="409.4" r="2.1"/>
<circle cx="555.4" cy="409.1" r="2.1"/>
<circle cx="536.7" cy="411.6" r="2.1"/>
<circle cx="555.4" cy="395.9" r="2.1"/>
<circle cx="551.5" cy="407.0" r="2.1"/>
<circle cx="542.7" cy="390.5" r="2.1"/>
<circle cx="541.0" cy="407.1" r="2.1"/>
<circle cx="539.5" cy="403.5" r="2.1"/>
<circle cx="541.1" cy="403.9" r="2.1"/>
<circle cx="538.7" cy="407.8" r="2.1"/>
<circle cx="543.1" cy="403.6" r="2.1"/>
<circle cx="560.6" cy="415.0" r="2.1"/>
<circle cx="541.3" cy="406.4" r="2.1"/>
<circle cx="560.2" cy="411.2" r="2.1"/>
<circle cx="542.5" cy="419.7" r="2.1"/>
</g>
<g fill="#6b8c30" fill-opacity="0.28">
<circle cx="529.6" cy="396.2" r="2.1"/>
<circle cx="596.8" cy="402.8" r="2.1"/>
<circle cx="554.5" cy="394.0" r="2.1"/>
<circle cx="533.1" cy="404.9" r="2.1"/>
<circle cx="548.1" cy="403.3" r="2.1"/>
<circle cx="550.7" cy="399.1" r="2.1"/>
<circle cx="566.2" cy="403.3" r="2.1"/>
<circle cx="542.8" cy="406.7" r="2.1"/>
<circle cx="536.7" cy="405.6" r="2.1"/>
<circle cx="567.4" cy="398.2" r="2.1"/>
<circle cx="541.1" cy="398.1" r="2.1"/>
<circle cx="540.0" cy="404.1" r="2.1"/>
<circle cx="556.6" cy="390.7" r="2.1"/>
<circle cx="557.1" cy="395.2" r="2.1"/>
<circle cx="543.5" cy="400.9" r="2.1"/>
<circle cx="557.5" cy="401.2" r="2.1"/>
<circle cx="548.6" cy="408.0" r="2.1"/>
<circle cx="597.1" cy="407.1" r="2.1"/>
<circle cx="540.1" cy="400.1" r="2.1"/>
<circle cx="538.3" cy="400.7" r="2.1"/>
<circle cx="547.7" cy="391.6" r="2.1"/>
<circle cx="555.7" cy="397.4" r="2.1"/>
<circle cx="544.0" cy="399.7" r="2.1"/>
<circle cx="533.9" cy="397.3" r="2.1"/>
<circle cx="536.0" cy="398.8" r="2.1"/>
<circle cx="558.6" cy="401.4" r="2.1"/>
<circle cx="594.4" cy="393.1" r="2.1"/>
<circle cx="586.9" cy="395.2" r="2.1"/>
<circle cx="534.9" cy="389.3" r="2.1"/>
<circle cx="559.0" cy="404.2" r="2.1"/>
<circle cx="543.8" cy="393.0" r="2.1"/>
<circle cx="560.8" cy="389.5" r="2.1"/>
<circle cx="543.1" cy="402.4" r="2.1"/>
<circle cx="542.9" cy="397.3" r="2.1"/>
<circle cx="557.6" cy="403.3" r="2.1"/>
<circle cx="551.5" cy="396.4" r="2.1"/>
<circle cx="558.4" cy="409.2" r="2.1"/>
<circle cx="540.7" cy="402.1" r="2.1"/>
<circle cx="537.9" cy="399.2" r="2.1"/>
<circle cx="553.0" cy="398.9" r="2.1"/>
<circle cx="540.6" cy="397.4" r="2.1"/>
<circle cx="551.1" cy="402.5" r="2.1"/>
<circle cx="541.8" cy="408.7" r="2.1"/>
<circle cx="534.3" cy="396.3" r="2.1"/>
<circle cx="563.3" cy="392.7" r="2.1"/>
<circle cx="536.7" cy="401.5" r="2.1"/>
<circle cx="546.1" cy="403.9" r="2.1"/>
<circle cx="557.6" cy="390.6" r="2.1"/>
<circle cx="550.0" cy="394.8" r="2.1"/>
<circle cx="547.9" cy="393.2" r="2.1"/>
<circle cx="564.0" cy="401.1" r="2.1"/>
<circle cx="547.0" cy="401.0" r="2.1"/>
<circle cx="545.1" cy="394.6" r="2.1"/>
<circle cx="555.3" cy="392.5" r="2.1"/>
<circle cx="544.4" cy="401.9" r="2.1"/>
<circle cx="545.3" cy="387.8" r="2.1"/>
<circle cx="535.4" cy="401.8" r="2.1"/>
<circle cx="547.9" cy="397.6" r="2.1"/>
<circle cx="536.3" cy="408.3" r="2.1"/>
<circle cx="541.6" cy="403.5" r="2.1"/>
</g>
<line x1="527.98" y1="404.40" x2="594.98" y2="414.40" stroke="#3d5b9b" stroke-width="1.9" />
<line x1="529.58" y1="398.50" x2="596.78" y2="398.00" stroke="#6b8c30" stroke-width="1.9" />
<text transform="translate(528.43,369.36) scale(1,1.12)" font-size="7.0" fill="#3d5b9b" stroke="#3d5b9b"><tspan font-style="italic">R</tspan> = −0.35, <tspan font-style="italic">p</tspan> = 0.0054</text>
<text transform="translate(528.43,378.46) scale(1,1.12)" font-size="7.0" fill="#6b8c30" stroke="#6b8c30"><tspan font-style="italic">R</tspan> = 0.094, <tspan font-style="italic">p</tspan> = 0.47</text>
</g>
<rect x="524.33" y="358.15" width="75.30" height="71.45" fill="none" stroke="#1a1a1a" stroke-width="1.1" />
<rect x="524.78" y="345.30" width="74.45" height="12.85" fill="#fff" stroke="#1a1a1a" stroke-width="1.1" />
<text transform="translate(561.98,354.15) scale(1,1.12)" font-size="7.05" fill="#1a1a1a" stroke="#1a1a1a" text-anchor="middle" >cg08804892</text>
<line x1="537.18" y1="429.60" x2="537.18" y2="432.20" stroke="#222" stroke-width="1.0" />
<text transform="translate(537.18,438.93) scale(1,1.12)" font-size="7.05" fill="#4d4d4d" stroke="#4d4d4d" text-anchor="middle" >50</text>
<line x1="555.98" y1="429.60" x2="555.98" y2="432.20" stroke="#222" stroke-width="1.0" />
<text transform="translate(555.98,438.93) scale(1,1.12)" font-size="7.05" fill="#4d4d4d" stroke="#4d4d4d" text-anchor="middle" >100</text>
<line x1="574.68" y1="429.60" x2="574.68" y2="432.20" stroke="#222" stroke-width="1.0" />
<text transform="translate(574.68,438.93) scale(1,1.12)" font-size="7.05" fill="#4d4d4d" stroke="#4d4d4d" text-anchor="middle" >150</text>
<line x1="593.68" y1="429.60" x2="593.68" y2="432.20" stroke="#222" stroke-width="1.0" />
<text transform="translate(593.68,438.93) scale(1,1.12)" font-size="7.05" fill="#4d4d4d" stroke="#4d4d4d" text-anchor="middle" >200</text>
<g clip-path="url(#c34)">
<g fill="#3d5b9b" fill-opacity="0.28">
<circle cx="608.2" cy="386.4" r="2.1"/>
<circle cx="675.2" cy="401.3" r="2.1"/>
<circle cx="625.2" cy="391.3" r="2.1"/>
<circle cx="624.8" cy="388.9" r="2.1"/>
<circle cx="641.1" cy="396.3" r="2.1"/>
<circle cx="619.3" cy="396.5" r="2.1"/>
<circle cx="651.3" cy="390.2" r="2.1"/>
<circle cx="624.4" cy="391.4" r="2.1"/>
<circle cx="651.5" cy="405.7" r="2.1"/>
<circle cx="620.5" cy="395.6" r="2.1"/>
<circle cx="638.0" cy="391.1" r="2.1"/>
<circle cx="629.7" cy="389.5" r="2.1"/>
<circle cx="622.9" cy="387.9" r="2.1"/>
<circle cx="615.5" cy="382.6" r="2.1"/>
<circle cx="629.2" cy="399.5" r="2.1"/>
<circle cx="618.6" cy="391.8" r="2.1"/>
<circle cx="633.4" cy="390.8" r="2.1"/>
<circle cx="647.8" cy="389.9" r="2.1"/>
<circle cx="613.9" cy="388.5" r="2.1"/>
<circle cx="620.0" cy="389.1" r="2.1"/>
<circle cx="643.6" cy="405.2" r="2.1"/>
<circle cx="656.2" cy="396.6" r="2.1"/>
<circle cx="622.8" cy="392.9" r="2.1"/>
<circle cx="651.2" cy="403.4" r="2.1"/>
<circle cx="634.2" cy="398.0" r="2.1"/>
<circle cx="622.5" cy="391.3" r="2.1"/>
<circle cx="620.6" cy="380.7" r="2.1"/>
<circle cx="615.8" cy="398.1" r="2.1"/>
<circle cx="644.5" cy="399.7" r="2.1"/>
<circle cx="611.6" cy="387.8" r="2.1"/>
<circle cx="663.1" cy="399.8" r="2.1"/>
<circle cx="614.3" cy="385.7" r="2.1"/>
<circle cx="613.2" cy="385.8" r="2.1"/>
<circle cx="620.3" cy="384.2" r="2.1"/>
<circle cx="630.1" cy="396.3" r="2.1"/>
<circle cx="627.3" cy="395.8" r="2.1"/>
<circle cx="646.9" cy="398.0" r="2.1"/>
<circle cx="634.7" cy="398.7" r="2.1"/>
<circle cx="622.8" cy="395.0" r="2.1"/>
<circle cx="622.9" cy="392.9" r="2.1"/>
<circle cx="616.0" cy="386.4" r="2.1"/>
<circle cx="627.5" cy="396.2" r="2.1"/>
<circle cx="620.1" cy="397.8" r="2.1"/>
<circle cx="629.8" cy="396.9" r="2.1"/>
<circle cx="633.6" cy="400.8" r="2.1"/>
<circle cx="627.4" cy="390.8" r="2.1"/>
<circle cx="652.0" cy="393.1" r="2.1"/>
<circle cx="642.3" cy="402.6" r="2.1"/>
<circle cx="622.1" cy="389.2" r="2.1"/>
<circle cx="635.2" cy="396.0" r="2.1"/>
<circle cx="635.6" cy="393.9" r="2.1"/>
<circle cx="617.0" cy="391.2" r="2.1"/>
<circle cx="635.7" cy="393.5" r="2.1"/>
<circle cx="631.7" cy="391.3" r="2.1"/>
<circle cx="623.0" cy="383.2" r="2.1"/>
<circle cx="621.3" cy="401.7" r="2.1"/>
<circle cx="619.8" cy="392.7" r="2.1"/>
<circle cx="621.4" cy="382.2" r="2.1"/>
<circle cx="619.0" cy="386.9" r="2.1"/>
<circle cx="623.4" cy="386.7" r="2.1"/>
<circle cx="640.8" cy="392.1" r="2.1"/>
<circle cx="621.6" cy="379.0" r="2.1"/>
<circle cx="640.4" cy="398.7" r="2.1"/>
<circle cx="622.7" cy="400.6" r="2.1"/>
</g>
<g fill="#6b8c30" fill-opacity="0.28">
<circle cx="609.8" cy="384.4" r="2.1"/>
<circle cx="677.0" cy="382.5" r="2.1"/>
<circle cx="634.7" cy="386.2" r="2.1"/>
<circle cx="613.4" cy="379.0" r="2.1"/>
<circle cx="628.4" cy="390.0" r="2.1"/>
<circle cx="631.0" cy="374.9" r="2.1"/>
<circle cx="646.4" cy="379.0" r="2.1"/>
<circle cx="623.1" cy="382.5" r="2.1"/>
<circle cx="617.0" cy="391.4" r="2.1"/>
<circle cx="647.6" cy="382.4" r="2.1"/>
<circle cx="621.4" cy="383.9" r="2.1"/>
<circle cx="620.3" cy="380.5" r="2.1"/>
<circle cx="636.9" cy="383.3" r="2.1"/>
<circle cx="637.3" cy="383.1" r="2.1"/>
<circle cx="623.8" cy="388.0" r="2.1"/>
<circle cx="637.8" cy="389.9" r="2.1"/>
<circle cx="628.9" cy="387.5" r="2.1"/>
<circle cx="677.4" cy="378.8" r="2.1"/>
<circle cx="620.3" cy="383.8" r="2.1"/>
<circle cx="618.6" cy="392.9" r="2.1"/>
<circle cx="627.9" cy="384.8" r="2.1"/>
<circle cx="635.9" cy="382.9" r="2.1"/>
<circle cx="624.2" cy="393.4" r="2.1"/>
<circle cx="614.2" cy="393.2" r="2.1"/>
<circle cx="616.2" cy="387.9" r="2.1"/>
<circle cx="638.8" cy="382.1" r="2.1"/>
<circle cx="674.7" cy="375.7" r="2.1"/>
<circle cx="667.1" cy="385.2" r="2.1"/>
<circle cx="615.2" cy="382.8" r="2.1"/>
<circle cx="639.3" cy="387.5" r="2.1"/>
<circle cx="624.0" cy="380.2" r="2.1"/>
<circle cx="641.1" cy="383.0" r="2.1"/>
<circle cx="623.4" cy="386.3" r="2.1"/>
<circle cx="623.2" cy="385.0" r="2.1"/>
<circle cx="637.8" cy="384.0" r="2.1"/>
<circle cx="631.8" cy="385.4" r="2.1"/>
<circle cx="638.6" cy="377.0" r="2.1"/>
<circle cx="620.9" cy="378.9" r="2.1"/>
<circle cx="618.1" cy="384.1" r="2.1"/>
<circle cx="633.3" cy="392.4" r="2.1"/>
<circle cx="620.9" cy="383.9" r="2.1"/>
<circle cx="631.4" cy="378.7" r="2.1"/>
<circle cx="622.1" cy="381.1" r="2.1"/>
<circle cx="614.6" cy="385.4" r="2.1"/>
<circle cx="643.5" cy="388.2" r="2.1"/>
<circle cx="617.0" cy="382.1" r="2.1"/>
<circle cx="626.4" cy="386.8" r="2.1"/>
<circle cx="637.8" cy="383.7" r="2.1"/>
<circle cx="630.3" cy="381.8" r="2.1"/>
<circle cx="628.2" cy="379.0" r="2.1"/>
<circle cx="644.2" cy="381.3" r="2.1"/>
<circle cx="627.3" cy="380.2" r="2.1"/>
<circle cx="625.4" cy="386.8" r="2.1"/>
<circle cx="635.5" cy="374.1" r="2.1"/>
<circle cx="624.6" cy="389.9" r="2.1"/>
<circle cx="625.5" cy="387.9" r="2.1"/>
<circle cx="615.7" cy="388.0" r="2.1"/>
<circle cx="628.2" cy="391.4" r="2.1"/>
<circle cx="616.5" cy="388.1" r="2.1"/>
<circle cx="621.9" cy="375.8" r="2.1"/>
</g>
<line x1="608.24" y1="389.40" x2="675.24" y2="402.70" stroke="#3d5b9b" stroke-width="1.9" />
<line x1="609.84" y1="385.70" x2="677.04" y2="378.70" stroke="#6b8c30" stroke-width="1.9" />
<text transform="translate(608.69,369.36) scale(1,1.12)" font-size="7.0" fill="#3d5b9b" stroke="#3d5b9b"><tspan font-style="italic">R</tspan> = −0.4, <tspan font-style="italic">p</tspan> = 0.0013</text>
<text transform="translate(608.69,378.46) scale(1,1.12)" font-size="7.0" fill="#6b8c30" stroke="#6b8c30"><tspan font-style="italic">R</tspan> = 0.18, <tspan font-style="italic">p</tspan> = 0.16</text>
</g>
<rect x="604.59" y="358.15" width="75.30" height="71.45" fill="none" stroke="#1a1a1a" stroke-width="1.1" />
<rect x="605.04" y="345.30" width="74.45" height="12.85" fill="#fff" stroke="#1a1a1a" stroke-width="1.1" />
<text transform="translate(642.24,354.15) scale(1,1.12)" font-size="7.05" fill="#1a1a1a" stroke="#1a1a1a" text-anchor="middle" >cg23715029</text>
<line x1="617.44" y1="429.60" x2="617.44" y2="432.20" stroke="#222" stroke-width="1.0" />
<text transform="translate(617.44,438.93) scale(1,1.12)" font-size="7.05" fill="#4d4d4d" stroke="#4d4d4d" text-anchor="middle" >50</text>
<line x1="636.24" y1="429.60" x2="636.24" y2="432.20" stroke="#222" stroke-width="1.0" />
<text transform="translate(636.24,438.93) scale(1,1.12)" font-size="7.05" fill="#4d4d4d" stroke="#4d4d4d" text-anchor="middle" >100</text>
<line x1="654.94" y1="429.60" x2="654.94" y2="432.20" stroke="#222" stroke-width="1.0" />
<text transform="translate(654.94,438.93) scale(1,1.12)" font-size="7.05" fill="#4d4d4d" stroke="#4d4d4d" text-anchor="middle" >150</text>
<line x1="673.94" y1="429.60" x2="673.94" y2="432.20" stroke="#222" stroke-width="1.0" />
<text transform="translate(673.94,438.93) scale(1,1.12)" font-size="7.05" fill="#4d4d4d" stroke="#4d4d4d" text-anchor="middle" >200</text>
<line x1="280.90" y1="414.50" x2="283.60" y2="414.50" stroke="#222" stroke-width="1.0" />
<text transform="translate(280.00,416.93) scale(1,1.12)" font-size="7.05" fill="#4d4d4d" stroke="#4d4d4d" text-anchor="end" >0.2</text>
<line x1="280.90" y1="391.95" x2="283.60" y2="391.95" stroke="#222" stroke-width="1.0" />
<text transform="translate(280.00,394.38) scale(1,1.12)" font-size="7.05" fill="#4d4d4d" stroke="#4d4d4d" text-anchor="end" >0.4</text>
<line x1="280.90" y1="369.40" x2="283.60" y2="369.40" stroke="#222" stroke-width="1.0" />
<text transform="translate(280.00,371.83) scale(1,1.12)" font-size="7.05" fill="#4d4d4d" stroke="#4d4d4d" text-anchor="end" >0.6</text>
<text x="0" y="0" font-size="8.6" fill="#1a1a1a" stroke="#1a1a1a" text-anchor="middle" transform="translate(266.37,393.88) rotate(-90) scale(1,1.12)">β−value</text>
<text transform="translate(482.00,448.55) scale(1,1.12)" font-size="8.6" fill="#1a1a1a" stroke="#1a1a1a" text-anchor="middle" >TMT−B</text>
<g clip-path="url(#c40)">
<g fill="#3d5b9b" fill-opacity="0.28">
<circle cx="287.2" cy="519.6" r="2.1"/>
<circle cx="356.0" cy="515.6" r="2.1"/>
<circle cx="355.6" cy="528.5" r="2.1"/>
<circle cx="289.2" cy="526.9" r="2.1"/>
<circle cx="294.3" cy="519.1" r="2.1"/>
<circle cx="355.8" cy="534.6" r="2.1"/>
<circle cx="328.3" cy="527.9" r="2.1"/>
<circle cx="356.1" cy="533.2" r="2.1"/>
<circle cx="355.7" cy="519.5" r="2.1"/>
<circle cx="325.3" cy="525.1" r="2.1"/>
<circle cx="345.5" cy="534.6" r="2.1"/>
<circle cx="355.7" cy="537.4" r="2.1"/>
<circle cx="295.2" cy="529.8" r="2.1"/>
<circle cx="355.6" cy="527.2" r="2.1"/>
<circle cx="338.0" cy="526.9" r="2.1"/>
<circle cx="351.5" cy="523.7" r="2.1"/>
<circle cx="297.7" cy="528.9" r="2.1"/>
<circle cx="328.0" cy="521.8" r="2.1"/>
<circle cx="355.9" cy="527.8" r="2.1"/>
<circle cx="355.4" cy="516.7" r="2.1"/>
<circle cx="290.6" cy="515.2" r="2.1"/>
<circle cx="343.0" cy="535.3" r="2.1"/>
<circle cx="292.3" cy="523.2" r="2.1"/>
<circle cx="355.9" cy="528.3" r="2.1"/>
<circle cx="300.8" cy="512.4" r="2.1"/>
<circle cx="312.1" cy="524.1" r="2.1"/>
<circle cx="289.1" cy="533.2" r="2.1"/>
<circle cx="355.7" cy="519.6" r="2.1"/>
<circle cx="294.8" cy="511.1" r="2.1"/>
<circle cx="293.4" cy="522.2" r="2.1"/>
<circle cx="308.2" cy="521.3" r="2.1"/>
<circle cx="332.5" cy="524.6" r="2.1"/>
<circle cx="306.2" cy="517.5" r="2.1"/>
<circle cx="348.9" cy="519.8" r="2.1"/>
<circle cx="289.1" cy="516.5" r="2.1"/>
<circle cx="320.6" cy="528.1" r="2.1"/>
<circle cx="355.4" cy="526.9" r="2.1"/>
<circle cx="346.3" cy="530.7" r="2.1"/>
<circle cx="355.8" cy="521.7" r="2.1"/>
<circle cx="297.2" cy="526.3" r="2.1"/>
<circle cx="356.1" cy="525.0" r="2.1"/>
<circle cx="305.5" cy="524.3" r="2.1"/>
<circle cx="355.8" cy="531.9" r="2.1"/>
<circle cx="356.3" cy="527.4" r="2.1"/>
<circle cx="355.7" cy="525.4" r="2.1"/>
<circle cx="290.0" cy="514.3" r="2.1"/>
<circle cx="355.5" cy="527.5" r="2.1"/>
<circle cx="355.9" cy="531.2" r="2.1"/>
<circle cx="291.2" cy="519.7" r="2.1"/>
<circle cx="356.1" cy="526.9" r="2.1"/>
<circle cx="299.3" cy="514.4" r="2.1"/>
<circle cx="355.6" cy="520.4" r="2.1"/>
<circle cx="289.4" cy="524.8" r="2.1"/>
<circle cx="356.1" cy="533.8" r="2.1"/>
<circle cx="345.8" cy="524.9" r="2.1"/>
<circle cx="351.3" cy="518.4" r="2.1"/>
<circle cx="296.6" cy="521.3" r="2.1"/>
<circle cx="327.5" cy="517.3" r="2.1"/>
<circle cx="289.8" cy="521.4" r="2.1"/>
<circle cx="356.3" cy="537.0" r="2.1"/>
<circle cx="356.1" cy="528.7" r="2.1"/>
<circle cx="294.6" cy="522.3" r="2.1"/>
<circle cx="355.8" cy="532.5" r="2.1"/>
<circle cx="290.5" cy="520.9" r="2.1"/>
</g>
<g fill="#6b8c30" fill-opacity="0.28">
<circle cx="287.2" cy="519.1" r="2.1"/>
<circle cx="356.0" cy="518.9" r="2.1"/>
<circle cx="291.9" cy="519.7" r="2.1"/>
<circle cx="337.4" cy="510.3" r="2.1"/>
<circle cx="315.6" cy="521.2" r="2.1"/>
<circle cx="356.1" cy="522.4" r="2.1"/>
<circle cx="345.3" cy="506.2" r="2.1"/>
<circle cx="298.7" cy="503.7" r="2.1"/>
<circle cx="337.2" cy="513.2" r="2.1"/>
<circle cx="355.7" cy="525.5" r="2.1"/>
<circle cx="300.2" cy="517.6" r="2.1"/>
<circle cx="289.2" cy="520.9" r="2.1"/>
<circle cx="356.2" cy="520.7" r="2.1"/>
<circle cx="320.5" cy="522.2" r="2.1"/>
<circle cx="331.1" cy="514.5" r="2.1"/>
<circle cx="356.2" cy="514.9" r="2.1"/>
<circle cx="355.0" cy="519.8" r="2.1"/>
<circle cx="331.1" cy="520.8" r="2.1"/>
<circle cx="294.8" cy="520.4" r="2.1"/>
<circle cx="301.9" cy="519.2" r="2.1"/>
<circle cx="289.9" cy="514.9" r="2.1"/>
<circle cx="299.2" cy="523.1" r="2.1"/>
<circle cx="299.8" cy="519.9" r="2.1"/>
<circle cx="340.0" cy="523.2" r="2.1"/>
<circle cx="290.1" cy="504.4" r="2.1"/>
<circle cx="330.1" cy="522.9" r="2.1"/>
<circle cx="321.9" cy="505.2" r="2.1"/>
<circle cx="356.2" cy="519.0" r="2.1"/>
<circle cx="306.8" cy="514.1" r="2.1"/>
<circle cx="333.7" cy="518.4" r="2.1"/>
<circle cx="342.2" cy="515.4" r="2.1"/>
<circle cx="355.7" cy="516.3" r="2.1"/>
<circle cx="355.5" cy="518.9" r="2.1"/>
<circle cx="287.4" cy="519.2" r="2.1"/>
<circle cx="293.6" cy="513.4" r="2.1"/>
<circle cx="355.5" cy="504.9" r="2.1"/>
<circle cx="292.4" cy="513.4" r="2.1"/>
<circle cx="303.2" cy="520.3" r="2.1"/>
<circle cx="351.0" cy="513.5" r="2.1"/>
<circle cx="320.2" cy="519.8" r="2.1"/>
<circle cx="307.8" cy="515.7" r="2.1"/>
<circle cx="329.1" cy="512.9" r="2.1"/>
<circle cx="342.7" cy="523.8" r="2.1"/>
<circle cx="289.1" cy="525.9" r="2.1"/>
<circle cx="338.2" cy="517.2" r="2.1"/>
<circle cx="308.7" cy="517.3" r="2.1"/>
<circle cx="343.3" cy="522.7" r="2.1"/>
<circle cx="292.8" cy="510.6" r="2.1"/>
<circle cx="300.8" cy="513.0" r="2.1"/>
<circle cx="325.7" cy="523.5" r="2.1"/>
<circle cx="356.2" cy="522.5" r="2.1"/>
<circle cx="355.9" cy="515.4" r="2.1"/>
<circle cx="327.6" cy="513.7" r="2.1"/>
<circle cx="288.7" cy="519.2" r="2.1"/>
<circle cx="337.3" cy="510.5" r="2.1"/>
<circle cx="300.4" cy="514.9" r="2.1"/>
<circle cx="356.1" cy="516.7" r="2.1"/>
<circle cx="293.3" cy="504.8" r="2.1"/>
<circle cx="355.2" cy="520.9" r="2.1"/>
<circle cx="301.9" cy="521.4" r="2.1"/>
</g>
<line x1="287.20" y1="522.60" x2="356.00" y2="527.20" stroke="#3d5b9b" stroke-width="1.9" />
<line x1="287.20" y1="517.40" x2="356.00" y2="517.90" stroke="#6b8c30" stroke-width="1.9" />
<text transform="translate(287.65,483.76) scale(1,1.12)" font-size="7.0" fill="#3d5b9b" stroke="#3d5b9b"><tspan font-style="italic">R</tspan> = −0.32, <tspan font-style="italic">p</tspan> = 0.0092</text>
<text transform="translate(287.65,492.86) scale(1,1.12)" font-size="7.0" fill="#6b8c30" stroke="#6b8c30"><tspan font-style="italic">R</tspan> = 0.019, <tspan font-style="italic">p</tspan> = 0.88</text>
</g>
<rect x="283.55" y="472.55" width="75.30" height="71.45" fill="none" stroke="#1a1a1a" stroke-width="1.1" />
<rect x="284.00" y="459.70" width="74.45" height="12.85" fill="#fff" stroke="#1a1a1a" stroke-width="1.1" />
<text transform="translate(321.20,468.55) scale(1,1.12)" font-size="7.05" fill="#1a1a1a" stroke="#1a1a1a" text-anchor="middle" >cg01855070</text>
<line x1="287.20" y1="544.00" x2="287.20" y2="546.60" stroke="#222" stroke-width="1.0" />
<text transform="translate(287.20,553.33) scale(1,1.12)" font-size="7.05" fill="#4d4d4d" stroke="#4d4d4d" text-anchor="middle" >70</text>
<line x1="299.10" y1="544.00" x2="299.10" y2="546.60" stroke="#222" stroke-width="1.0" />
<text transform="translate(299.10,553.33) scale(1,1.12)" font-size="7.05" fill="#4d4d4d" stroke="#4d4d4d" text-anchor="middle" >80</text>
<line x1="310.70" y1="544.00" x2="310.70" y2="546.60" stroke="#222" stroke-width="1.0" />
<text transform="translate(310.70,553.33) scale(1,1.12)" font-size="7.05" fill="#4d4d4d" stroke="#4d4d4d" text-anchor="middle" >90</text>
<line x1="322.40" y1="544.00" x2="322.40" y2="546.60" stroke="#222" stroke-width="1.0" />
<text transform="translate(322.40,553.33) scale(1,1.12)" font-size="7.05" fill="#4d4d4d" stroke="#4d4d4d" text-anchor="middle" >100</text>
<line x1="334.20" y1="544.00" x2="334.20" y2="546.60" stroke="#222" stroke-width="1.0" />
<text transform="translate(334.20,553.33) scale(1,1.12)" font-size="7.05" fill="#4d4d4d" stroke="#4d4d4d" text-anchor="middle" >110</text>
<line x1="346.10" y1="544.00" x2="346.10" y2="546.60" stroke="#222" stroke-width="1.0" />
<text transform="translate(346.10,553.33) scale(1,1.12)" font-size="7.05" fill="#4d4d4d" stroke="#4d4d4d" text-anchor="middle" >120</text>
<line x1="358.20" y1="544.00" x2="358.20" y2="546.60" stroke="#222" stroke-width="1.0" />
<text transform="translate(358.20,553.33) scale(1,1.12)" font-size="7.05" fill="#4d4d4d" stroke="#4d4d4d" text-anchor="middle" >130</text>
<g clip-path="url(#c41)">
<g fill="#3d5b9b" fill-opacity="0.28">
<circle cx="367.5" cy="508.9" r="2.1"/>
<circle cx="436.3" cy="502.3" r="2.1"/>
<circle cx="435.8" cy="503.1" r="2.1"/>
<circle cx="369.4" cy="499.4" r="2.1"/>
<circle cx="374.5" cy="497.3" r="2.1"/>
<circle cx="436.0" cy="520.2" r="2.1"/>
<circle cx="408.5" cy="502.1" r="2.1"/>
<circle cx="436.3" cy="508.1" r="2.1"/>
<circle cx="435.9" cy="510.7" r="2.1"/>
<circle cx="405.6" cy="509.2" r="2.1"/>
<circle cx="425.8" cy="516.2" r="2.1"/>
<circle cx="435.9" cy="504.1" r="2.1"/>
<circle cx="375.5" cy="508.7" r="2.1"/>
<circle cx="435.9" cy="510.4" r="2.1"/>
<circle cx="418.2" cy="502.0" r="2.1"/>
<circle cx="431.8" cy="510.1" r="2.1"/>
<circle cx="378.0" cy="497.1" r="2.1"/>
<circle cx="408.2" cy="515.5" r="2.1"/>
<circle cx="436.2" cy="505.9" r="2.1"/>
<circle cx="435.7" cy="514.8" r="2.1"/>
<circle cx="370.8" cy="510.4" r="2.1"/>
<circle cx="423.3" cy="505.3" r="2.1"/>
<circle cx="372.6" cy="499.2" r="2.1"/>
<circle cx="436.1" cy="510.4" r="2.1"/>
<circle cx="381.0" cy="499.2" r="2.1"/>
<circle cx="392.3" cy="510.3" r="2.1"/>
<circle cx="369.4" cy="504.5" r="2.1"/>
<circle cx="436.0" cy="505.7" r="2.1"/>
<circle cx="375.1" cy="500.6" r="2.1"/>
<circle cx="373.6" cy="507.7" r="2.1"/>
<circle cx="388.5" cy="497.8" r="2.1"/>
<circle cx="412.8" cy="516.3" r="2.1"/>
<circle cx="386.4" cy="501.1" r="2.1"/>
<circle cx="429.1" cy="508.0" r="2.1"/>
<circle cx="369.3" cy="498.8" r="2.1"/>
<circle cx="400.9" cy="514.8" r="2.1"/>
<circle cx="435.7" cy="513.9" r="2.1"/>
<circle cx="426.6" cy="515.5" r="2.1"/>
<circle cx="436.1" cy="513.1" r="2.1"/>
<circle cx="377.5" cy="504.8" r="2.1"/>
<circle cx="436.3" cy="518.5" r="2.1"/>
<circle cx="385.8" cy="508.5" r="2.1"/>
<circle cx="436.0" cy="511.9" r="2.1"/>
<circle cx="436.5" cy="512.7" r="2.1"/>
<circle cx="435.9" cy="513.5" r="2.1"/>
<circle cx="370.3" cy="505.1" r="2.1"/>
<circle cx="435.7" cy="508.8" r="2.1"/>
<circle cx="436.1" cy="501.4" r="2.1"/>
<circle cx="371.5" cy="514.4" r="2.1"/>
<circle cx="436.3" cy="503.0" r="2.1"/>
<circle cx="379.6" cy="493.4" r="2.1"/>
<circle cx="435.9" cy="506.0" r="2.1"/>
<circle cx="369.7" cy="513.6" r="2.1"/>
<circle cx="436.3" cy="516.0" r="2.1"/>
<circle cx="426.0" cy="505.6" r="2.1"/>
<circle cx="431.5" cy="510.6" r="2.1"/>
<circle cx="376.9" cy="504.1" r="2.1"/>
<circle cx="407.8" cy="496.8" r="2.1"/>
<circle cx="370.1" cy="501.9" r="2.1"/>
<circle cx="436.5" cy="511.2" r="2.1"/>
<circle cx="436.4" cy="515.8" r="2.1"/>
<circle cx="374.8" cy="497.8" r="2.1"/>
<circle cx="436.1" cy="498.0" r="2.1"/>
<circle cx="370.7" cy="495.5" r="2.1"/>
</g>
<g fill="#6b8c30" fill-opacity="0.28">
<circle cx="367.5" cy="500.9" r="2.1"/>
<circle cx="436.3" cy="498.0" r="2.1"/>
<circle cx="372.2" cy="499.9" r="2.1"/>
<circle cx="417.7" cy="498.8" r="2.1"/>
<circle cx="395.8" cy="496.6" r="2.1"/>
<circle cx="436.3" cy="490.5" r="2.1"/>
<circle cx="425.5" cy="500.2" r="2.1"/>
<circle cx="379.0" cy="500.9" r="2.1"/>
<circle cx="417.4" cy="501.0" r="2.1"/>
<circle cx="436.0" cy="504.1" r="2.1"/>
<circle cx="380.5" cy="492.5" r="2.1"/>
<circle cx="369.5" cy="487.0" r="2.1"/>
<circle cx="436.5" cy="488.3" r="2.1"/>
<circle cx="400.8" cy="509.5" r="2.1"/>
<circle cx="411.4" cy="493.4" r="2.1"/>
<circle cx="436.5" cy="499.7" r="2.1"/>
<circle cx="435.2" cy="497.5" r="2.1"/>
<circle cx="411.3" cy="502.0" r="2.1"/>
<circle cx="375.1" cy="515.7" r="2.1"/>
<circle cx="382.1" cy="496.2" r="2.1"/>
<circle cx="370.2" cy="498.3" r="2.1"/>
<circle cx="379.5" cy="495.8" r="2.1"/>
<circle cx="380.0" cy="500.2" r="2.1"/>
<circle cx="420.3" cy="500.7" r="2.1"/>
<circle cx="370.4" cy="494.1" r="2.1"/>
<circle cx="410.3" cy="505.0" r="2.1"/>
<circle cx="402.2" cy="504.4" r="2.1"/>
<circle cx="436.4" cy="499.9" r="2.1"/>
<circle cx="387.0" cy="498.2" r="2.1"/>
<circle cx="414.0" cy="496.9" r="2.1"/>
<circle cx="422.5" cy="489.4" r="2.1"/>
<circle cx="436.0" cy="501.0" r="2.1"/>
<circle cx="435.8" cy="492.5" r="2.1"/>
<circle cx="367.7" cy="496.6" r="2.1"/>
<circle cx="373.9" cy="504.2" r="2.1"/>
<circle cx="435.7" cy="492.8" r="2.1"/>
<circle cx="372.6" cy="496.4" r="2.1"/>
<circle cx="383.5" cy="503.3" r="2.1"/>
<circle cx="431.3" cy="507.4" r="2.1"/>
<circle cx="400.5" cy="494.8" r="2.1"/>
<circle cx="388.0" cy="504.5" r="2.1"/>
<circle cx="409.4" cy="494.8" r="2.1"/>
<circle cx="422.9" cy="499.9" r="2.1"/>
<circle cx="369.4" cy="501.7" r="2.1"/>
<circle cx="418.4" cy="492.1" r="2.1"/>
<circle cx="389.0" cy="504.0" r="2.1"/>
<circle cx="423.6" cy="507.3" r="2.1"/>
<circle cx="373.0" cy="499.3" r="2.1"/>
<circle cx="381.1" cy="500.3" r="2.1"/>
<circle cx="406.0" cy="492.2" r="2.1"/>
<circle cx="436.5" cy="506.9" r="2.1"/>
<circle cx="436.2" cy="497.9" r="2.1"/>
<circle cx="407.9" cy="491.6" r="2.1"/>
<circle cx="369.0" cy="503.1" r="2.1"/>
<circle cx="417.6" cy="490.4" r="2.1"/>
<circle cx="380.7" cy="495.3" r="2.1"/>
<circle cx="436.3" cy="486.5" r="2.1"/>
<circle cx="373.5" cy="506.2" r="2.1"/>
<circle cx="435.4" cy="509.1" r="2.1"/>
<circle cx="382.1" cy="495.6" r="2.1"/>
</g>
<line x1="367.46" y1="503.40" x2="436.26" y2="509.70" stroke="#3d5b9b" stroke-width="1.9" />
<line x1="367.46" y1="499.20" x2="436.26" y2="497.60" stroke="#6b8c30" stroke-width="1.9" />
<text transform="translate(367.91,483.76) scale(1,1.12)" font-size="7.0" fill="#3d5b9b" stroke="#3d5b9b"><tspan font-style="italic">R</tspan> = −0.34, <tspan font-style="italic">p</tspan> = 0.0052</text>
<text transform="translate(367.91,492.86) scale(1,1.12)" font-size="7.0" fill="#6b8c30" stroke="#6b8c30"><tspan font-style="italic">R</tspan> = 0.083, <tspan font-style="italic">p</tspan> = 0.52</text>
</g>
<rect x="363.81" y="472.55" width="75.30" height="71.45" fill="none" stroke="#1a1a1a" stroke-width="1.1" />
<rect x="364.26" y="459.70" width="74.45" height="12.85" fill="#fff" stroke="#1a1a1a" stroke-width="1.1" />
<text transform="translate(401.46,468.55) scale(1,1.12)" font-size="7.05" fill="#1a1a1a" stroke="#1a1a1a" text-anchor="middle" >cg03168947</text>
<line x1="367.46" y1="544.00" x2="367.46" y2="546.60" stroke="#222" stroke-width="1.0" />
<text transform="translate(367.46,553.33) scale(1,1.12)" font-size="7.05" fill="#4d4d4d" stroke="#4d4d4d" text-anchor="middle" >70</text>
<line x1="379.36" y1="544.00" x2="379.36" y2="546.60" stroke="#222" stroke-width="1.0" />
<text transform="translate(379.36,553.33) scale(1,1.12)" font-size="7.05" fill="#4d4d4d" stroke="#4d4d4d" text-anchor="middle" >80</text>
<line x1="390.96" y1="544.00" x2="390.96" y2="546.60" stroke="#222" stroke-width="1.0" />
<text transform="translate(390.96,553.33) scale(1,1.12)" font-size="7.05" fill="#4d4d4d" stroke="#4d4d4d" text-anchor="middle" >90</text>
<line x1="402.66" y1="544.00" x2="402.66" y2="546.60" stroke="#222" stroke-width="1.0" />
<text transform="translate(402.66,553.33) scale(1,1.12)" font-size="7.05" fill="#4d4d4d" stroke="#4d4d4d" text-anchor="middle" >100</text>
<line x1="414.46" y1="544.00" x2="414.46" y2="546.60" stroke="#222" stroke-width="1.0" />
<text transform="translate(414.46,553.33) scale(1,1.12)" font-size="7.05" fill="#4d4d4d" stroke="#4d4d4d" text-anchor="middle" >110</text>
<line x1="426.36" y1="544.00" x2="426.36" y2="546.60" stroke="#222" stroke-width="1.0" />
<text transform="translate(426.36,553.33) scale(1,1.12)" font-size="7.05" fill="#4d4d4d" stroke="#4d4d4d" text-anchor="middle" >120</text>
<line x1="438.46" y1="544.00" x2="438.46" y2="546.60" stroke="#222" stroke-width="1.0" />
<text transform="translate(438.46,553.33) scale(1,1.12)" font-size="7.05" fill="#4d4d4d" stroke="#4d4d4d" text-anchor="middle" >130</text>
<g clip-path="url(#c42)">
<g fill="#3d5b9b" fill-opacity="0.28">
<circle cx="447.7" cy="518.0" r="2.1"/>
<circle cx="516.5" cy="526.6" r="2.1"/>
<circle cx="516.1" cy="526.6" r="2.1"/>
<circle cx="449.7" cy="524.5" r="2.1"/>
<circle cx="454.8" cy="529.8" r="2.1"/>
<circle cx="516.3" cy="524.3" r="2.1"/>
<circle cx="488.8" cy="528.6" r="2.1"/>
<circle cx="516.6" cy="520.2" r="2.1"/>
<circle cx="516.2" cy="537.5" r="2.1"/>
<circle cx="485.8" cy="525.5" r="2.1"/>
<circle cx="506.0" cy="524.7" r="2.1"/>
<circle cx="516.2" cy="537.5" r="2.1"/>
<circle cx="455.7" cy="521.8" r="2.1"/>
<circle cx="516.1" cy="536.7" r="2.1"/>
<circle cx="498.5" cy="533.0" r="2.1"/>
<circle cx="512.0" cy="537.7" r="2.1"/>
<circle cx="458.3" cy="518.5" r="2.1"/>
<circle cx="488.5" cy="526.6" r="2.1"/>
<circle cx="516.5" cy="531.5" r="2.1"/>
<circle cx="516.0" cy="528.5" r="2.1"/>
<circle cx="451.1" cy="529.7" r="2.1"/>
<circle cx="503.5" cy="524.3" r="2.1"/>
<circle cx="452.9" cy="527.2" r="2.1"/>
<circle cx="516.4" cy="536.7" r="2.1"/>
<circle cx="461.3" cy="512.9" r="2.1"/>
<circle cx="472.6" cy="519.3" r="2.1"/>
<circle cx="449.6" cy="516.9" r="2.1"/>
<circle cx="516.3" cy="526.7" r="2.1"/>
<circle cx="455.3" cy="524.3" r="2.1"/>
<circle cx="453.9" cy="521.2" r="2.1"/>
<circle cx="468.8" cy="524.3" r="2.1"/>
<circle cx="493.0" cy="524.4" r="2.1"/>
<circle cx="466.7" cy="523.2" r="2.1"/>
<circle cx="509.4" cy="531.3" r="2.1"/>
<circle cx="449.6" cy="525.5" r="2.1"/>
<circle cx="481.1" cy="521.3" r="2.1"/>
<circle cx="516.0" cy="528.9" r="2.1"/>
<circle cx="506.8" cy="524.5" r="2.1"/>
<circle cx="516.3" cy="528.7" r="2.1"/>
<circle cx="457.7" cy="515.1" r="2.1"/>
<circle cx="516.6" cy="534.6" r="2.1"/>
<circle cx="466.0" cy="527.1" r="2.1"/>
<circle cx="516.3" cy="528.9" r="2.1"/>
<circle cx="516.8" cy="526.1" r="2.1"/>
<circle cx="516.2" cy="527.2" r="2.1"/>
<circle cx="450.5" cy="518.3" r="2.1"/>
<circle cx="516.0" cy="521.5" r="2.1"/>
<circle cx="516.4" cy="538.1" r="2.1"/>
<circle cx="451.7" cy="539.0" r="2.1"/>
<circle cx="516.6" cy="523.2" r="2.1"/>
<circle cx="459.9" cy="516.8" r="2.1"/>
<circle cx="516.1" cy="532.6" r="2.1"/>
<circle cx="449.9" cy="524.8" r="2.1"/>
<circle cx="516.6" cy="521.4" r="2.1"/>
<circle cx="506.3" cy="518.4" r="2.1"/>
<circle cx="511.8" cy="531.9" r="2.1"/>
<circle cx="457.1" cy="512.2" r="2.1"/>
<circle cx="488.0" cy="533.6" r="2.1"/>
<circle cx="450.3" cy="519.1" r="2.1"/>
<circle cx="516.8" cy="530.1" r="2.1"/>
<circle cx="516.7" cy="529.6" r="2.1"/>
<circle cx="455.1" cy="519.4" r="2.1"/>
<circle cx="516.3" cy="528.8" r="2.1"/>
<circle cx="451.0" cy="520.2" r="2.1"/>
</g>
<g fill="#6b8c30" fill-opacity="0.28">
<circle cx="447.7" cy="523.2" r="2.1"/>
<circle cx="516.5" cy="515.0" r="2.1"/>
<circle cx="452.4" cy="516.5" r="2.1"/>
<circle cx="498.0" cy="513.1" r="2.1"/>
<circle cx="476.1" cy="512.9" r="2.1"/>
<circle cx="516.6" cy="511.7" r="2.1"/>
<circle cx="505.8" cy="515.7" r="2.1"/>
<circle cx="459.2" cy="526.1" r="2.1"/>
<circle cx="497.7" cy="521.6" r="2.1"/>
<circle cx="516.2" cy="516.7" r="2.1"/>
<circle cx="460.7" cy="525.2" r="2.1"/>
<circle cx="449.7" cy="521.9" r="2.1"/>
<circle cx="516.7" cy="516.6" r="2.1"/>
<circle cx="481.1" cy="515.3" r="2.1"/>
<circle cx="491.7" cy="510.2" r="2.1"/>
<circle cx="516.7" cy="516.8" r="2.1"/>
<circle cx="515.5" cy="513.9" r="2.1"/>
<circle cx="491.6" cy="507.7" r="2.1"/>
<circle cx="455.4" cy="509.9" r="2.1"/>
<circle cx="462.4" cy="526.5" r="2.1"/>
<circle cx="450.5" cy="517.8" r="2.1"/>
<circle cx="459.8" cy="519.1" r="2.1"/>
<circle cx="460.3" cy="517.5" r="2.1"/>
<circle cx="500.6" cy="513.4" r="2.1"/>
<circle cx="450.6" cy="519.0" r="2.1"/>
<circle cx="490.6" cy="521.6" r="2.1"/>
<circle cx="482.5" cy="514.5" r="2.1"/>
<circle cx="516.7" cy="518.2" r="2.1"/>
<circle cx="467.3" cy="521.7" r="2.1"/>
<circle cx="494.2" cy="513.4" r="2.1"/>
<circle cx="502.8" cy="516.6" r="2.1"/>
<circle cx="516.2" cy="511.7" r="2.1"/>
<circle cx="516.0" cy="518.6" r="2.1"/>
<circle cx="447.9" cy="514.8" r="2.1"/>
<circle cx="454.1" cy="522.5" r="2.1"/>
<circle cx="516.0" cy="511.5" r="2.1"/>
<circle cx="452.9" cy="525.4" r="2.1"/>
<circle cx="463.7" cy="514.8" r="2.1"/>
<circle cx="511.5" cy="511.2" r="2.1"/>
<circle cx="480.8" cy="511.4" r="2.1"/>
<circle cx="468.3" cy="519.8" r="2.1"/>
<circle cx="489.6" cy="511.5" r="2.1"/>
<circle cx="503.2" cy="525.1" r="2.1"/>
<circle cx="449.6" cy="523.3" r="2.1"/>
<circle cx="498.7" cy="518.5" r="2.1"/>
<circle cx="469.3" cy="508.9" r="2.1"/>
<circle cx="503.8" cy="515.6" r="2.1"/>
<circle cx="453.3" cy="512.8" r="2.1"/>
<circle cx="461.3" cy="507.0" r="2.1"/>
<circle cx="486.2" cy="518.2" r="2.1"/>
<circle cx="516.7" cy="526.9" r="2.1"/>
<circle cx="516.5" cy="512.7" r="2.1"/>
<circle cx="488.2" cy="520.2" r="2.1"/>
<circle cx="449.2" cy="523.3" r="2.1"/>
<circle cx="497.8" cy="510.8" r="2.1"/>
<circle cx="460.9" cy="514.7" r="2.1"/>
<circle cx="516.6" cy="516.9" r="2.1"/>
<circle cx="453.8" cy="519.0" r="2.1"/>
<circle cx="515.7" cy="509.6" r="2.1"/>
<circle cx="462.4" cy="517.6" r="2.1"/>
</g>
<line x1="447.72" y1="521.40" x2="516.52" y2="529.60" stroke="#3d5b9b" stroke-width="1.9" />
<line x1="447.72" y1="516.70" x2="516.52" y2="515.50" stroke="#6b8c30" stroke-width="1.9" />
<text transform="translate(448.17,483.76) scale(1,1.12)" font-size="7.0" fill="#3d5b9b" stroke="#3d5b9b"><tspan font-style="italic">R</tspan> = −0.44, <tspan font-style="italic">p</tspan> = 0.00021</text>
<text transform="translate(448.17,492.86) scale(1,1.12)" font-size="7.0" fill="#6b8c30" stroke="#6b8c30"><tspan font-style="italic">R</tspan> = 0.049, <tspan font-style="italic">p</tspan> = 0.7</text>
</g>
<rect x="444.07" y="472.55" width="75.30" height="71.45" fill="none" stroke="#1a1a1a" stroke-width="1.1" />
<rect x="444.52" y="459.70" width="74.45" height="12.85" fill="#fff" stroke="#1a1a1a" stroke-width="1.1" />
<text transform="translate(481.72,468.55) scale(1,1.12)" font-size="7.05" fill="#1a1a1a" stroke="#1a1a1a" text-anchor="middle" >cg08508763</text>
<line x1="447.72" y1="544.00" x2="447.72" y2="546.60" stroke="#222" stroke-width="1.0" />
<text transform="translate(447.72,553.33) scale(1,1.12)" font-size="7.05" fill="#4d4d4d" stroke="#4d4d4d" text-anchor="middle" >70</text>
<line x1="459.62" y1="544.00" x2="459.62" y2="546.60" stroke="#222" stroke-width="1.0" />
<text transform="translate(459.62,553.33) scale(1,1.12)" font-size="7.05" fill="#4d4d4d" stroke="#4d4d4d" text-anchor="middle" >80</text>
<line x1="471.22" y1="544.00" x2="471.22" y2="546.60" stroke="#222" stroke-width="1.0" />
<text transform="translate(471.22,553.33) scale(1,1.12)" font-size="7.05" fill="#4d4d4d" stroke="#4d4d4d" text-anchor="middle" >90</text>
<line x1="482.92" y1="544.00" x2="482.92" y2="546.60" stroke="#222" stroke-width="1.0" />
<text transform="translate(482.92,553.33) scale(1,1.12)" font-size="7.05" fill="#4d4d4d" stroke="#4d4d4d" text-anchor="middle" >100</text>
<line x1="494.72" y1="544.00" x2="494.72" y2="546.60" stroke="#222" stroke-width="1.0" />
<text transform="translate(494.72,553.33) scale(1,1.12)" font-size="7.05" fill="#4d4d4d" stroke="#4d4d4d" text-anchor="middle" >110</text>
<line x1="506.62" y1="544.00" x2="506.62" y2="546.60" stroke="#222" stroke-width="1.0" />
<text transform="translate(506.62,553.33) scale(1,1.12)" font-size="7.05" fill="#4d4d4d" stroke="#4d4d4d" text-anchor="middle" >120</text>
<line x1="518.72" y1="544.00" x2="518.72" y2="546.60" stroke="#222" stroke-width="1.0" />
<text transform="translate(518.72,553.33) scale(1,1.12)" font-size="7.05" fill="#4d4d4d" stroke="#4d4d4d" text-anchor="middle" >130</text>
<g clip-path="url(#c43)">
<g fill="#3d5b9b" fill-opacity="0.28">
<circle cx="528.0" cy="517.8" r="2.1"/>
<circle cx="596.8" cy="528.2" r="2.1"/>
<circle cx="596.4" cy="515.0" r="2.1"/>
<circle cx="529.9" cy="515.6" r="2.1"/>
<circle cx="535.0" cy="516.3" r="2.1"/>
<circle cx="596.6" cy="521.6" r="2.1"/>
<circle cx="569.1" cy="525.1" r="2.1"/>
<circle cx="596.8" cy="520.0" r="2.1"/>
<circle cx="596.4" cy="537.5" r="2.1"/>
<circle cx="566.1" cy="517.4" r="2.1"/>
<circle cx="586.3" cy="526.9" r="2.1"/>
<circle cx="596.5" cy="528.6" r="2.1"/>
<circle cx="536.0" cy="524.0" r="2.1"/>
<circle cx="596.4" cy="522.2" r="2.1"/>
<circle cx="578.7" cy="517.7" r="2.1"/>
<circle cx="592.3" cy="521.7" r="2.1"/>
<circle cx="538.5" cy="522.6" r="2.1"/>
<circle cx="568.8" cy="521.9" r="2.1"/>
<circle cx="596.7" cy="526.3" r="2.1"/>
<circle cx="596.2" cy="526.2" r="2.1"/>
<circle cx="531.3" cy="514.0" r="2.1"/>
<circle cx="583.8" cy="517.5" r="2.1"/>
<circle cx="533.1" cy="526.3" r="2.1"/>
<circle cx="596.6" cy="520.8" r="2.1"/>
<circle cx="541.6" cy="511.1" r="2.1"/>
<circle cx="552.8" cy="529.8" r="2.1"/>
<circle cx="529.9" cy="514.2" r="2.1"/>
<circle cx="596.5" cy="518.4" r="2.1"/>
<circle cx="535.6" cy="524.0" r="2.1"/>
<circle cx="534.2" cy="513.0" r="2.1"/>
<circle cx="549.0" cy="515.4" r="2.1"/>
<circle cx="573.3" cy="527.1" r="2.1"/>
<circle cx="546.9" cy="515.5" r="2.1"/>
<circle cx="589.7" cy="535.8" r="2.1"/>
<circle cx="529.8" cy="519.0" r="2.1"/>
<circle cx="561.4" cy="534.7" r="2.1"/>
<circle cx="596.2" cy="523.9" r="2.1"/>
<circle cx="587.1" cy="522.9" r="2.1"/>
<circle cx="596.6" cy="520.0" r="2.1"/>
<circle cx="538.0" cy="518.0" r="2.1"/>
<circle cx="596.9" cy="520.7" r="2.1"/>
<circle cx="546.3" cy="519.6" r="2.1"/>
<circle cx="596.5" cy="527.3" r="2.1"/>
<circle cx="597.0" cy="516.7" r="2.1"/>
<circle cx="596.4" cy="518.5" r="2.1"/>
<circle cx="530.8" cy="507.7" r="2.1"/>
<circle cx="596.2" cy="531.1" r="2.1"/>
<circle cx="596.7" cy="522.9" r="2.1"/>
<circle cx="532.0" cy="518.6" r="2.1"/>
<circle cx="596.9" cy="523.0" r="2.1"/>
<circle cx="540.1" cy="524.5" r="2.1"/>
<circle cx="596.4" cy="524.9" r="2.1"/>
<circle cx="530.2" cy="523.0" r="2.1"/>
<circle cx="596.8" cy="522.4" r="2.1"/>
<circle cx="586.5" cy="521.9" r="2.1"/>
<circle cx="592.0" cy="522.7" r="2.1"/>
<circle cx="537.4" cy="509.4" r="2.1"/>
<circle cx="568.3" cy="526.9" r="2.1"/>
<circle cx="530.6" cy="510.4" r="2.1"/>
<circle cx="597.0" cy="518.1" r="2.1"/>
<circle cx="596.9" cy="526.8" r="2.1"/>
<circle cx="535.4" cy="519.2" r="2.1"/>
<circle cx="596.6" cy="527.5" r="2.1"/>
<circle cx="531.2" cy="527.5" r="2.1"/>
</g>
<g fill="#6b8c30" fill-opacity="0.28">
<circle cx="528.0" cy="522.4" r="2.1"/>
<circle cx="596.8" cy="519.2" r="2.1"/>
<circle cx="532.7" cy="511.5" r="2.1"/>
<circle cx="578.2" cy="522.8" r="2.1"/>
<circle cx="556.4" cy="507.8" r="2.1"/>
<circle cx="596.9" cy="511.6" r="2.1"/>
<circle cx="586.0" cy="517.3" r="2.1"/>
<circle cx="539.5" cy="511.5" r="2.1"/>
<circle cx="578.0" cy="511.6" r="2.1"/>
<circle cx="596.5" cy="510.2" r="2.1"/>
<circle cx="541.0" cy="519.7" r="2.1"/>
<circle cx="530.0" cy="499.8" r="2.1"/>
<circle cx="597.0" cy="518.6" r="2.1"/>
<circle cx="561.3" cy="517.9" r="2.1"/>
<circle cx="571.9" cy="511.9" r="2.1"/>
<circle cx="597.0" cy="514.9" r="2.1"/>
<circle cx="595.8" cy="507.0" r="2.1"/>
<circle cx="571.8" cy="518.0" r="2.1"/>
<circle cx="535.6" cy="528.5" r="2.1"/>
<circle cx="542.7" cy="507.8" r="2.1"/>
<circle cx="530.7" cy="519.9" r="2.1"/>
<circle cx="540.0" cy="512.3" r="2.1"/>
<circle cx="540.5" cy="510.8" r="2.1"/>
<circle cx="580.8" cy="509.6" r="2.1"/>
<circle cx="530.9" cy="511.7" r="2.1"/>
<circle cx="570.9" cy="505.8" r="2.1"/>
<circle cx="562.7" cy="505.3" r="2.1"/>
<circle cx="597.0" cy="520.6" r="2.1"/>
<circle cx="547.5" cy="512.4" r="2.1"/>
<circle cx="574.5" cy="515.1" r="2.1"/>
<circle cx="583.0" cy="513.8" r="2.1"/>
<circle cx="596.5" cy="514.5" r="2.1"/>
<circle cx="596.3" cy="504.1" r="2.1"/>
<circle cx="528.2" cy="507.8" r="2.1"/>
<circle cx="534.4" cy="515.9" r="2.1"/>
<circle cx="596.2" cy="517.2" r="2.1"/>
<circle cx="533.2" cy="506.7" r="2.1"/>
<circle cx="544.0" cy="509.5" r="2.1"/>
<circle cx="591.8" cy="506.5" r="2.1"/>
<circle cx="561.0" cy="515.8" r="2.1"/>
<circle cx="548.6" cy="514.3" r="2.1"/>
<circle cx="569.9" cy="512.4" r="2.1"/>
<circle cx="583.4" cy="508.8" r="2.1"/>
<circle cx="529.9" cy="514.5" r="2.1"/>
<circle cx="579.0" cy="512.3" r="2.1"/>
<circle cx="549.5" cy="508.6" r="2.1"/>
<circle cx="584.1" cy="513.9" r="2.1"/>
<circle cx="533.6" cy="509.2" r="2.1"/>
<circle cx="541.6" cy="517.5" r="2.1"/>
<circle cx="566.5" cy="515.6" r="2.1"/>
<circle cx="597.0" cy="508.4" r="2.1"/>
<circle cx="596.7" cy="515.1" r="2.1"/>
<circle cx="568.4" cy="512.6" r="2.1"/>
<circle cx="529.5" cy="509.0" r="2.1"/>
<circle cx="578.1" cy="507.4" r="2.1"/>
<circle cx="541.2" cy="503.9" r="2.1"/>
<circle cx="596.9" cy="506.1" r="2.1"/>
<circle cx="534.0" cy="514.4" r="2.1"/>
<circle cx="595.9" cy="518.3" r="2.1"/>
<circle cx="542.6" cy="509.3" r="2.1"/>
</g>
<line x1="527.98" y1="518.40" x2="596.78" y2="523.30" stroke="#3d5b9b" stroke-width="1.9" />
<line x1="527.98" y1="512.70" x2="596.78" y2="512.00" stroke="#6b8c30" stroke-width="1.9" />
<text transform="translate(528.43,483.76) scale(1,1.12)" font-size="7.0" fill="#3d5b9b" stroke="#3d5b9b"><tspan font-style="italic">R</tspan> = −0.31, <tspan font-style="italic">p</tspan> = 0.012</text>
<text transform="translate(528.43,492.86) scale(1,1.12)" font-size="7.0" fill="#6b8c30" stroke="#6b8c30"><tspan font-style="italic">R</tspan> = 0.026, <tspan font-style="italic">p</tspan> = 0.84</text>
</g>
<rect x="524.33" y="472.55" width="75.30" height="71.45" fill="none" stroke="#1a1a1a" stroke-width="1.1" />
<rect x="524.78" y="459.70" width="74.45" height="12.85" fill="#fff" stroke="#1a1a1a" stroke-width="1.1" />
<text transform="translate(561.98,468.55) scale(1,1.12)" font-size="7.05" fill="#1a1a1a" stroke="#1a1a1a" text-anchor="middle" >cg08804892</text>
<line x1="527.98" y1="544.00" x2="527.98" y2="546.60" stroke="#222" stroke-width="1.0" />
<text transform="translate(527.98,553.33) scale(1,1.12)" font-size="7.05" fill="#4d4d4d" stroke="#4d4d4d" text-anchor="middle" >70</text>
<line x1="539.88" y1="544.00" x2="539.88" y2="546.60" stroke="#222" stroke-width="1.0" />
<text transform="translate(539.88,553.33) scale(1,1.12)" font-size="7.05" fill="#4d4d4d" stroke="#4d4d4d" text-anchor="middle" >80</text>
<line x1="551.48" y1="544.00" x2="551.48" y2="546.60" stroke="#222" stroke-width="1.0" />
<text transform="translate(551.48,553.33) scale(1,1.12)" font-size="7.05" fill="#4d4d4d" stroke="#4d4d4d" text-anchor="middle" >90</text>
<line x1="563.18" y1="544.00" x2="563.18" y2="546.60" stroke="#222" stroke-width="1.0" />
<text transform="translate(563.18,553.33) scale(1,1.12)" font-size="7.05" fill="#4d4d4d" stroke="#4d4d4d" text-anchor="middle" >100</text>
<line x1="574.98" y1="544.00" x2="574.98" y2="546.60" stroke="#222" stroke-width="1.0" />
<text transform="translate(574.98,553.33) scale(1,1.12)" font-size="7.05" fill="#4d4d4d" stroke="#4d4d4d" text-anchor="middle" >110</text>
<line x1="586.88" y1="544.00" x2="586.88" y2="546.60" stroke="#222" stroke-width="1.0" />
<text transform="translate(586.88,553.33) scale(1,1.12)" font-size="7.05" fill="#4d4d4d" stroke="#4d4d4d" text-anchor="middle" >120</text>
<line x1="598.98" y1="544.00" x2="598.98" y2="546.60" stroke="#222" stroke-width="1.0" />
<text transform="translate(598.98,553.33) scale(1,1.12)" font-size="7.05" fill="#4d4d4d" stroke="#4d4d4d" text-anchor="middle" >130</text>
<g clip-path="url(#c44)">
<g fill="#3d5b9b" fill-opacity="0.28">
<circle cx="608.2" cy="505.4" r="2.1"/>
<circle cx="677.0" cy="511.5" r="2.1"/>
<circle cx="676.6" cy="513.7" r="2.1"/>
<circle cx="610.2" cy="507.0" r="2.1"/>
<circle cx="615.3" cy="511.5" r="2.1"/>
<circle cx="676.8" cy="513.7" r="2.1"/>
<circle cx="649.3" cy="503.7" r="2.1"/>
<circle cx="677.1" cy="511.8" r="2.1"/>
<circle cx="676.7" cy="497.5" r="2.1"/>
<circle cx="646.3" cy="506.5" r="2.1"/>
<circle cx="666.6" cy="509.0" r="2.1"/>
<circle cx="676.7" cy="512.7" r="2.1"/>
<circle cx="616.3" cy="503.6" r="2.1"/>
<circle cx="676.6" cy="514.0" r="2.1"/>
<circle cx="659.0" cy="515.2" r="2.1"/>
<circle cx="672.6" cy="505.0" r="2.1"/>
<circle cx="618.8" cy="502.6" r="2.1"/>
<circle cx="649.0" cy="509.0" r="2.1"/>
<circle cx="677.0" cy="512.2" r="2.1"/>
<circle cx="676.5" cy="510.4" r="2.1"/>
<circle cx="611.6" cy="509.2" r="2.1"/>
<circle cx="664.0" cy="502.6" r="2.1"/>
<circle cx="613.4" cy="509.0" r="2.1"/>
<circle cx="676.9" cy="515.8" r="2.1"/>
<circle cx="621.8" cy="511.4" r="2.1"/>
<circle cx="633.1" cy="508.7" r="2.1"/>
<circle cx="610.1" cy="503.5" r="2.1"/>
<circle cx="676.8" cy="511.8" r="2.1"/>
<circle cx="615.9" cy="504.8" r="2.1"/>
<circle cx="614.4" cy="496.8" r="2.1"/>
<circle cx="629.3" cy="503.0" r="2.1"/>
<circle cx="653.6" cy="507.7" r="2.1"/>
<circle cx="627.2" cy="503.3" r="2.1"/>
<circle cx="669.9" cy="504.3" r="2.1"/>
<circle cx="610.1" cy="503.5" r="2.1"/>
<circle cx="641.7" cy="505.1" r="2.1"/>
<circle cx="676.5" cy="510.0" r="2.1"/>
<circle cx="667.4" cy="508.7" r="2.1"/>
<circle cx="676.9" cy="510.6" r="2.1"/>
<circle cx="618.3" cy="510.5" r="2.1"/>
<circle cx="677.1" cy="510.4" r="2.1"/>
<circle cx="626.6" cy="508.1" r="2.1"/>
<circle cx="676.8" cy="503.3" r="2.1"/>
<circle cx="677.3" cy="494.4" r="2.1"/>
<circle cx="676.7" cy="507.6" r="2.1"/>
<circle cx="611.0" cy="508.3" r="2.1"/>
<circle cx="676.5" cy="507.9" r="2.1"/>
<circle cx="676.9" cy="506.4" r="2.1"/>
<circle cx="612.2" cy="498.5" r="2.1"/>
<circle cx="677.1" cy="514.3" r="2.1"/>
<circle cx="620.4" cy="502.8" r="2.1"/>
<circle cx="676.7" cy="510.9" r="2.1"/>
<circle cx="610.5" cy="510.6" r="2.1"/>
<circle cx="677.1" cy="512.5" r="2.1"/>
<circle cx="666.8" cy="520.6" r="2.1"/>
<circle cx="672.3" cy="508.7" r="2.1"/>
<circle cx="617.7" cy="510.3" r="2.1"/>
<circle cx="648.6" cy="511.2" r="2.1"/>
<circle cx="610.9" cy="501.4" r="2.1"/>
<circle cx="677.3" cy="510.0" r="2.1"/>
<circle cx="677.2" cy="506.8" r="2.1"/>
<circle cx="615.6" cy="499.8" r="2.1"/>
<circle cx="676.9" cy="511.2" r="2.1"/>
<circle cx="611.5" cy="500.8" r="2.1"/>
</g>
<g fill="#6b8c30" fill-opacity="0.28">
<circle cx="608.2" cy="507.9" r="2.1"/>
<circle cx="677.0" cy="493.4" r="2.1"/>
<circle cx="613.0" cy="496.2" r="2.1"/>
<circle cx="658.5" cy="498.3" r="2.1"/>
<circle cx="636.6" cy="495.7" r="2.1"/>
<circle cx="677.1" cy="497.6" r="2.1"/>
<circle cx="666.3" cy="494.4" r="2.1"/>
<circle cx="619.7" cy="491.5" r="2.1"/>
<circle cx="658.2" cy="485.3" r="2.1"/>
<circle cx="676.8" cy="490.6" r="2.1"/>
<circle cx="621.2" cy="506.8" r="2.1"/>
<circle cx="610.3" cy="501.5" r="2.1"/>
<circle cx="677.3" cy="498.1" r="2.1"/>
<circle cx="641.6" cy="495.9" r="2.1"/>
<circle cx="652.2" cy="497.2" r="2.1"/>
<circle cx="677.3" cy="498.8" r="2.1"/>
<circle cx="676.0" cy="490.1" r="2.1"/>
<circle cx="652.1" cy="493.8" r="2.1"/>
<circle cx="615.9" cy="494.4" r="2.1"/>
<circle cx="622.9" cy="505.3" r="2.1"/>
<circle cx="611.0" cy="493.6" r="2.1"/>
<circle cx="620.3" cy="505.0" r="2.1"/>
<circle cx="620.8" cy="496.4" r="2.1"/>
<circle cx="661.1" cy="511.9" r="2.1"/>
<circle cx="611.2" cy="498.7" r="2.1"/>
<circle cx="651.1" cy="498.2" r="2.1"/>
<circle cx="643.0" cy="505.3" r="2.1"/>
<circle cx="677.2" cy="501.8" r="2.1"/>
<circle cx="627.8" cy="503.5" r="2.1"/>
<circle cx="654.7" cy="492.4" r="2.1"/>
<circle cx="663.3" cy="503.6" r="2.1"/>
<circle cx="676.7" cy="506.0" r="2.1"/>
<circle cx="676.5" cy="496.8" r="2.1"/>
<circle cx="608.4" cy="496.7" r="2.1"/>
<circle cx="614.7" cy="493.3" r="2.1"/>
<circle cx="676.5" cy="502.6" r="2.1"/>
<circle cx="613.4" cy="500.6" r="2.1"/>
<circle cx="624.2" cy="498.8" r="2.1"/>
<circle cx="672.1" cy="491.0" r="2.1"/>
<circle cx="641.3" cy="506.7" r="2.1"/>
<circle cx="628.8" cy="503.2" r="2.1"/>
<circle cx="650.2" cy="497.9" r="2.1"/>
<circle cx="663.7" cy="505.3" r="2.1"/>
<circle cx="610.1" cy="494.2" r="2.1"/>
<circle cx="659.2" cy="502.4" r="2.1"/>
<circle cx="629.8" cy="493.4" r="2.1"/>
<circle cx="664.4" cy="505.0" r="2.1"/>
<circle cx="613.8" cy="497.6" r="2.1"/>
<circle cx="621.9" cy="505.2" r="2.1"/>
<circle cx="646.8" cy="496.0" r="2.1"/>
<circle cx="677.3" cy="499.4" r="2.1"/>
<circle cx="677.0" cy="503.2" r="2.1"/>
<circle cx="648.7" cy="493.4" r="2.1"/>
<circle cx="609.8" cy="499.7" r="2.1"/>
<circle cx="658.4" cy="493.5" r="2.1"/>
<circle cx="621.5" cy="503.3" r="2.1"/>
<circle cx="677.1" cy="494.2" r="2.1"/>
<circle cx="614.3" cy="497.1" r="2.1"/>
<circle cx="676.2" cy="496.3" r="2.1"/>
<circle cx="622.9" cy="504.9" r="2.1"/>
</g>
<line x1="608.24" y1="504.60" x2="677.04" y2="509.70" stroke="#3d5b9b" stroke-width="1.9" />
<line x1="608.24" y1="499.20" x2="677.04" y2="497.30" stroke="#6b8c30" stroke-width="1.9" />
<text transform="translate(608.69,483.76) scale(1,1.12)" font-size="7.0" fill="#3d5b9b" stroke="#3d5b9b"><tspan font-style="italic">R</tspan> = −0.27, <tspan font-style="italic">p</tspan> = 0.029</text>
<text transform="translate(608.69,492.86) scale(1,1.12)" font-size="7.0" fill="#6b8c30" stroke="#6b8c30"><tspan font-style="italic">R</tspan> = 0.11, <tspan font-style="italic">p</tspan> = 0.41</text>
</g>
<rect x="604.59" y="472.55" width="75.30" height="71.45" fill="none" stroke="#1a1a1a" stroke-width="1.1" />
<rect x="605.04" y="459.70" width="74.45" height="12.85" fill="#fff" stroke="#1a1a1a" stroke-width="1.1" />
<text transform="translate(642.24,468.55) scale(1,1.12)" font-size="7.05" fill="#1a1a1a" stroke="#1a1a1a" text-anchor="middle" >cg23715029</text>
<line x1="608.24" y1="544.00" x2="608.24" y2="546.60" stroke="#222" stroke-width="1.0" />
<text transform="translate(608.24,553.33) scale(1,1.12)" font-size="7.05" fill="#4d4d4d" stroke="#4d4d4d" text-anchor="middle" >70</text>
<line x1="620.14" y1="544.00" x2="620.14" y2="546.60" stroke="#222" stroke-width="1.0" />
<text transform="translate(620.14,553.33) scale(1,1.12)" font-size="7.05" fill="#4d4d4d" stroke="#4d4d4d" text-anchor="middle" >80</text>
<line x1="631.74" y1="544.00" x2="631.74" y2="546.60" stroke="#222" stroke-width="1.0" />
<text transform="translate(631.74,553.33) scale(1,1.12)" font-size="7.05" fill="#4d4d4d" stroke="#4d4d4d" text-anchor="middle" >90</text>
<line x1="643.44" y1="544.00" x2="643.44" y2="546.60" stroke="#222" stroke-width="1.0" />
<text transform="translate(643.44,553.33) scale(1,1.12)" font-size="7.05" fill="#4d4d4d" stroke="#4d4d4d" text-anchor="middle" >100</text>
<line x1="655.24" y1="544.00" x2="655.24" y2="546.60" stroke="#222" stroke-width="1.0" />
<text transform="translate(655.24,553.33) scale(1,1.12)" font-size="7.05" fill="#4d4d4d" stroke="#4d4d4d" text-anchor="middle" >110</text>
<line x1="667.14" y1="544.00" x2="667.14" y2="546.60" stroke="#222" stroke-width="1.0" />
<text transform="translate(667.14,553.33) scale(1,1.12)" font-size="7.05" fill="#4d4d4d" stroke="#4d4d4d" text-anchor="middle" >120</text>
<line x1="679.24" y1="544.00" x2="679.24" y2="546.60" stroke="#222" stroke-width="1.0" />
<text transform="translate(679.24,553.33) scale(1,1.12)" font-size="7.05" fill="#4d4d4d" stroke="#4d4d4d" text-anchor="middle" >130</text>
<line x1="280.90" y1="528.90" x2="283.60" y2="528.90" stroke="#222" stroke-width="1.0" />
<text transform="translate(280.00,531.33) scale(1,1.12)" font-size="7.05" fill="#4d4d4d" stroke="#4d4d4d" text-anchor="end" >0.2</text>
<line x1="280.90" y1="506.35" x2="283.60" y2="506.35" stroke="#222" stroke-width="1.0" />
<text transform="translate(280.00,508.78) scale(1,1.12)" font-size="7.05" fill="#4d4d4d" stroke="#4d4d4d" text-anchor="end" >0.4</text>
<line x1="280.90" y1="483.80" x2="283.60" y2="483.80" stroke="#222" stroke-width="1.0" />
<text transform="translate(280.00,486.23) scale(1,1.12)" font-size="7.05" fill="#4d4d4d" stroke="#4d4d4d" text-anchor="end" >0.6</text>
<text x="0" y="0" font-size="8.6" fill="#1a1a1a" stroke="#1a1a1a" text-anchor="middle" transform="translate(266.37,508.27) rotate(-90) scale(1,1.12)">β−value</text>
<text transform="translate(482.00,562.95) scale(1,1.12)" font-size="8.6" fill="#1a1a1a" stroke="#1a1a1a" text-anchor="middle" >WCST−trai</text>
</svg>
</body></html>
